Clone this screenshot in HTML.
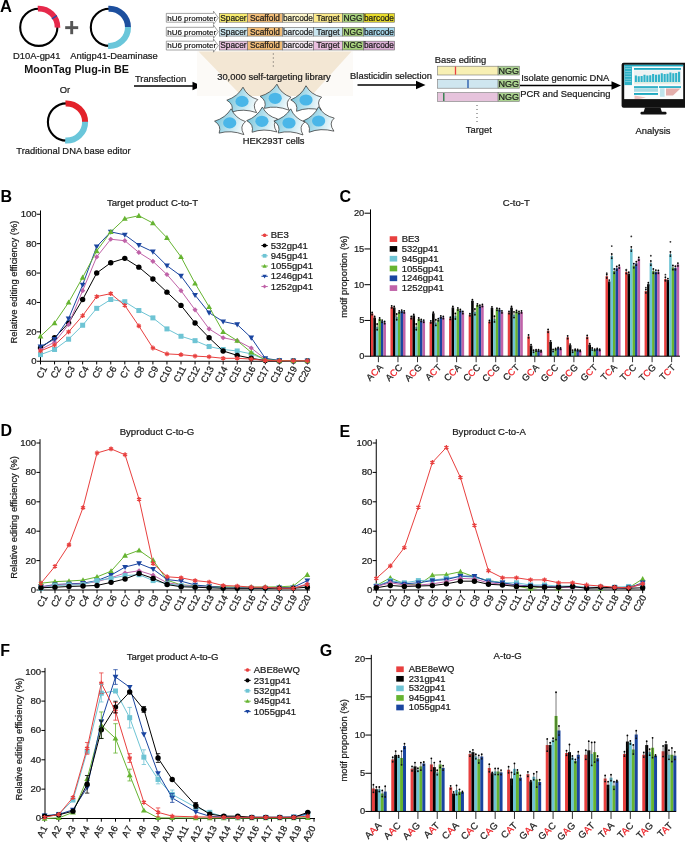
<!DOCTYPE html>
<html><head><meta charset="utf-8"><style>
html,body{margin:0;padding:0;background:#fff;}
svg{display:block;will-change:transform;}
text{font-family:"Liberation Sans",sans-serif;}
</style></head><body>
<svg width="685" height="842" viewBox="0 0 685 842">
<rect width="685" height="842" fill="#fff"/>
<defs><linearGradient id="cellg" x1="0" y1="0.2" x2="1" y2="0.5"><stop offset="0" stop-color="#72c0d6"/><stop offset="0.45" stop-color="#a9dbea"/><stop offset="1" stop-color="#f3fafc"/></linearGradient></defs>
<text x="0" y="12.2" font-size="16.5" text-anchor="start" font-weight="bold" fill="#000">A</text>
<circle cx="38.8" cy="27.3" r="18.6" fill="none" stroke="#000" stroke-width="2.1"/>
<path d="M37.82 8.63A18.7 18.7 0 0 1 57.5 27.63" fill="none" stroke="#e6294b" stroke-width="5.6"/>
<line x1="51.88" y1="18.8" x2="56.92" y2="15.54" stroke="#2c4aa0" stroke-width="1.4"/>
<rect x="65.2" y="26.2" width="13" height="2.9" fill="#555" stroke="none" stroke-width="0.6"/>
<rect x="70.25" y="21" width="2.9" height="13.2" fill="#555" stroke="none" stroke-width="0.6"/>
<circle cx="109.4" cy="27.3" r="18.6" fill="none" stroke="#000" stroke-width="2.1"/>
<path d="M108.43 8.73A18.6 18.6 0 0 1 128 27.62" fill="none" stroke="#1d4f9e" stroke-width="6"/>
<path d="M128 26.98A18.6 18.6 0 0 1 108.1 45.85" fill="none" stroke="#6ac6da" stroke-width="6"/>
<text x="36.8" y="58.9" font-size="9.4" text-anchor="middle" font-weight="normal" fill="#1a1a1a" stroke="#1a1a1a" stroke-width="0.22">D10A-gp41</text>
<text x="114" y="58.9" font-size="9.4" text-anchor="middle" font-weight="normal" fill="#1a1a1a" stroke="#1a1a1a" stroke-width="0.22">Antigp41-Deaminase</text>
<text x="76.6" y="73.4" font-size="10.8" text-anchor="middle" font-weight="bold" fill="#111">MoonTag Plug-in BE</text>
<text x="65" y="93.4" font-size="9.4" text-anchor="middle" font-weight="normal" fill="#1a1a1a" stroke="#1a1a1a" stroke-width="0.22">Or</text>
<circle cx="66.5" cy="122" r="18.6" fill="none" stroke="#000" stroke-width="2.1"/>
<path d="M65.53 103.43A18.6 18.6 0 0 1 85.1 122.32" fill="none" stroke="#e3222a" stroke-width="6"/>
<path d="M85.1 121.68A18.6 18.6 0 0 1 65.2 140.55" fill="none" stroke="#6ac6da" stroke-width="6"/>
<text x="73.5" y="154.2" font-size="9.4" text-anchor="middle" font-weight="normal" fill="#1a1a1a" stroke="#1a1a1a" stroke-width="0.22">Traditional DNA base editor</text>
<text x="160.5" y="81.8" font-size="9.4" text-anchor="middle" font-weight="normal" fill="#1a1a1a" stroke="#1a1a1a" stroke-width="0.22">Transfection</text>
<line x1="134" y1="86" x2="193.5" y2="86" stroke="#000000" stroke-width="1.3"/>
<path d="M202 86L192.5 81.7L192.5 90.3Z" fill="#000"/>
<rect x="197" y="51" width="156" height="45" fill="#fcfaf7"/>
<path d="M198.5 51.5L351.5 51.5L311.2 96L241.7 96Z" fill="#f3e7d4"/>
<path d="M166.3 13.4L213.5 13.4L213.5 11.2L218.3 17.8L213.5 24.4L213.5 22.2L166.3 22.2Z" fill="#fff" stroke="#666" stroke-width="0.6"/>
<text x="167.2" y="20.6" font-size="8" text-anchor="start" font-weight="normal" fill="#1a1a1a" stroke="#1a1a1a" stroke-width="0.22">hU6 promoter</text>
<rect x="219.3" y="13.4" width="28.2" height="8.8" fill="#f7eb6e" stroke="#666" stroke-width="0.6"/>
<text x="233.4" y="20.6" font-size="8.3" text-anchor="middle" font-weight="normal" fill="#1a1a1a" stroke="#1a1a1a" stroke-width="0.22">Spacer</text>
<rect x="247.5" y="13.4" width="34.9" height="8.8" fill="#f2bd78" stroke="#666" stroke-width="0.6"/>
<text x="264.95" y="20.6" font-size="8.3" text-anchor="middle" font-weight="normal" fill="#1a1a1a" stroke="#1a1a1a" stroke-width="0.22">Scaffold</text>
<rect x="282.4" y="13.4" width="31.2" height="8.8" fill="#fdf6cc" stroke="#666" stroke-width="0.6"/>
<text x="298" y="20.6" font-size="8.3" text-anchor="middle" font-weight="normal" fill="#1a1a1a" stroke="#1a1a1a" stroke-width="0.22">barcode</text>
<rect x="313.6" y="13.4" width="28.9" height="8.8" fill="#fbe98a" stroke="#666" stroke-width="0.6"/>
<text x="328.05" y="20.6" font-size="8.3" text-anchor="middle" font-weight="normal" fill="#1a1a1a" stroke="#1a1a1a" stroke-width="0.22">Target</text>
<rect x="342.5" y="13.4" width="20.9" height="8.8" fill="#a6d07c" stroke="#666" stroke-width="0.6"/>
<text x="352.95" y="20.6" font-size="8.3" text-anchor="middle" font-weight="normal" fill="#1a1a1a" stroke="#1a1a1a" stroke-width="0.22">NGG</text>
<rect x="363.4" y="13.4" width="31.2" height="8.8" fill="#e8dc2a" stroke="#666" stroke-width="0.6"/>
<text x="379" y="20.6" font-size="8.3" text-anchor="middle" font-weight="normal" fill="#1a1a1a" stroke="#1a1a1a" stroke-width="0.22">barcode</text>
<path d="M166.3 27.3L213.5 27.3L213.5 25.1L218.3 31.7L213.5 38.3L213.5 36.1L166.3 36.1Z" fill="#fff" stroke="#666" stroke-width="0.6"/>
<text x="167.2" y="34.5" font-size="8" text-anchor="start" font-weight="normal" fill="#1a1a1a" stroke="#1a1a1a" stroke-width="0.22">hU6 promoter</text>
<rect x="219.3" y="27.3" width="28.2" height="8.8" fill="#cce7f0" stroke="#666" stroke-width="0.6"/>
<text x="233.4" y="34.5" font-size="8.3" text-anchor="middle" font-weight="normal" fill="#1a1a1a" stroke="#1a1a1a" stroke-width="0.22">Spacer</text>
<rect x="247.5" y="27.3" width="34.9" height="8.8" fill="#f2bd78" stroke="#666" stroke-width="0.6"/>
<text x="264.95" y="34.5" font-size="8.3" text-anchor="middle" font-weight="normal" fill="#1a1a1a" stroke="#1a1a1a" stroke-width="0.22">Scaffold</text>
<rect x="282.4" y="27.3" width="31.2" height="8.8" fill="#e9f5f9" stroke="#666" stroke-width="0.6"/>
<text x="298" y="34.5" font-size="8.3" text-anchor="middle" font-weight="normal" fill="#1a1a1a" stroke="#1a1a1a" stroke-width="0.22">barcode</text>
<rect x="313.6" y="27.3" width="28.9" height="8.8" fill="#c9e6f0" stroke="#666" stroke-width="0.6"/>
<text x="328.05" y="34.5" font-size="8.3" text-anchor="middle" font-weight="normal" fill="#1a1a1a" stroke="#1a1a1a" stroke-width="0.22">Target</text>
<rect x="342.5" y="27.3" width="20.9" height="8.8" fill="#a6d07c" stroke="#666" stroke-width="0.6"/>
<text x="352.95" y="34.5" font-size="8.3" text-anchor="middle" font-weight="normal" fill="#1a1a1a" stroke="#1a1a1a" stroke-width="0.22">NGG</text>
<rect x="363.4" y="27.3" width="31.2" height="8.8" fill="#a6d8ec" stroke="#666" stroke-width="0.6"/>
<text x="379" y="34.5" font-size="8.3" text-anchor="middle" font-weight="normal" fill="#1a1a1a" stroke="#1a1a1a" stroke-width="0.22">barcode</text>
<path d="M166.3 41.2L213.5 41.2L213.5 39L218.3 45.6L213.5 52.2L213.5 50L166.3 50Z" fill="#fff" stroke="#666" stroke-width="0.6"/>
<text x="167.2" y="48.4" font-size="8" text-anchor="start" font-weight="normal" fill="#1a1a1a" stroke="#1a1a1a" stroke-width="0.22">hU6 promoter</text>
<rect x="219.3" y="41.2" width="28.2" height="8.8" fill="#e9c3e0" stroke="#666" stroke-width="0.6"/>
<text x="233.4" y="48.4" font-size="8.3" text-anchor="middle" font-weight="normal" fill="#1a1a1a" stroke="#1a1a1a" stroke-width="0.22">Spacer</text>
<rect x="247.5" y="41.2" width="34.9" height="8.8" fill="#f2bd78" stroke="#666" stroke-width="0.6"/>
<text x="264.95" y="48.4" font-size="8.3" text-anchor="middle" font-weight="normal" fill="#1a1a1a" stroke="#1a1a1a" stroke-width="0.22">Scaffold</text>
<rect x="282.4" y="41.2" width="31.2" height="8.8" fill="#f6e9f3" stroke="#666" stroke-width="0.6"/>
<text x="298" y="48.4" font-size="8.3" text-anchor="middle" font-weight="normal" fill="#1a1a1a" stroke="#1a1a1a" stroke-width="0.22">barcode</text>
<rect x="313.6" y="41.2" width="28.9" height="8.8" fill="#ebc0e0" stroke="#666" stroke-width="0.6"/>
<text x="328.05" y="48.4" font-size="8.3" text-anchor="middle" font-weight="normal" fill="#1a1a1a" stroke="#1a1a1a" stroke-width="0.22">Target</text>
<rect x="342.5" y="41.2" width="20.9" height="8.8" fill="#a6d07c" stroke="#666" stroke-width="0.6"/>
<text x="352.95" y="48.4" font-size="8.3" text-anchor="middle" font-weight="normal" fill="#1a1a1a" stroke="#1a1a1a" stroke-width="0.22">NGG</text>
<rect x="363.4" y="41.2" width="31.2" height="8.8" fill="#dcb0d6" stroke="#666" stroke-width="0.6"/>
<text x="379" y="48.4" font-size="8.3" text-anchor="middle" font-weight="normal" fill="#1a1a1a" stroke="#1a1a1a" stroke-width="0.22">barcode</text>
<line x1="273.3" y1="53.5" x2="273.3" y2="67.5" stroke="#444" stroke-width="0.9" stroke-dasharray="1 3"/>
<text x="274" y="80.2" font-size="9.4" text-anchor="middle" font-weight="normal" fill="#1a1a1a" stroke="#1a1a1a" stroke-width="0.22">30,000 self-targeting library</text>
<path d="M243 87.2Q247.21 96.44 257.8 99.6Q251.42 104.31 256.6 112.6Q243.36 108.16 231.8 112Q234.13 104.31 226.8 100.2Q237.6 96.63 243 87.2Z" fill="url(#cellg)" stroke="#2b2b2b" stroke-width="0.7" stroke-linejoin="miter" transform="rotate(0 242 101.4)"/>
<ellipse cx="242" cy="101.4" rx="6.6" ry="5.6" fill="#4ab6e8"/>
<path d="M276.2 84.1Q280.41 93.34 291 96.5Q284.62 101.21 289.8 109.5Q276.56 105.06 265 108.9Q267.33 101.21 260 97.1Q270.8 93.53 276.2 84.1Z" fill="url(#cellg)" stroke="#2b2b2b" stroke-width="0.7" stroke-linejoin="miter" transform="rotate(3 275.2 98.3)"/>
<ellipse cx="275.2" cy="98.3" rx="6.6" ry="5.6" fill="#4ab6e8"/>
<path d="M307 85.8Q311.21 95.04 321.8 98.2Q315.42 102.91 320.6 111.2Q307.36 106.76 295.8 110.6Q298.13 102.91 290.8 98.8Q301.6 95.23 307 85.8Z" fill="url(#cellg)" stroke="#2b2b2b" stroke-width="0.7" stroke-linejoin="miter" transform="rotate(-4 306 100)"/>
<ellipse cx="306" cy="100" rx="6.6" ry="5.6" fill="#4ab6e8"/>
<path d="M230.7 108.7Q234.91 117.94 245.5 121.1Q239.12 125.81 244.3 134.1Q231.06 129.66 219.5 133.5Q221.83 125.81 214.5 121.7Q225.3 118.13 230.7 108.7Z" fill="url(#cellg)" stroke="#2b2b2b" stroke-width="0.7" stroke-linejoin="miter" transform="rotate(2 229.7 122.9)"/>
<ellipse cx="229.7" cy="122.9" rx="6.6" ry="5.6" fill="#4ab6e8"/>
<path d="M262.9 107.1Q267.11 116.34 277.7 119.5Q271.32 124.21 276.5 132.5Q263.26 128.06 251.7 131.9Q254.03 124.21 246.7 120.1Q257.5 116.53 262.9 107.1Z" fill="url(#cellg)" stroke="#2b2b2b" stroke-width="0.7" stroke-linejoin="miter" transform="rotate(-2 261.9 121.3)"/>
<ellipse cx="261.9" cy="121.3" rx="6.6" ry="5.6" fill="#4ab6e8"/>
<path d="M290 108.8Q294.21 118.04 304.8 121.2Q298.42 125.91 303.6 134.2Q290.36 129.76 278.8 133.6Q281.13 125.91 273.8 121.8Q284.6 118.23 290 108.8Z" fill="url(#cellg)" stroke="#2b2b2b" stroke-width="0.7" stroke-linejoin="miter" transform="rotate(3 289 123)"/>
<ellipse cx="289" cy="123" rx="6.6" ry="5.6" fill="#4ab6e8"/>
<path d="M319.6 106.8Q323.81 116.04 334.4 119.2Q328.02 123.91 333.2 132.2Q319.96 127.76 308.4 131.6Q310.73 123.91 303.4 119.8Q314.2 116.23 319.6 106.8Z" fill="url(#cellg)" stroke="#2b2b2b" stroke-width="0.7" stroke-linejoin="miter" transform="rotate(-4 318.6 121)"/>
<ellipse cx="318.6" cy="121" rx="6.6" ry="5.6" fill="#4ab6e8"/>
<text x="273.6" y="144.4" font-size="9.4" text-anchor="middle" font-weight="normal" fill="#1a1a1a" stroke="#1a1a1a" stroke-width="0.22">HEK293T cells</text>
<text x="391" y="79.4" font-size="9.4" text-anchor="middle" font-weight="normal" fill="#1a1a1a" stroke="#1a1a1a" stroke-width="0.22">Blasticidin selection</text>
<line x1="357.5" y1="85" x2="417" y2="85" stroke="#000000" stroke-width="1.3"/>
<path d="M425.5 85L416 80.7L416 89.3Z" fill="#000"/>
<text x="460.5" y="62.5" font-size="9.4" text-anchor="middle" font-weight="normal" fill="#1a1a1a" stroke="#1a1a1a" stroke-width="0.22">Base editing</text>
<rect x="437.6" y="66.2" width="60.5" height="8.8" fill="#f8f0b4" stroke="#777" stroke-width="0.6"/>
<rect x="498.1" y="66.2" width="21.2" height="8.8" fill="#a9d18e" stroke="#777" stroke-width="0.6"/>
<text x="508.7" y="73.8" font-size="9" text-anchor="middle" font-weight="normal" fill="#1a1a1a" stroke="#1a1a1a" stroke-width="0.22">NGG</text>
<line x1="455.5" y1="66.5" x2="455.5" y2="74.7" stroke="#e8403f" stroke-width="1.3"/>
<rect x="437.6" y="79.4" width="60.5" height="8.8" fill="#cfe6ef" stroke="#777" stroke-width="0.6"/>
<rect x="498.1" y="79.4" width="21.2" height="8.8" fill="#a9d18e" stroke="#777" stroke-width="0.6"/>
<text x="508.7" y="87" font-size="9" text-anchor="middle" font-weight="normal" fill="#1a1a1a" stroke="#1a1a1a" stroke-width="0.22">NGG</text>
<line x1="468" y1="79.7" x2="468" y2="87.9" stroke="#1f54a8" stroke-width="1.3"/>
<rect x="437.6" y="92.6" width="60.5" height="8.8" fill="#e6c3dc" stroke="#777" stroke-width="0.6"/>
<rect x="498.1" y="92.6" width="21.2" height="8.8" fill="#a9d18e" stroke="#777" stroke-width="0.6"/>
<text x="508.7" y="100.2" font-size="9" text-anchor="middle" font-weight="normal" fill="#1a1a1a" stroke="#1a1a1a" stroke-width="0.22">NGG</text>
<line x1="443.8" y1="92.9" x2="443.8" y2="101.1" stroke="#1f7a3e" stroke-width="1.3"/>
<line x1="477" y1="105" x2="477" y2="123" stroke="#444" stroke-width="0.9" stroke-dasharray="1 3"/>
<text x="478.8" y="133.4" font-size="9.4" text-anchor="middle" font-weight="normal" fill="#1a1a1a" stroke="#1a1a1a" stroke-width="0.22">Target</text>
<text x="565.3" y="81" font-size="9.4" text-anchor="middle" font-weight="normal" fill="#1a1a1a" stroke="#1a1a1a" stroke-width="0.22">Isolate genomic DNA</text>
<text x="565.3" y="96.8" font-size="9.4" text-anchor="middle" font-weight="normal" fill="#1a1a1a" stroke="#1a1a1a" stroke-width="0.22">PCR and Sequencing</text>
<line x1="520" y1="85.5" x2="612.5" y2="85.5" stroke="#000000" stroke-width="1.3"/>
<path d="M621 85.5L611.5 81.2L611.5 89.8Z" fill="#000"/>
<rect x="621.6" y="62.7" width="66" height="45" rx="2" fill="#111"/>
<rect x="624.2" y="64.8" width="59" height="34.3" fill="#fbfcfc" stroke="none" stroke-width="0.6"/>
<rect x="624.2" y="64.8" width="59" height="1.6" fill="#1fa9c0" stroke="none" stroke-width="0.6"/>
<rect x="624.4" y="66.4" width="7.6" height="18.7" fill="#2fb2c7" stroke="none" stroke-width="0.6"/>
<rect x="625.2" y="68.5" width="6" height="0.5" fill="#bfe6ee" stroke="none" stroke-width="0.6"/>
<rect x="625.2" y="71.1" width="6" height="0.5" fill="#bfe6ee" stroke="none" stroke-width="0.6"/>
<rect x="625.2" y="73.7" width="6" height="0.5" fill="#bfe6ee" stroke="none" stroke-width="0.6"/>
<rect x="625.2" y="76.3" width="6" height="0.5" fill="#bfe6ee" stroke="none" stroke-width="0.6"/>
<rect x="625.2" y="78.9" width="6" height="0.5" fill="#bfe6ee" stroke="none" stroke-width="0.6"/>
<rect x="625.2" y="81.5" width="6" height="0.5" fill="#bfe6ee" stroke="none" stroke-width="0.6"/>
<rect x="634" y="68" width="47" height="1.8" fill="#1fa9c0" stroke="none" stroke-width="0.6"/>
<rect x="634" y="70.3" width="47" height="14.3" fill="#eef2f3" stroke="none" stroke-width="0.6"/>
<rect x="634.8" y="75.5" width="2.1" height="6.5" fill="#2fb3c9" stroke="none" stroke-width="0.6"/>
<rect x="637.68" y="76.25" width="2.1" height="5.75" fill="#2fb3c9" stroke="none" stroke-width="0.6"/>
<rect x="640.56" y="76" width="2.1" height="6" fill="#2fb3c9" stroke="none" stroke-width="0.6"/>
<rect x="643.44" y="74.75" width="2.1" height="7.25" fill="#2fb3c9" stroke="none" stroke-width="0.6"/>
<rect x="646.32" y="75.5" width="2.1" height="6.5" fill="#2fb3c9" stroke="none" stroke-width="0.6"/>
<rect x="649.2" y="75.25" width="2.1" height="6.75" fill="#2fb3c9" stroke="none" stroke-width="0.6"/>
<rect x="652.08" y="74" width="2.1" height="8" fill="#2fb3c9" stroke="none" stroke-width="0.6"/>
<rect x="654.96" y="74.75" width="2.1" height="7.25" fill="#2fb3c9" stroke="none" stroke-width="0.6"/>
<rect x="657.84" y="74.5" width="2.1" height="7.5" fill="#2fb3c9" stroke="none" stroke-width="0.6"/>
<rect x="660.72" y="73.25" width="2.1" height="8.75" fill="#2fb3c9" stroke="none" stroke-width="0.6"/>
<rect x="663.6" y="74" width="2.1" height="8" fill="#2fb3c9" stroke="none" stroke-width="0.6"/>
<rect x="666.48" y="73.75" width="2.1" height="8.25" fill="#2fb3c9" stroke="none" stroke-width="0.6"/>
<rect x="669.36" y="72.5" width="2.1" height="9.5" fill="#2fb3c9" stroke="none" stroke-width="0.6"/>
<rect x="672.24" y="73.25" width="2.1" height="8.75" fill="#2fb3c9" stroke="none" stroke-width="0.6"/>
<rect x="675.12" y="73" width="2.1" height="9" fill="#2fb3c9" stroke="none" stroke-width="0.6"/>
<rect x="678" y="71.75" width="2.1" height="10.25" fill="#2fb3c9" stroke="none" stroke-width="0.6"/>
<rect x="634" y="82.6" width="47" height="0.6" fill="#c9e6c0" stroke="none" stroke-width="0.6"/>
<rect x="634" y="86.2" width="24" height="1.7" fill="#1fa9c0" stroke="none" stroke-width="0.6"/>
<rect x="634" y="88.2" width="24" height="3.6" fill="#a9dbe4" stroke="none" stroke-width="0.6"/>
<rect x="634" y="93" width="24" height="1.9" fill="#1fa9c0" stroke="none" stroke-width="0.6"/>
<rect x="659" y="86.2" width="22" height="1.7" fill="#1fa9c0" stroke="none" stroke-width="0.6"/>
<rect x="660" y="88.3" width="4.6" height="8.5" fill="#bfe4ec" stroke="none" stroke-width="0.6"/>
<path d="M666 88.5L680.5 88.5L673 95.5L666 95.5Z" fill="#e3aeab"/>
<path d="M634.5 95.4L646 97.5L639 99L634.5 99Z" fill="#ecc1be"/>
<path d="M645 107.5L660.5 107.5L662 112.5L643.5 112.5Z" fill="#111"/>
<rect x="640.5" y="111.8" width="26" height="2.6" rx="1.2" fill="#111"/>
<text x="653" y="133.9" font-size="9.4" text-anchor="middle" font-weight="normal" fill="#1a1a1a" stroke="#1a1a1a" stroke-width="0.22">Analysis</text>
<text x="0.6" y="202" font-size="16" text-anchor="start" font-weight="bold" fill="#000">B</text>
<text x="152.5" y="205.7" font-size="9.6" text-anchor="middle" font-weight="normal" fill="#1a1a1a" stroke="#1a1a1a" stroke-width="0.22">Target product C-to-T</text>
<text x="0" y="0" font-size="9.4" text-anchor="middle" font-weight="normal" fill="#1a1a1a" transform="translate(17.1,282) rotate(-90)" stroke="#1a1a1a" stroke-width="0.22">Relative editing efficiency (%)</text>
<line x1="40.5" y1="361.75" x2="40.5" y2="210.45" stroke="#000000" stroke-width="1"/>
<line x1="36.9" y1="361.25" x2="40.5" y2="361.25" stroke="#000000" stroke-width="1"/>
<text x="36.7" y="364.15" font-size="9.6" text-anchor="end" font-weight="normal" fill="#1a1a1a" stroke="#1a1a1a" stroke-width="0.22">0</text>
<line x1="36.9" y1="331.85" x2="40.5" y2="331.85" stroke="#000000" stroke-width="1"/>
<text x="36.7" y="334.75" font-size="9.6" text-anchor="end" font-weight="normal" fill="#1a1a1a" stroke="#1a1a1a" stroke-width="0.22">20</text>
<line x1="36.9" y1="302.45" x2="40.5" y2="302.45" stroke="#000000" stroke-width="1"/>
<text x="36.7" y="305.35" font-size="9.6" text-anchor="end" font-weight="normal" fill="#1a1a1a" stroke="#1a1a1a" stroke-width="0.22">40</text>
<line x1="36.9" y1="273.05" x2="40.5" y2="273.05" stroke="#000000" stroke-width="1"/>
<text x="36.7" y="275.95" font-size="9.6" text-anchor="end" font-weight="normal" fill="#1a1a1a" stroke="#1a1a1a" stroke-width="0.22">60</text>
<line x1="36.9" y1="243.65" x2="40.5" y2="243.65" stroke="#000000" stroke-width="1"/>
<text x="36.7" y="246.55" font-size="9.6" text-anchor="end" font-weight="normal" fill="#1a1a1a" stroke="#1a1a1a" stroke-width="0.22">80</text>
<line x1="36.9" y1="214.25" x2="40.5" y2="214.25" stroke="#000000" stroke-width="1"/>
<text x="36.7" y="217.15" font-size="9.6" text-anchor="end" font-weight="normal" fill="#1a1a1a" stroke="#1a1a1a" stroke-width="0.22">100</text>
<line x1="40" y1="361.25" x2="310" y2="361.25" stroke="#000000" stroke-width="1"/>
<line x1="40.5" y1="361.25" x2="40.5" y2="364.45" stroke="#000000" stroke-width="1"/>
<text font-size="9.4" text-anchor="end" fill="#1a1a1a" stroke="#1a1a1a" stroke-width="0.22" transform="translate(47.5,368.35) rotate(-62)">C1</text>
<line x1="54.55" y1="361.25" x2="54.55" y2="364.45" stroke="#000000" stroke-width="1"/>
<text font-size="9.4" text-anchor="end" fill="#1a1a1a" stroke="#1a1a1a" stroke-width="0.22" transform="translate(61.39,368.35) rotate(-62)">C2</text>
<line x1="68.6" y1="361.25" x2="68.6" y2="364.45" stroke="#000000" stroke-width="1"/>
<text font-size="9.4" text-anchor="end" fill="#1a1a1a" stroke="#1a1a1a" stroke-width="0.22" transform="translate(75.28,368.35) rotate(-62)">C3</text>
<line x1="82.65" y1="361.25" x2="82.65" y2="364.45" stroke="#000000" stroke-width="1"/>
<text font-size="9.4" text-anchor="end" fill="#1a1a1a" stroke="#1a1a1a" stroke-width="0.22" transform="translate(89.17,368.35) rotate(-62)">C4</text>
<line x1="96.7" y1="361.25" x2="96.7" y2="364.45" stroke="#000000" stroke-width="1"/>
<text font-size="9.4" text-anchor="end" fill="#1a1a1a" stroke="#1a1a1a" stroke-width="0.22" transform="translate(103.06,368.35) rotate(-62)">C5</text>
<line x1="110.75" y1="361.25" x2="110.75" y2="364.45" stroke="#000000" stroke-width="1"/>
<text font-size="9.4" text-anchor="end" fill="#1a1a1a" stroke="#1a1a1a" stroke-width="0.22" transform="translate(116.95,368.35) rotate(-62)">C6</text>
<line x1="124.8" y1="361.25" x2="124.8" y2="364.45" stroke="#000000" stroke-width="1"/>
<text font-size="9.4" text-anchor="end" fill="#1a1a1a" stroke="#1a1a1a" stroke-width="0.22" transform="translate(130.84,368.35) rotate(-62)">C7</text>
<line x1="138.85" y1="361.25" x2="138.85" y2="364.45" stroke="#000000" stroke-width="1"/>
<text font-size="9.4" text-anchor="end" fill="#1a1a1a" stroke="#1a1a1a" stroke-width="0.22" transform="translate(144.73,368.35) rotate(-62)">C8</text>
<line x1="152.9" y1="361.25" x2="152.9" y2="364.45" stroke="#000000" stroke-width="1"/>
<text font-size="9.4" text-anchor="end" fill="#1a1a1a" stroke="#1a1a1a" stroke-width="0.22" transform="translate(158.62,368.35) rotate(-62)">C9</text>
<line x1="166.95" y1="361.25" x2="166.95" y2="364.45" stroke="#000000" stroke-width="1"/>
<text font-size="9.4" text-anchor="end" fill="#1a1a1a" stroke="#1a1a1a" stroke-width="0.22" transform="translate(172.51,368.35) rotate(-62)">C10</text>
<line x1="181" y1="361.25" x2="181" y2="364.45" stroke="#000000" stroke-width="1"/>
<text font-size="9.4" text-anchor="end" fill="#1a1a1a" stroke="#1a1a1a" stroke-width="0.22" transform="translate(186.4,368.35) rotate(-62)">C11</text>
<line x1="195.05" y1="361.25" x2="195.05" y2="364.45" stroke="#000000" stroke-width="1"/>
<text font-size="9.4" text-anchor="end" fill="#1a1a1a" stroke="#1a1a1a" stroke-width="0.22" transform="translate(200.29,368.35) rotate(-62)">C12</text>
<line x1="209.1" y1="361.25" x2="209.1" y2="364.45" stroke="#000000" stroke-width="1"/>
<text font-size="9.4" text-anchor="end" fill="#1a1a1a" stroke="#1a1a1a" stroke-width="0.22" transform="translate(214.18,368.35) rotate(-62)">C13</text>
<line x1="223.15" y1="361.25" x2="223.15" y2="364.45" stroke="#000000" stroke-width="1"/>
<text font-size="9.4" text-anchor="end" fill="#1a1a1a" stroke="#1a1a1a" stroke-width="0.22" transform="translate(228.07,368.35) rotate(-62)">C14</text>
<line x1="237.2" y1="361.25" x2="237.2" y2="364.45" stroke="#000000" stroke-width="1"/>
<text font-size="9.4" text-anchor="end" fill="#1a1a1a" stroke="#1a1a1a" stroke-width="0.22" transform="translate(241.96,368.35) rotate(-62)">C15</text>
<line x1="251.25" y1="361.25" x2="251.25" y2="364.45" stroke="#000000" stroke-width="1"/>
<text font-size="9.4" text-anchor="end" fill="#1a1a1a" stroke="#1a1a1a" stroke-width="0.22" transform="translate(255.85,368.35) rotate(-62)">C16</text>
<line x1="265.3" y1="361.25" x2="265.3" y2="364.45" stroke="#000000" stroke-width="1"/>
<text font-size="9.4" text-anchor="end" fill="#1a1a1a" stroke="#1a1a1a" stroke-width="0.22" transform="translate(269.74,368.35) rotate(-62)">C17</text>
<line x1="279.35" y1="361.25" x2="279.35" y2="364.45" stroke="#000000" stroke-width="1"/>
<text font-size="9.4" text-anchor="end" fill="#1a1a1a" stroke="#1a1a1a" stroke-width="0.22" transform="translate(283.63,368.35) rotate(-62)">C18</text>
<line x1="293.4" y1="361.25" x2="293.4" y2="364.45" stroke="#000000" stroke-width="1"/>
<text font-size="9.4" text-anchor="end" fill="#1a1a1a" stroke="#1a1a1a" stroke-width="0.22" transform="translate(297.52,368.35) rotate(-62)">C19</text>
<line x1="307.45" y1="361.25" x2="307.45" y2="364.45" stroke="#000000" stroke-width="1"/>
<text font-size="9.4" text-anchor="end" fill="#1a1a1a" stroke="#1a1a1a" stroke-width="0.22" transform="translate(311.41,368.35) rotate(-62)">C20</text>
<polyline points="40.5,354.63 54.55,349.49 68.6,339.2 82.65,325.24 96.7,308.33 110.75,299.51 124.8,301.72 138.85,310.54 152.9,317.88 166.95,328.91 181,336.26 195.05,340.67 209.1,346.55 223.15,349.49 237.2,350.96 251.25,353.9 265.3,359.78 279.35,360.81 293.4,360.81 307.45,360.81" fill="none" stroke="#6ec4d4" stroke-width="1" stroke-linejoin="round"/>
<rect x="38" y="352.13" width="5" height="5" fill="#6ec4d4" stroke="none" stroke-width="0.6"/>
<rect x="52.05" y="346.99" width="5" height="5" fill="#6ec4d4" stroke="none" stroke-width="0.6"/>
<rect x="66.1" y="336.7" width="5" height="5" fill="#6ec4d4" stroke="none" stroke-width="0.6"/>
<rect x="80.15" y="322.74" width="5" height="5" fill="#6ec4d4" stroke="none" stroke-width="0.6"/>
<rect x="94.2" y="305.83" width="5" height="5" fill="#6ec4d4" stroke="none" stroke-width="0.6"/>
<rect x="108.25" y="297.01" width="5" height="5" fill="#6ec4d4" stroke="none" stroke-width="0.6"/>
<rect x="122.3" y="299.22" width="5" height="5" fill="#6ec4d4" stroke="none" stroke-width="0.6"/>
<rect x="136.35" y="308.04" width="5" height="5" fill="#6ec4d4" stroke="none" stroke-width="0.6"/>
<rect x="150.4" y="315.38" width="5" height="5" fill="#6ec4d4" stroke="none" stroke-width="0.6"/>
<rect x="164.45" y="326.41" width="5" height="5" fill="#6ec4d4" stroke="none" stroke-width="0.6"/>
<rect x="178.5" y="333.76" width="5" height="5" fill="#6ec4d4" stroke="none" stroke-width="0.6"/>
<rect x="192.55" y="338.17" width="5" height="5" fill="#6ec4d4" stroke="none" stroke-width="0.6"/>
<rect x="206.6" y="344.05" width="5" height="5" fill="#6ec4d4" stroke="none" stroke-width="0.6"/>
<rect x="220.65" y="346.99" width="5" height="5" fill="#6ec4d4" stroke="none" stroke-width="0.6"/>
<rect x="234.7" y="348.46" width="5" height="5" fill="#6ec4d4" stroke="none" stroke-width="0.6"/>
<rect x="248.75" y="351.4" width="5" height="5" fill="#6ec4d4" stroke="none" stroke-width="0.6"/>
<rect x="262.8" y="357.28" width="5" height="5" fill="#6ec4d4" stroke="none" stroke-width="0.6"/>
<rect x="276.85" y="358.31" width="5" height="5" fill="#6ec4d4" stroke="none" stroke-width="0.6"/>
<rect x="290.9" y="358.31" width="5" height="5" fill="#6ec4d4" stroke="none" stroke-width="0.6"/>
<rect x="304.95" y="358.31" width="5" height="5" fill="#6ec4d4" stroke="none" stroke-width="0.6"/>
<polyline points="40.5,348.02 54.55,337.73 68.6,323.03 82.65,299.51 96.7,273.05 110.75,262.76 124.8,258.35 138.85,267.17 152.9,278.93 166.95,292.16 181,305.39 195.05,323.03 209.1,337.73 223.15,350.96 237.2,355.37 251.25,358.31 265.3,360.51 279.35,360.96 293.4,360.96 307.45,360.96" fill="none" stroke="#000000" stroke-width="1" stroke-linejoin="round"/>
<circle cx="40.5" cy="348.02" r="2.7" fill="#000000"/>
<circle cx="54.55" cy="337.73" r="2.7" fill="#000000"/>
<circle cx="68.6" cy="323.03" r="2.7" fill="#000000"/>
<circle cx="82.65" cy="299.51" r="2.7" fill="#000000"/>
<circle cx="96.7" cy="273.05" r="2.7" fill="#000000"/>
<circle cx="110.75" cy="262.76" r="2.7" fill="#000000"/>
<circle cx="124.8" cy="258.35" r="2.7" fill="#000000"/>
<circle cx="138.85" cy="267.17" r="2.7" fill="#000000"/>
<circle cx="152.9" cy="278.93" r="2.7" fill="#000000"/>
<circle cx="166.95" cy="292.16" r="2.7" fill="#000000"/>
<circle cx="181" cy="305.39" r="2.7" fill="#000000"/>
<circle cx="195.05" cy="323.03" r="2.7" fill="#000000"/>
<circle cx="209.1" cy="337.73" r="2.7" fill="#000000"/>
<circle cx="223.15" cy="350.96" r="2.7" fill="#000000"/>
<circle cx="237.2" cy="355.37" r="2.7" fill="#000000"/>
<circle cx="251.25" cy="358.31" r="2.7" fill="#000000"/>
<circle cx="265.3" cy="360.51" r="2.7" fill="#000000"/>
<circle cx="279.35" cy="360.96" r="2.7" fill="#000000"/>
<circle cx="293.4" cy="360.96" r="2.7" fill="#000000"/>
<circle cx="307.45" cy="360.96" r="2.7" fill="#000000"/>
<polyline points="40.5,349.49 54.55,342.14 68.6,324.5 82.65,290.69 96.7,256.88 110.75,239.24 124.8,240.71 138.85,252.47 152.9,261.29 166.95,274.52 181,290.69 195.05,309.8 209.1,328.91 223.15,337.73 237.2,340.67 251.25,348.02 265.3,359.05 279.35,360.51 293.4,360.81 307.45,360.81" fill="none" stroke="#c063a8" stroke-width="1" stroke-linejoin="round"/>
<path d="M40.5 346.89L43.1 349.49L40.5 352.09L37.9 349.49Z" fill="#c063a8"/>
<path d="M54.55 339.54L57.15 342.14L54.55 344.74L51.95 342.14Z" fill="#c063a8"/>
<path d="M68.6 321.9L71.2 324.5L68.6 327.1L66 324.5Z" fill="#c063a8"/>
<path d="M82.65 288.09L85.25 290.69L82.65 293.29L80.05 290.69Z" fill="#c063a8"/>
<path d="M96.7 254.28L99.3 256.88L96.7 259.48L94.1 256.88Z" fill="#c063a8"/>
<path d="M110.75 236.64L113.35 239.24L110.75 241.84L108.15 239.24Z" fill="#c063a8"/>
<path d="M124.8 238.11L127.4 240.71L124.8 243.31L122.2 240.71Z" fill="#c063a8"/>
<path d="M138.85 249.87L141.45 252.47L138.85 255.07L136.25 252.47Z" fill="#c063a8"/>
<path d="M152.9 258.69L155.5 261.29L152.9 263.89L150.3 261.29Z" fill="#c063a8"/>
<path d="M166.95 271.92L169.55 274.52L166.95 277.12L164.35 274.52Z" fill="#c063a8"/>
<path d="M181 288.09L183.6 290.69L181 293.29L178.4 290.69Z" fill="#c063a8"/>
<path d="M195.05 307.2L197.65 309.8L195.05 312.4L192.45 309.8Z" fill="#c063a8"/>
<path d="M209.1 326.31L211.7 328.91L209.1 331.51L206.5 328.91Z" fill="#c063a8"/>
<path d="M223.15 335.13L225.75 337.73L223.15 340.33L220.55 337.73Z" fill="#c063a8"/>
<path d="M237.2 338.07L239.8 340.67L237.2 343.27L234.6 340.67Z" fill="#c063a8"/>
<path d="M251.25 345.42L253.85 348.02L251.25 350.62L248.65 348.02Z" fill="#c063a8"/>
<path d="M265.3 356.44L267.9 359.05L265.3 361.65L262.7 359.05Z" fill="#c063a8"/>
<path d="M279.35 357.91L281.95 360.51L279.35 363.12L276.75 360.51Z" fill="#c063a8"/>
<path d="M293.4 358.21L296 360.81L293.4 363.41L290.8 360.81Z" fill="#c063a8"/>
<path d="M307.45 358.21L310.05 360.81L307.45 363.41L304.85 360.81Z" fill="#c063a8"/>
<polyline points="40.5,346.55 54.55,339.2 68.6,318.62 82.65,284.81 96.7,246.59 110.75,231.89 124.8,234.83 138.85,245.12 152.9,251.74 166.95,265.7 181,275.99 195.05,295.1 209.1,312.74 223.15,321.56 237.2,324.5 251.25,337.73 265.3,358.31 279.35,360.51 293.4,360.81 307.45,360.81" fill="none" stroke="#1a45a0" stroke-width="1" stroke-linejoin="round"/>
<path d="M40.5 349.45L43.4 344.38L37.6 344.38Z" fill="#1a45a0"/>
<path d="M54.55 342.1L57.45 337.02L51.65 337.02Z" fill="#1a45a0"/>
<path d="M68.6 321.52L71.5 316.44L65.7 316.44Z" fill="#1a45a0"/>
<path d="M82.65 287.71L85.55 282.63L79.75 282.63Z" fill="#1a45a0"/>
<path d="M96.7 249.49L99.6 244.41L93.8 244.41Z" fill="#1a45a0"/>
<path d="M110.75 234.79L113.65 229.72L107.85 229.72Z" fill="#1a45a0"/>
<path d="M124.8 237.73L127.7 232.65L121.9 232.65Z" fill="#1a45a0"/>
<path d="M138.85 248.02L141.75 242.94L135.95 242.94Z" fill="#1a45a0"/>
<path d="M152.9 254.64L155.8 249.56L150 249.56Z" fill="#1a45a0"/>
<path d="M166.95 268.6L169.85 263.52L164.05 263.52Z" fill="#1a45a0"/>
<path d="M181 278.89L183.9 273.81L178.1 273.81Z" fill="#1a45a0"/>
<path d="M195.05 298L197.95 292.93L192.15 292.93Z" fill="#1a45a0"/>
<path d="M209.1 315.64L212 310.56L206.2 310.56Z" fill="#1a45a0"/>
<path d="M223.15 324.46L226.05 319.38L220.25 319.38Z" fill="#1a45a0"/>
<path d="M237.2 327.4L240.1 322.32L234.3 322.32Z" fill="#1a45a0"/>
<path d="M251.25 340.63L254.15 335.56L248.35 335.56Z" fill="#1a45a0"/>
<path d="M265.3 361.21L268.2 356.13L262.4 356.13Z" fill="#1a45a0"/>
<path d="M279.35 363.41L282.25 358.34L276.45 358.34Z" fill="#1a45a0"/>
<path d="M293.4 363.71L296.3 358.63L290.5 358.63Z" fill="#1a45a0"/>
<path d="M307.45 363.71L310.35 358.63L304.55 358.63Z" fill="#1a45a0"/>
<polyline points="40.5,336.26 54.55,323.03 68.6,302.45 82.65,277.46 96.7,251 110.75,231.89 124.8,218.66 138.85,215.72 152.9,223.07 166.95,237.77 181,256.88 195.05,283.34 209.1,306.86 223.15,331.85 237.2,340.67 251.25,352.43 265.3,359.78 279.35,360.51 293.4,360.81 307.45,360.81" fill="none" stroke="#66b431" stroke-width="1" stroke-linejoin="round"/>
<path d="M40.5 333.36L43.4 338.44L37.6 338.44Z" fill="#66b431"/>
<path d="M54.55 320.13L57.45 325.2L51.65 325.2Z" fill="#66b431"/>
<path d="M68.6 299.55L71.5 304.62L65.7 304.62Z" fill="#66b431"/>
<path d="M82.65 274.56L85.55 279.64L79.75 279.64Z" fill="#66b431"/>
<path d="M96.7 248.1L99.6 253.18L93.8 253.18Z" fill="#66b431"/>
<path d="M110.75 228.99L113.65 234.07L107.85 234.07Z" fill="#66b431"/>
<path d="M124.8 215.76L127.7 220.84L121.9 220.84Z" fill="#66b431"/>
<path d="M138.85 212.82L141.75 217.9L135.95 217.9Z" fill="#66b431"/>
<path d="M152.9 220.17L155.8 225.25L150 225.25Z" fill="#66b431"/>
<path d="M166.95 234.87L169.85 239.94L164.05 239.94Z" fill="#66b431"/>
<path d="M181 253.98L183.9 259.06L178.1 259.06Z" fill="#66b431"/>
<path d="M195.05 280.44L197.95 285.52L192.15 285.52Z" fill="#66b431"/>
<path d="M209.1 303.96L212 309.04L206.2 309.04Z" fill="#66b431"/>
<path d="M223.15 328.95L226.05 334.03L220.25 334.03Z" fill="#66b431"/>
<path d="M237.2 337.77L240.1 342.85L234.3 342.85Z" fill="#66b431"/>
<path d="M251.25 349.53L254.15 354.61L248.35 354.61Z" fill="#66b431"/>
<path d="M265.3 356.88L268.2 361.95L262.4 361.95Z" fill="#66b431"/>
<path d="M279.35 357.62L282.25 362.69L276.45 362.69Z" fill="#66b431"/>
<path d="M293.4 357.91L296.3 362.98L290.5 362.98Z" fill="#66b431"/>
<path d="M307.45 357.91L310.35 362.98L304.55 362.98Z" fill="#66b431"/>
<polyline points="40.5,350.96 54.55,345.08 68.6,331.85 82.65,315.68 96.7,296.57 110.75,293.63 124.8,305.39 138.85,325.97 152.9,348.02 166.95,353.9 181,354.63 195.05,356.11 209.1,356.84 223.15,358.31 237.2,358.31 251.25,359.05 265.3,360.51 279.35,360.81 293.4,360.81 307.45,360.81" fill="none" stroke="#e8403f" stroke-width="1" stroke-linejoin="round"/>
<path d="M40.5 348.56L40.5 353.36M38.42 349.76L42.58 352.16M38.42 352.16L42.58 349.76" stroke="#e8403f" stroke-width="1.3" fill="none"/>
<path d="M54.55 342.68L54.55 347.48M52.47 343.88L56.63 346.28M52.47 346.28L56.63 343.88" stroke="#e8403f" stroke-width="1.3" fill="none"/>
<path d="M68.6 329.45L68.6 334.25M66.52 330.65L70.68 333.05M66.52 333.05L70.68 330.65" stroke="#e8403f" stroke-width="1.3" fill="none"/>
<path d="M82.65 313.28L82.65 318.08M80.57 314.48L84.73 316.88M80.57 316.88L84.73 314.48" stroke="#e8403f" stroke-width="1.3" fill="none"/>
<path d="M96.7 294.17L96.7 298.97M94.62 295.37L98.78 297.77M94.62 297.77L98.78 295.37" stroke="#e8403f" stroke-width="1.3" fill="none"/>
<path d="M110.75 291.23L110.75 296.03M108.67 292.43L112.83 294.83M108.67 294.83L112.83 292.43" stroke="#e8403f" stroke-width="1.3" fill="none"/>
<path d="M124.8 302.99L124.8 307.79M122.72 304.19L126.88 306.59M122.72 306.59L126.88 304.19" stroke="#e8403f" stroke-width="1.3" fill="none"/>
<path d="M138.85 323.57L138.85 328.37M136.77 324.77L140.93 327.17M136.77 327.17L140.93 324.77" stroke="#e8403f" stroke-width="1.3" fill="none"/>
<path d="M152.9 345.62L152.9 350.42M150.82 346.82L154.98 349.22M150.82 349.22L154.98 346.82" stroke="#e8403f" stroke-width="1.3" fill="none"/>
<path d="M166.95 351.5L166.95 356.3M164.87 352.7L169.03 355.1M164.87 355.1L169.03 352.7" stroke="#e8403f" stroke-width="1.3" fill="none"/>
<path d="M181 352.24L181 357.03M178.92 353.44L183.08 355.83M178.92 355.83L183.08 353.44" stroke="#e8403f" stroke-width="1.3" fill="none"/>
<path d="M195.05 353.71L195.05 358.5M192.97 354.91L197.13 357.31M192.97 357.31L197.13 354.91" stroke="#e8403f" stroke-width="1.3" fill="none"/>
<path d="M209.1 354.44L209.1 359.24M207.02 355.64L211.18 358.04M207.02 358.04L211.18 355.64" stroke="#e8403f" stroke-width="1.3" fill="none"/>
<path d="M223.15 355.91L223.15 360.71M221.07 357.11L225.23 359.51M221.07 359.51L225.23 357.11" stroke="#e8403f" stroke-width="1.3" fill="none"/>
<path d="M237.2 355.91L237.2 360.71M235.12 357.11L239.28 359.51M235.12 359.51L239.28 357.11" stroke="#e8403f" stroke-width="1.3" fill="none"/>
<path d="M251.25 356.65L251.25 361.44M249.17 357.85L253.33 360.25M249.17 360.25L253.33 357.85" stroke="#e8403f" stroke-width="1.3" fill="none"/>
<path d="M265.3 358.12L265.3 362.91M263.22 359.31L267.38 361.71M263.22 361.71L267.38 359.31" stroke="#e8403f" stroke-width="1.3" fill="none"/>
<path d="M279.35 358.41L279.35 363.21M277.27 359.61L281.43 362.01M277.27 362.01L281.43 359.61" stroke="#e8403f" stroke-width="1.3" fill="none"/>
<path d="M293.4 358.41L293.4 363.21M291.32 359.61L295.48 362.01M291.32 362.01L295.48 359.61" stroke="#e8403f" stroke-width="1.3" fill="none"/>
<path d="M307.45 358.41L307.45 363.21M305.37 359.61L309.53 362.01M305.37 362.01L309.53 359.61" stroke="#e8403f" stroke-width="1.3" fill="none"/>
<line x1="261.4" y1="235.3" x2="267.8" y2="235.3" stroke="#e8403f" stroke-width="1"/>
<path d="M264.6 233.5L264.6 237.1M263.04 234.4L266.16 236.2M263.04 236.2L266.16 234.4" stroke="#e8403f" stroke-width="1.3" fill="none"/>
<text x="0" y="0" font-size="9" text-anchor="start" font-weight="normal" fill="#1a1a1a" transform="translate(270.75,238.4) scale(1.06,1)" stroke="#1a1a1a" stroke-width="0.22">BE3</text>
<line x1="261.4" y1="245.55" x2="267.8" y2="245.55" stroke="#000000" stroke-width="1"/>
<circle cx="264.6" cy="245.55" r="2.03" fill="#000000"/>
<text x="0" y="0" font-size="9" text-anchor="start" font-weight="normal" fill="#1a1a1a" transform="translate(270.75,248.65) scale(1.06,1)" stroke="#1a1a1a" stroke-width="0.22">532gp41</text>
<line x1="261.4" y1="255.8" x2="267.8" y2="255.8" stroke="#6ec4d4" stroke-width="1"/>
<rect x="262.73" y="253.93" width="3.75" height="3.75" fill="#6ec4d4" stroke="none" stroke-width="0.6"/>
<text x="0" y="0" font-size="9" text-anchor="start" font-weight="normal" fill="#1a1a1a" transform="translate(270.75,258.9) scale(1.06,1)" stroke="#1a1a1a" stroke-width="0.22">945gp41</text>
<line x1="261.4" y1="266.05" x2="267.8" y2="266.05" stroke="#66b431" stroke-width="1"/>
<path d="M264.6 263.88L266.78 267.68L262.43 267.68Z" fill="#66b431"/>
<text x="0" y="0" font-size="9" text-anchor="start" font-weight="normal" fill="#1a1a1a" transform="translate(270.75,269.15) scale(1.06,1)" stroke="#1a1a1a" stroke-width="0.22">1055gp41</text>
<line x1="261.4" y1="276.3" x2="267.8" y2="276.3" stroke="#1a45a0" stroke-width="1"/>
<path d="M264.6 278.48L266.78 274.67L262.43 274.67Z" fill="#1a45a0"/>
<text x="0" y="0" font-size="9" text-anchor="start" font-weight="normal" fill="#1a1a1a" transform="translate(270.75,279.4) scale(1.06,1)" stroke="#1a1a1a" stroke-width="0.22">1246gp41</text>
<line x1="261.4" y1="286.55" x2="267.8" y2="286.55" stroke="#c063a8" stroke-width="1"/>
<path d="M264.6 284.6L266.55 286.55L264.6 288.5L262.65 286.55Z" fill="#c063a8"/>
<text x="0" y="0" font-size="9" text-anchor="start" font-weight="normal" fill="#1a1a1a" transform="translate(270.75,289.65) scale(1.06,1)" stroke="#1a1a1a" stroke-width="0.22">1252gp41</text>
<text x="339.5" y="201.5" font-size="16" text-anchor="start" font-weight="bold" fill="#000">C</text>
<text x="516.3" y="205.7" font-size="9.6" text-anchor="middle" font-weight="normal" fill="#1a1a1a" stroke="#1a1a1a" stroke-width="0.22">C-to-T</text>
<text x="0" y="0" font-size="9.4" text-anchor="middle" font-weight="normal" fill="#1a1a1a" transform="translate(347.2,276.7) rotate(-90)" stroke="#1a1a1a" stroke-width="0.22">motif proportion (%)</text>
<line x1="370.5" y1="356.7" x2="370.5" y2="209.4" stroke="#000000" stroke-width="1"/>
<line x1="364.5" y1="356.2" x2="370.5" y2="356.2" stroke="#000000" stroke-width="1"/>
<text x="364.3" y="359.1" font-size="9.3" text-anchor="end" font-weight="normal" fill="#1a1a1a" stroke="#1a1a1a" stroke-width="0.22">0</text>
<line x1="364.5" y1="320.45" x2="370.5" y2="320.45" stroke="#000000" stroke-width="1"/>
<text x="364.3" y="323.35" font-size="9.3" text-anchor="end" font-weight="normal" fill="#1a1a1a" stroke="#1a1a1a" stroke-width="0.22">5</text>
<line x1="364.5" y1="284.7" x2="370.5" y2="284.7" stroke="#000000" stroke-width="1"/>
<text x="364.3" y="287.6" font-size="9.3" text-anchor="end" font-weight="normal" fill="#1a1a1a" stroke="#1a1a1a" stroke-width="0.22">10</text>
<line x1="364.5" y1="248.95" x2="370.5" y2="248.95" stroke="#000000" stroke-width="1"/>
<text x="364.3" y="251.85" font-size="9.3" text-anchor="end" font-weight="normal" fill="#1a1a1a" stroke="#1a1a1a" stroke-width="0.22">15</text>
<line x1="364.5" y1="213.2" x2="370.5" y2="213.2" stroke="#000000" stroke-width="1"/>
<text x="364.3" y="216.1" font-size="9.3" text-anchor="end" font-weight="normal" fill="#1a1a1a" stroke="#1a1a1a" stroke-width="0.22">20</text>
<rect x="370.9" y="313.59" width="2.55" height="42.61" fill="#e8403f" stroke="none" stroke-width="0.6"/>
<rect x="373.4" y="317.59" width="2.55" height="38.61" fill="#000000" stroke="none" stroke-width="0.6"/>
<rect x="375.9" y="326.88" width="2.55" height="29.31" fill="#6ec4d4" stroke="none" stroke-width="0.6"/>
<rect x="378.4" y="319.02" width="2.55" height="37.18" fill="#66b431" stroke="none" stroke-width="0.6"/>
<rect x="380.9" y="321.16" width="2.55" height="35.04" fill="#1a45a0" stroke="none" stroke-width="0.6"/>
<rect x="383.4" y="322.59" width="2.55" height="33.61" fill="#c063a8" stroke="none" stroke-width="0.6"/>
<rect x="390.45" y="306.87" width="2.55" height="49.34" fill="#e8403f" stroke="none" stroke-width="0.6"/>
<rect x="392.95" y="307.58" width="2.55" height="48.62" fill="#000000" stroke="none" stroke-width="0.6"/>
<rect x="395.45" y="316.88" width="2.55" height="39.33" fill="#6ec4d4" stroke="none" stroke-width="0.6"/>
<rect x="397.95" y="311.87" width="2.55" height="44.33" fill="#66b431" stroke="none" stroke-width="0.6"/>
<rect x="400.45" y="311.15" width="2.55" height="45.05" fill="#1a45a0" stroke="none" stroke-width="0.6"/>
<rect x="402.95" y="311.87" width="2.55" height="44.33" fill="#c063a8" stroke="none" stroke-width="0.6"/>
<rect x="410" y="317.59" width="2.55" height="38.61" fill="#e8403f" stroke="none" stroke-width="0.6"/>
<rect x="412.5" y="315.44" width="2.55" height="40.76" fill="#000000" stroke="none" stroke-width="0.6"/>
<rect x="415" y="326.88" width="2.55" height="29.31" fill="#6ec4d4" stroke="none" stroke-width="0.6"/>
<rect x="417.5" y="319.02" width="2.55" height="37.18" fill="#66b431" stroke="none" stroke-width="0.6"/>
<rect x="420" y="320.45" width="2.55" height="35.75" fill="#1a45a0" stroke="none" stroke-width="0.6"/>
<rect x="422.5" y="321.16" width="2.55" height="35.04" fill="#c063a8" stroke="none" stroke-width="0.6"/>
<rect x="429.55" y="321.88" width="2.55" height="34.32" fill="#e8403f" stroke="none" stroke-width="0.6"/>
<rect x="432.05" y="313.3" width="2.55" height="42.9" fill="#000000" stroke="none" stroke-width="0.6"/>
<rect x="434.55" y="322.59" width="2.55" height="33.61" fill="#6ec4d4" stroke="none" stroke-width="0.6"/>
<rect x="437.05" y="319.74" width="2.55" height="36.46" fill="#66b431" stroke="none" stroke-width="0.6"/>
<rect x="439.55" y="316.88" width="2.55" height="39.33" fill="#1a45a0" stroke="none" stroke-width="0.6"/>
<rect x="442.05" y="317.59" width="2.55" height="38.61" fill="#c063a8" stroke="none" stroke-width="0.6"/>
<rect x="449.1" y="318.31" width="2.55" height="37.9" fill="#e8403f" stroke="none" stroke-width="0.6"/>
<rect x="451.6" y="307.58" width="2.55" height="48.62" fill="#000000" stroke="none" stroke-width="0.6"/>
<rect x="454.1" y="316.16" width="2.55" height="40.04" fill="#6ec4d4" stroke="none" stroke-width="0.6"/>
<rect x="456.6" y="309.01" width="2.55" height="47.19" fill="#66b431" stroke="none" stroke-width="0.6"/>
<rect x="459.1" y="310.44" width="2.55" height="45.76" fill="#1a45a0" stroke="none" stroke-width="0.6"/>
<rect x="461.6" y="312.58" width="2.55" height="43.62" fill="#c063a8" stroke="none" stroke-width="0.6"/>
<rect x="468.65" y="314.73" width="2.55" height="41.47" fill="#e8403f" stroke="none" stroke-width="0.6"/>
<rect x="471.15" y="300.79" width="2.55" height="55.41" fill="#000000" stroke="none" stroke-width="0.6"/>
<rect x="473.65" y="311.87" width="2.55" height="44.33" fill="#6ec4d4" stroke="none" stroke-width="0.6"/>
<rect x="476.15" y="304.86" width="2.55" height="51.34" fill="#66b431" stroke="none" stroke-width="0.6"/>
<rect x="478.65" y="306.29" width="2.55" height="49.91" fill="#1a45a0" stroke="none" stroke-width="0.6"/>
<rect x="481.15" y="305.44" width="2.55" height="50.77" fill="#c063a8" stroke="none" stroke-width="0.6"/>
<rect x="488.2" y="321.52" width="2.55" height="34.68" fill="#e8403f" stroke="none" stroke-width="0.6"/>
<rect x="490.7" y="307.87" width="2.55" height="48.33" fill="#000000" stroke="none" stroke-width="0.6"/>
<rect x="493.2" y="319.02" width="2.55" height="37.18" fill="#6ec4d4" stroke="none" stroke-width="0.6"/>
<rect x="495.7" y="309.22" width="2.55" height="46.98" fill="#66b431" stroke="none" stroke-width="0.6"/>
<rect x="498.2" y="309.72" width="2.55" height="46.48" fill="#1a45a0" stroke="none" stroke-width="0.6"/>
<rect x="500.7" y="311.87" width="2.55" height="44.33" fill="#c063a8" stroke="none" stroke-width="0.6"/>
<rect x="507.75" y="312.58" width="2.55" height="43.62" fill="#e8403f" stroke="none" stroke-width="0.6"/>
<rect x="510.25" y="307.58" width="2.55" height="48.62" fill="#000000" stroke="none" stroke-width="0.6"/>
<rect x="512.75" y="314.73" width="2.55" height="41.47" fill="#6ec4d4" stroke="none" stroke-width="0.6"/>
<rect x="515.25" y="311.37" width="2.55" height="44.83" fill="#66b431" stroke="none" stroke-width="0.6"/>
<rect x="517.75" y="312.58" width="2.55" height="43.62" fill="#1a45a0" stroke="none" stroke-width="0.6"/>
<rect x="520.25" y="311.87" width="2.55" height="44.33" fill="#c063a8" stroke="none" stroke-width="0.6"/>
<rect x="527.3" y="336.39" width="2.55" height="19.81" fill="#e8403f" stroke="none" stroke-width="0.6"/>
<rect x="529.8" y="345.69" width="2.55" height="10.51" fill="#000000" stroke="none" stroke-width="0.6"/>
<rect x="532.3" y="351.27" width="2.55" height="4.93" fill="#6ec4d4" stroke="none" stroke-width="0.6"/>
<rect x="534.8" y="350.48" width="2.55" height="5.72" fill="#66b431" stroke="none" stroke-width="0.6"/>
<rect x="537.3" y="350.48" width="2.55" height="5.72" fill="#1a45a0" stroke="none" stroke-width="0.6"/>
<rect x="539.8" y="351.19" width="2.55" height="5" fill="#c063a8" stroke="none" stroke-width="0.6"/>
<rect x="546.85" y="330.82" width="2.55" height="25.38" fill="#e8403f" stroke="none" stroke-width="0.6"/>
<rect x="549.35" y="341.9" width="2.55" height="14.3" fill="#000000" stroke="none" stroke-width="0.6"/>
<rect x="551.85" y="350.48" width="2.55" height="5.72" fill="#6ec4d4" stroke="none" stroke-width="0.6"/>
<rect x="554.35" y="349.05" width="2.55" height="7.15" fill="#66b431" stroke="none" stroke-width="0.6"/>
<rect x="556.85" y="348.12" width="2.55" height="8.08" fill="#1a45a0" stroke="none" stroke-width="0.6"/>
<rect x="559.35" y="348.69" width="2.55" height="7.51" fill="#c063a8" stroke="none" stroke-width="0.6"/>
<rect x="566.4" y="337.25" width="2.55" height="18.95" fill="#e8403f" stroke="none" stroke-width="0.6"/>
<rect x="568.9" y="345.19" width="2.55" height="11.01" fill="#000000" stroke="none" stroke-width="0.6"/>
<rect x="571.4" y="351.19" width="2.55" height="5" fill="#6ec4d4" stroke="none" stroke-width="0.6"/>
<rect x="573.9" y="349.91" width="2.55" height="6.29" fill="#66b431" stroke="none" stroke-width="0.6"/>
<rect x="576.4" y="350.05" width="2.55" height="6.15" fill="#1a45a0" stroke="none" stroke-width="0.6"/>
<rect x="578.9" y="350.91" width="2.55" height="5.29" fill="#c063a8" stroke="none" stroke-width="0.6"/>
<rect x="585.95" y="336.89" width="2.55" height="19.31" fill="#e8403f" stroke="none" stroke-width="0.6"/>
<rect x="588.45" y="344.76" width="2.55" height="11.44" fill="#000000" stroke="none" stroke-width="0.6"/>
<rect x="590.95" y="349.05" width="2.55" height="7.15" fill="#6ec4d4" stroke="none" stroke-width="0.6"/>
<rect x="593.45" y="349.76" width="2.55" height="6.44" fill="#66b431" stroke="none" stroke-width="0.6"/>
<rect x="595.95" y="349.05" width="2.55" height="7.15" fill="#1a45a0" stroke="none" stroke-width="0.6"/>
<rect x="598.45" y="349.76" width="2.55" height="6.44" fill="#c063a8" stroke="none" stroke-width="0.6"/>
<rect x="605.5" y="276.19" width="2.55" height="80.01" fill="#e8403f" stroke="none" stroke-width="0.6"/>
<rect x="608" y="281.48" width="2.55" height="74.72" fill="#000000" stroke="none" stroke-width="0.6"/>
<rect x="610.5" y="256.1" width="2.55" height="100.1" fill="#6ec4d4" stroke="none" stroke-width="0.6"/>
<rect x="613" y="271.12" width="2.55" height="85.09" fill="#66b431" stroke="none" stroke-width="0.6"/>
<rect x="615.5" y="268.25" width="2.55" height="87.95" fill="#1a45a0" stroke="none" stroke-width="0.6"/>
<rect x="618" y="266.61" width="2.55" height="89.59" fill="#c063a8" stroke="none" stroke-width="0.6"/>
<rect x="625.05" y="271.83" width="2.55" height="84.37" fill="#e8403f" stroke="none" stroke-width="0.6"/>
<rect x="627.55" y="273.62" width="2.55" height="82.58" fill="#000000" stroke="none" stroke-width="0.6"/>
<rect x="630.05" y="248.95" width="2.55" height="107.25" fill="#6ec4d4" stroke="none" stroke-width="0.6"/>
<rect x="632.55" y="265.68" width="2.55" height="90.52" fill="#66b431" stroke="none" stroke-width="0.6"/>
<rect x="635.05" y="263.39" width="2.55" height="92.81" fill="#1a45a0" stroke="none" stroke-width="0.6"/>
<rect x="637.55" y="258.75" width="2.55" height="97.45" fill="#c063a8" stroke="none" stroke-width="0.6"/>
<rect x="644.6" y="291.13" width="2.55" height="65.06" fill="#e8403f" stroke="none" stroke-width="0.6"/>
<rect x="647.1" y="284.13" width="2.55" height="72.07" fill="#000000" stroke="none" stroke-width="0.6"/>
<rect x="649.6" y="263.11" width="2.55" height="93.09" fill="#6ec4d4" stroke="none" stroke-width="0.6"/>
<rect x="652.1" y="271.12" width="2.55" height="85.09" fill="#66b431" stroke="none" stroke-width="0.6"/>
<rect x="654.6" y="271.83" width="2.55" height="84.37" fill="#1a45a0" stroke="none" stroke-width="0.6"/>
<rect x="657.1" y="271.83" width="2.55" height="84.37" fill="#c063a8" stroke="none" stroke-width="0.6"/>
<rect x="664.15" y="278.98" width="2.55" height="77.22" fill="#e8403f" stroke="none" stroke-width="0.6"/>
<rect x="666.65" y="280.05" width="2.55" height="76.15" fill="#000000" stroke="none" stroke-width="0.6"/>
<rect x="669.15" y="253.95" width="2.55" height="102.25" fill="#6ec4d4" stroke="none" stroke-width="0.6"/>
<rect x="671.65" y="267.54" width="2.55" height="88.66" fill="#66b431" stroke="none" stroke-width="0.6"/>
<rect x="674.15" y="267.97" width="2.55" height="88.23" fill="#1a45a0" stroke="none" stroke-width="0.6"/>
<rect x="676.65" y="264.47" width="2.55" height="91.73" fill="#c063a8" stroke="none" stroke-width="0.6"/>
<line x1="372.15" y1="312.51" x2="372.15" y2="314.66" stroke="#222" stroke-width="0.6"/>
<circle cx="372.15" cy="312.51" r="0.9" fill="#000"/>
<circle cx="372.15" cy="314.66" r="0.9" fill="#111"/>
<line x1="374.65" y1="316.52" x2="374.65" y2="318.66" stroke="#222" stroke-width="0.6"/>
<circle cx="374.65" cy="316.52" r="0.9" fill="#000"/>
<circle cx="374.65" cy="318.66" r="0.9" fill="#111"/>
<line x1="377.15" y1="324.02" x2="377.15" y2="329.75" stroke="#222" stroke-width="0.6"/>
<circle cx="377.15" cy="324.02" r="0.9" fill="#000"/>
<circle cx="377.15" cy="329.75" r="0.9" fill="#111"/>
<line x1="379.65" y1="317.95" x2="379.65" y2="320.09" stroke="#222" stroke-width="0.6"/>
<circle cx="379.65" cy="317.95" r="0.9" fill="#000"/>
<circle cx="379.65" cy="320.09" r="0.9" fill="#111"/>
<line x1="382.15" y1="320.09" x2="382.15" y2="322.24" stroke="#222" stroke-width="0.6"/>
<circle cx="382.15" cy="320.09" r="0.9" fill="#000"/>
<circle cx="382.15" cy="322.24" r="0.9" fill="#111"/>
<line x1="384.65" y1="321.52" x2="384.65" y2="323.67" stroke="#222" stroke-width="0.6"/>
<circle cx="384.65" cy="321.52" r="0.9" fill="#000"/>
<circle cx="384.65" cy="323.67" r="0.9" fill="#111"/>
<line x1="391.7" y1="305.79" x2="391.7" y2="307.94" stroke="#222" stroke-width="0.6"/>
<circle cx="391.7" cy="305.79" r="0.9" fill="#000"/>
<circle cx="391.7" cy="307.94" r="0.9" fill="#111"/>
<line x1="394.2" y1="306.51" x2="394.2" y2="308.65" stroke="#222" stroke-width="0.6"/>
<circle cx="394.2" cy="306.51" r="0.9" fill="#000"/>
<circle cx="394.2" cy="308.65" r="0.9" fill="#111"/>
<line x1="396.7" y1="314.01" x2="396.7" y2="319.74" stroke="#222" stroke-width="0.6"/>
<circle cx="396.7" cy="314.01" r="0.9" fill="#000"/>
<circle cx="396.7" cy="319.74" r="0.9" fill="#111"/>
<line x1="399.2" y1="310.8" x2="399.2" y2="312.94" stroke="#222" stroke-width="0.6"/>
<circle cx="399.2" cy="310.8" r="0.9" fill="#000"/>
<circle cx="399.2" cy="312.94" r="0.9" fill="#111"/>
<line x1="401.7" y1="310.08" x2="401.7" y2="312.23" stroke="#222" stroke-width="0.6"/>
<circle cx="401.7" cy="310.08" r="0.9" fill="#000"/>
<circle cx="401.7" cy="312.23" r="0.9" fill="#111"/>
<line x1="404.2" y1="310.8" x2="404.2" y2="312.94" stroke="#222" stroke-width="0.6"/>
<circle cx="404.2" cy="310.8" r="0.9" fill="#000"/>
<circle cx="404.2" cy="312.94" r="0.9" fill="#111"/>
<line x1="411.25" y1="316.52" x2="411.25" y2="318.66" stroke="#222" stroke-width="0.6"/>
<circle cx="411.25" cy="316.52" r="0.9" fill="#000"/>
<circle cx="411.25" cy="318.66" r="0.9" fill="#111"/>
<line x1="413.75" y1="314.37" x2="413.75" y2="316.52" stroke="#222" stroke-width="0.6"/>
<circle cx="413.75" cy="314.37" r="0.9" fill="#000"/>
<circle cx="413.75" cy="316.52" r="0.9" fill="#111"/>
<line x1="416.25" y1="324.02" x2="416.25" y2="329.75" stroke="#222" stroke-width="0.6"/>
<circle cx="416.25" cy="324.02" r="0.9" fill="#000"/>
<circle cx="416.25" cy="329.75" r="0.9" fill="#111"/>
<line x1="418.75" y1="317.95" x2="418.75" y2="320.09" stroke="#222" stroke-width="0.6"/>
<circle cx="418.75" cy="317.95" r="0.9" fill="#000"/>
<circle cx="418.75" cy="320.09" r="0.9" fill="#111"/>
<line x1="421.25" y1="319.38" x2="421.25" y2="321.52" stroke="#222" stroke-width="0.6"/>
<circle cx="421.25" cy="319.38" r="0.9" fill="#000"/>
<circle cx="421.25" cy="321.52" r="0.9" fill="#111"/>
<line x1="423.75" y1="320.09" x2="423.75" y2="322.24" stroke="#222" stroke-width="0.6"/>
<circle cx="423.75" cy="320.09" r="0.9" fill="#000"/>
<circle cx="423.75" cy="322.24" r="0.9" fill="#111"/>
<line x1="430.8" y1="320.81" x2="430.8" y2="322.95" stroke="#222" stroke-width="0.6"/>
<circle cx="430.8" cy="320.81" r="0.9" fill="#000"/>
<circle cx="430.8" cy="322.95" r="0.9" fill="#111"/>
<line x1="433.3" y1="312.23" x2="433.3" y2="314.37" stroke="#222" stroke-width="0.6"/>
<circle cx="433.3" cy="312.23" r="0.9" fill="#000"/>
<circle cx="433.3" cy="314.37" r="0.9" fill="#111"/>
<line x1="435.8" y1="319.74" x2="435.8" y2="325.45" stroke="#222" stroke-width="0.6"/>
<circle cx="435.8" cy="319.74" r="0.9" fill="#000"/>
<circle cx="435.8" cy="325.45" r="0.9" fill="#111"/>
<line x1="438.3" y1="318.66" x2="438.3" y2="320.81" stroke="#222" stroke-width="0.6"/>
<circle cx="438.3" cy="318.66" r="0.9" fill="#000"/>
<circle cx="438.3" cy="320.81" r="0.9" fill="#111"/>
<line x1="440.8" y1="315.8" x2="440.8" y2="317.95" stroke="#222" stroke-width="0.6"/>
<circle cx="440.8" cy="315.8" r="0.9" fill="#000"/>
<circle cx="440.8" cy="317.95" r="0.9" fill="#111"/>
<line x1="443.3" y1="316.52" x2="443.3" y2="318.66" stroke="#222" stroke-width="0.6"/>
<circle cx="443.3" cy="316.52" r="0.9" fill="#000"/>
<circle cx="443.3" cy="318.66" r="0.9" fill="#111"/>
<line x1="450.35" y1="317.23" x2="450.35" y2="319.38" stroke="#222" stroke-width="0.6"/>
<circle cx="450.35" cy="317.23" r="0.9" fill="#000"/>
<circle cx="450.35" cy="319.38" r="0.9" fill="#111"/>
<line x1="452.85" y1="306.51" x2="452.85" y2="308.65" stroke="#222" stroke-width="0.6"/>
<circle cx="452.85" cy="306.51" r="0.9" fill="#000"/>
<circle cx="452.85" cy="308.65" r="0.9" fill="#111"/>
<line x1="455.35" y1="313.3" x2="455.35" y2="319.02" stroke="#222" stroke-width="0.6"/>
<circle cx="455.35" cy="313.3" r="0.9" fill="#000"/>
<circle cx="455.35" cy="319.02" r="0.9" fill="#111"/>
<line x1="457.85" y1="307.94" x2="457.85" y2="310.08" stroke="#222" stroke-width="0.6"/>
<circle cx="457.85" cy="307.94" r="0.9" fill="#000"/>
<circle cx="457.85" cy="310.08" r="0.9" fill="#111"/>
<line x1="460.35" y1="309.37" x2="460.35" y2="311.51" stroke="#222" stroke-width="0.6"/>
<circle cx="460.35" cy="309.37" r="0.9" fill="#000"/>
<circle cx="460.35" cy="311.51" r="0.9" fill="#111"/>
<line x1="462.85" y1="311.51" x2="462.85" y2="313.66" stroke="#222" stroke-width="0.6"/>
<circle cx="462.85" cy="311.51" r="0.9" fill="#000"/>
<circle cx="462.85" cy="313.66" r="0.9" fill="#111"/>
<line x1="469.9" y1="313.66" x2="469.9" y2="315.8" stroke="#222" stroke-width="0.6"/>
<circle cx="469.9" cy="313.66" r="0.9" fill="#000"/>
<circle cx="469.9" cy="315.8" r="0.9" fill="#111"/>
<line x1="472.4" y1="299.71" x2="472.4" y2="301.86" stroke="#222" stroke-width="0.6"/>
<circle cx="472.4" cy="299.71" r="0.9" fill="#000"/>
<circle cx="472.4" cy="301.86" r="0.9" fill="#111"/>
<line x1="474.9" y1="309.01" x2="474.9" y2="314.73" stroke="#222" stroke-width="0.6"/>
<circle cx="474.9" cy="309.01" r="0.9" fill="#000"/>
<circle cx="474.9" cy="314.73" r="0.9" fill="#111"/>
<line x1="477.4" y1="303.79" x2="477.4" y2="305.94" stroke="#222" stroke-width="0.6"/>
<circle cx="477.4" cy="303.79" r="0.9" fill="#000"/>
<circle cx="477.4" cy="305.94" r="0.9" fill="#111"/>
<line x1="479.9" y1="305.22" x2="479.9" y2="307.37" stroke="#222" stroke-width="0.6"/>
<circle cx="479.9" cy="305.22" r="0.9" fill="#000"/>
<circle cx="479.9" cy="307.37" r="0.9" fill="#111"/>
<line x1="482.4" y1="304.36" x2="482.4" y2="306.51" stroke="#222" stroke-width="0.6"/>
<circle cx="482.4" cy="304.36" r="0.9" fill="#000"/>
<circle cx="482.4" cy="306.51" r="0.9" fill="#111"/>
<line x1="489.45" y1="320.45" x2="489.45" y2="322.59" stroke="#222" stroke-width="0.6"/>
<circle cx="489.45" cy="320.45" r="0.9" fill="#000"/>
<circle cx="489.45" cy="322.59" r="0.9" fill="#111"/>
<line x1="491.95" y1="306.79" x2="491.95" y2="308.94" stroke="#222" stroke-width="0.6"/>
<circle cx="491.95" cy="306.79" r="0.9" fill="#000"/>
<circle cx="491.95" cy="308.94" r="0.9" fill="#111"/>
<line x1="494.45" y1="316.16" x2="494.45" y2="321.88" stroke="#222" stroke-width="0.6"/>
<circle cx="494.45" cy="316.16" r="0.9" fill="#000"/>
<circle cx="494.45" cy="321.88" r="0.9" fill="#111"/>
<line x1="496.95" y1="308.15" x2="496.95" y2="310.3" stroke="#222" stroke-width="0.6"/>
<circle cx="496.95" cy="308.15" r="0.9" fill="#000"/>
<circle cx="496.95" cy="310.3" r="0.9" fill="#111"/>
<line x1="499.45" y1="308.65" x2="499.45" y2="310.8" stroke="#222" stroke-width="0.6"/>
<circle cx="499.45" cy="308.65" r="0.9" fill="#000"/>
<circle cx="499.45" cy="310.8" r="0.9" fill="#111"/>
<line x1="501.95" y1="310.8" x2="501.95" y2="312.94" stroke="#222" stroke-width="0.6"/>
<circle cx="501.95" cy="310.8" r="0.9" fill="#000"/>
<circle cx="501.95" cy="312.94" r="0.9" fill="#111"/>
<line x1="509" y1="311.51" x2="509" y2="313.66" stroke="#222" stroke-width="0.6"/>
<circle cx="509" cy="311.51" r="0.9" fill="#000"/>
<circle cx="509" cy="313.66" r="0.9" fill="#111"/>
<line x1="511.5" y1="306.51" x2="511.5" y2="308.65" stroke="#222" stroke-width="0.6"/>
<circle cx="511.5" cy="306.51" r="0.9" fill="#000"/>
<circle cx="511.5" cy="308.65" r="0.9" fill="#111"/>
<line x1="514" y1="311.87" x2="514" y2="317.59" stroke="#222" stroke-width="0.6"/>
<circle cx="514" cy="311.87" r="0.9" fill="#000"/>
<circle cx="514" cy="317.59" r="0.9" fill="#111"/>
<line x1="516.5" y1="310.3" x2="516.5" y2="312.44" stroke="#222" stroke-width="0.6"/>
<circle cx="516.5" cy="310.3" r="0.9" fill="#000"/>
<circle cx="516.5" cy="312.44" r="0.9" fill="#111"/>
<line x1="519" y1="311.51" x2="519" y2="313.66" stroke="#222" stroke-width="0.6"/>
<circle cx="519" cy="311.51" r="0.9" fill="#000"/>
<circle cx="519" cy="313.66" r="0.9" fill="#111"/>
<line x1="521.5" y1="310.8" x2="521.5" y2="312.94" stroke="#222" stroke-width="0.6"/>
<circle cx="521.5" cy="310.8" r="0.9" fill="#000"/>
<circle cx="521.5" cy="312.94" r="0.9" fill="#111"/>
<line x1="528.55" y1="334.96" x2="528.55" y2="337.82" stroke="#222" stroke-width="0.6"/>
<circle cx="528.55" cy="334.96" r="0.9" fill="#000"/>
<circle cx="528.55" cy="337.82" r="0.9" fill="#111"/>
<line x1="531.05" y1="344.62" x2="531.05" y2="346.76" stroke="#222" stroke-width="0.6"/>
<circle cx="531.05" cy="344.62" r="0.9" fill="#000"/>
<circle cx="531.05" cy="346.76" r="0.9" fill="#111"/>
<line x1="533.55" y1="350.19" x2="533.55" y2="352.34" stroke="#222" stroke-width="0.6"/>
<circle cx="533.55" cy="350.19" r="0.9" fill="#000"/>
<circle cx="533.55" cy="352.34" r="0.9" fill="#111"/>
<line x1="536.05" y1="349.76" x2="536.05" y2="351.19" stroke="#222" stroke-width="0.6"/>
<circle cx="536.05" cy="349.76" r="0.9" fill="#000"/>
<circle cx="536.05" cy="351.19" r="0.9" fill="#111"/>
<line x1="538.55" y1="349.76" x2="538.55" y2="351.19" stroke="#222" stroke-width="0.6"/>
<circle cx="538.55" cy="349.76" r="0.9" fill="#000"/>
<circle cx="538.55" cy="351.19" r="0.9" fill="#111"/>
<line x1="541.05" y1="350.48" x2="541.05" y2="351.91" stroke="#222" stroke-width="0.6"/>
<circle cx="541.05" cy="350.48" r="0.9" fill="#000"/>
<circle cx="541.05" cy="351.91" r="0.9" fill="#111"/>
<line x1="548.1" y1="329.39" x2="548.1" y2="332.25" stroke="#222" stroke-width="0.6"/>
<circle cx="548.1" cy="329.39" r="0.9" fill="#000"/>
<circle cx="548.1" cy="332.25" r="0.9" fill="#111"/>
<line x1="550.6" y1="340.83" x2="550.6" y2="342.97" stroke="#222" stroke-width="0.6"/>
<circle cx="550.6" cy="340.83" r="0.9" fill="#000"/>
<circle cx="550.6" cy="342.97" r="0.9" fill="#111"/>
<line x1="553.1" y1="349.41" x2="553.1" y2="351.55" stroke="#222" stroke-width="0.6"/>
<circle cx="553.1" cy="349.41" r="0.9" fill="#000"/>
<circle cx="553.1" cy="351.55" r="0.9" fill="#111"/>
<line x1="555.6" y1="348.33" x2="555.6" y2="349.76" stroke="#222" stroke-width="0.6"/>
<circle cx="555.6" cy="348.33" r="0.9" fill="#000"/>
<circle cx="555.6" cy="349.76" r="0.9" fill="#111"/>
<line x1="558.1" y1="347.41" x2="558.1" y2="348.84" stroke="#222" stroke-width="0.6"/>
<circle cx="558.1" cy="347.41" r="0.9" fill="#000"/>
<circle cx="558.1" cy="348.84" r="0.9" fill="#111"/>
<line x1="560.6" y1="347.98" x2="560.6" y2="349.41" stroke="#222" stroke-width="0.6"/>
<circle cx="560.6" cy="347.98" r="0.9" fill="#000"/>
<circle cx="560.6" cy="349.41" r="0.9" fill="#111"/>
<line x1="567.65" y1="335.82" x2="567.65" y2="338.68" stroke="#222" stroke-width="0.6"/>
<circle cx="567.65" cy="335.82" r="0.9" fill="#000"/>
<circle cx="567.65" cy="338.68" r="0.9" fill="#111"/>
<line x1="570.15" y1="344.12" x2="570.15" y2="346.26" stroke="#222" stroke-width="0.6"/>
<circle cx="570.15" cy="344.12" r="0.9" fill="#000"/>
<circle cx="570.15" cy="346.26" r="0.9" fill="#111"/>
<line x1="572.65" y1="350.12" x2="572.65" y2="352.27" stroke="#222" stroke-width="0.6"/>
<circle cx="572.65" cy="350.12" r="0.9" fill="#000"/>
<circle cx="572.65" cy="352.27" r="0.9" fill="#111"/>
<line x1="575.15" y1="349.19" x2="575.15" y2="350.62" stroke="#222" stroke-width="0.6"/>
<circle cx="575.15" cy="349.19" r="0.9" fill="#000"/>
<circle cx="575.15" cy="350.62" r="0.9" fill="#111"/>
<line x1="577.65" y1="349.34" x2="577.65" y2="350.77" stroke="#222" stroke-width="0.6"/>
<circle cx="577.65" cy="349.34" r="0.9" fill="#000"/>
<circle cx="577.65" cy="350.77" r="0.9" fill="#111"/>
<line x1="580.15" y1="350.19" x2="580.15" y2="351.62" stroke="#222" stroke-width="0.6"/>
<circle cx="580.15" cy="350.19" r="0.9" fill="#000"/>
<circle cx="580.15" cy="351.62" r="0.9" fill="#111"/>
<line x1="587.2" y1="335.46" x2="587.2" y2="338.32" stroke="#222" stroke-width="0.6"/>
<circle cx="587.2" cy="335.46" r="0.9" fill="#000"/>
<circle cx="587.2" cy="338.32" r="0.9" fill="#111"/>
<line x1="589.7" y1="343.69" x2="589.7" y2="345.83" stroke="#222" stroke-width="0.6"/>
<circle cx="589.7" cy="343.69" r="0.9" fill="#000"/>
<circle cx="589.7" cy="345.83" r="0.9" fill="#111"/>
<line x1="592.2" y1="347.98" x2="592.2" y2="350.12" stroke="#222" stroke-width="0.6"/>
<circle cx="592.2" cy="347.98" r="0.9" fill="#000"/>
<circle cx="592.2" cy="350.12" r="0.9" fill="#111"/>
<line x1="594.7" y1="349.05" x2="594.7" y2="350.48" stroke="#222" stroke-width="0.6"/>
<circle cx="594.7" cy="349.05" r="0.9" fill="#000"/>
<circle cx="594.7" cy="350.48" r="0.9" fill="#111"/>
<line x1="597.2" y1="348.33" x2="597.2" y2="349.76" stroke="#222" stroke-width="0.6"/>
<circle cx="597.2" cy="348.33" r="0.9" fill="#000"/>
<circle cx="597.2" cy="349.76" r="0.9" fill="#111"/>
<line x1="599.7" y1="349.05" x2="599.7" y2="350.48" stroke="#222" stroke-width="0.6"/>
<circle cx="599.7" cy="349.05" r="0.9" fill="#000"/>
<circle cx="599.7" cy="350.48" r="0.9" fill="#111"/>
<line x1="606.75" y1="274.4" x2="606.75" y2="277.98" stroke="#222" stroke-width="0.6"/>
<circle cx="606.75" cy="274.4" r="0.9" fill="#000"/>
<circle cx="606.75" cy="277.98" r="0.9" fill="#111"/>
<line x1="609.25" y1="280.05" x2="609.25" y2="282.91" stroke="#222" stroke-width="0.6"/>
<circle cx="609.25" cy="280.05" r="0.9" fill="#000"/>
<circle cx="609.25" cy="282.91" r="0.9" fill="#111"/>
<line x1="611.75" y1="253.95" x2="611.75" y2="258.25" stroke="#222" stroke-width="0.6"/>
<circle cx="611.75" cy="253.95" r="0.9" fill="#000"/>
<circle cx="611.75" cy="258.25" r="0.9" fill="#111"/>
<line x1="614.25" y1="268.97" x2="614.25" y2="273.26" stroke="#222" stroke-width="0.6"/>
<circle cx="614.25" cy="268.97" r="0.9" fill="#000"/>
<circle cx="614.25" cy="273.26" r="0.9" fill="#111"/>
<line x1="616.75" y1="266.47" x2="616.75" y2="270.04" stroke="#222" stroke-width="0.6"/>
<circle cx="616.75" cy="266.47" r="0.9" fill="#000"/>
<circle cx="616.75" cy="270.04" r="0.9" fill="#111"/>
<line x1="619.25" y1="265.18" x2="619.25" y2="268.04" stroke="#222" stroke-width="0.6"/>
<circle cx="619.25" cy="265.18" r="0.9" fill="#000"/>
<circle cx="619.25" cy="268.04" r="0.9" fill="#111"/>
<line x1="626.3" y1="270.04" x2="626.3" y2="273.62" stroke="#222" stroke-width="0.6"/>
<circle cx="626.3" cy="270.04" r="0.9" fill="#000"/>
<circle cx="626.3" cy="273.62" r="0.9" fill="#111"/>
<line x1="628.8" y1="272.19" x2="628.8" y2="275.05" stroke="#222" stroke-width="0.6"/>
<circle cx="628.8" cy="272.19" r="0.9" fill="#000"/>
<circle cx="628.8" cy="275.05" r="0.9" fill="#111"/>
<line x1="631.3" y1="246.8" x2="631.3" y2="251.09" stroke="#222" stroke-width="0.6"/>
<circle cx="631.3" cy="246.8" r="0.9" fill="#000"/>
<circle cx="631.3" cy="251.09" r="0.9" fill="#111"/>
<line x1="633.8" y1="263.54" x2="633.8" y2="267.83" stroke="#222" stroke-width="0.6"/>
<circle cx="633.8" cy="263.54" r="0.9" fill="#000"/>
<circle cx="633.8" cy="267.83" r="0.9" fill="#111"/>
<line x1="636.3" y1="261.61" x2="636.3" y2="265.18" stroke="#222" stroke-width="0.6"/>
<circle cx="636.3" cy="261.61" r="0.9" fill="#000"/>
<circle cx="636.3" cy="265.18" r="0.9" fill="#111"/>
<line x1="638.8" y1="257.32" x2="638.8" y2="260.18" stroke="#222" stroke-width="0.6"/>
<circle cx="638.8" cy="257.32" r="0.9" fill="#000"/>
<circle cx="638.8" cy="260.18" r="0.9" fill="#111"/>
<line x1="645.85" y1="289.35" x2="645.85" y2="292.92" stroke="#222" stroke-width="0.6"/>
<circle cx="645.85" cy="289.35" r="0.9" fill="#000"/>
<circle cx="645.85" cy="292.92" r="0.9" fill="#111"/>
<line x1="648.35" y1="282.7" x2="648.35" y2="285.56" stroke="#222" stroke-width="0.6"/>
<circle cx="648.35" cy="282.7" r="0.9" fill="#000"/>
<circle cx="648.35" cy="285.56" r="0.9" fill="#111"/>
<line x1="650.85" y1="260.96" x2="650.85" y2="265.25" stroke="#222" stroke-width="0.6"/>
<circle cx="650.85" cy="260.96" r="0.9" fill="#000"/>
<circle cx="650.85" cy="265.25" r="0.9" fill="#111"/>
<line x1="653.35" y1="268.97" x2="653.35" y2="273.26" stroke="#222" stroke-width="0.6"/>
<circle cx="653.35" cy="268.97" r="0.9" fill="#000"/>
<circle cx="653.35" cy="273.26" r="0.9" fill="#111"/>
<line x1="655.85" y1="270.04" x2="655.85" y2="273.62" stroke="#222" stroke-width="0.6"/>
<circle cx="655.85" cy="270.04" r="0.9" fill="#000"/>
<circle cx="655.85" cy="273.62" r="0.9" fill="#111"/>
<line x1="658.35" y1="270.4" x2="658.35" y2="273.26" stroke="#222" stroke-width="0.6"/>
<circle cx="658.35" cy="270.4" r="0.9" fill="#000"/>
<circle cx="658.35" cy="273.26" r="0.9" fill="#111"/>
<line x1="665.4" y1="277.19" x2="665.4" y2="280.77" stroke="#222" stroke-width="0.6"/>
<circle cx="665.4" cy="277.19" r="0.9" fill="#000"/>
<circle cx="665.4" cy="280.77" r="0.9" fill="#111"/>
<line x1="667.9" y1="278.62" x2="667.9" y2="281.48" stroke="#222" stroke-width="0.6"/>
<circle cx="667.9" cy="278.62" r="0.9" fill="#000"/>
<circle cx="667.9" cy="281.48" r="0.9" fill="#111"/>
<line x1="670.4" y1="251.81" x2="670.4" y2="256.1" stroke="#222" stroke-width="0.6"/>
<circle cx="670.4" cy="251.81" r="0.9" fill="#000"/>
<circle cx="670.4" cy="256.1" r="0.9" fill="#111"/>
<line x1="672.9" y1="265.39" x2="672.9" y2="269.69" stroke="#222" stroke-width="0.6"/>
<circle cx="672.9" cy="265.39" r="0.9" fill="#000"/>
<circle cx="672.9" cy="269.69" r="0.9" fill="#111"/>
<line x1="675.4" y1="266.18" x2="675.4" y2="269.76" stroke="#222" stroke-width="0.6"/>
<circle cx="675.4" cy="266.18" r="0.9" fill="#000"/>
<circle cx="675.4" cy="269.76" r="0.9" fill="#111"/>
<line x1="677.9" y1="263.04" x2="677.9" y2="265.9" stroke="#222" stroke-width="0.6"/>
<circle cx="677.9" cy="263.04" r="0.9" fill="#000"/>
<circle cx="677.9" cy="265.9" r="0.9" fill="#111"/>
<circle cx="611.75" cy="246.09" r="0.9" fill="#333"/>
<circle cx="631.3" cy="236.44" r="0.9" fill="#333"/>
<circle cx="650.85" cy="255.74" r="0.9" fill="#333"/>
<circle cx="670.4" cy="241.8" r="0.9" fill="#333"/>
<circle cx="606.75" cy="273.26" r="0.9" fill="#333"/>
<circle cx="626.3" cy="269.69" r="0.9" fill="#333"/>
<circle cx="645.85" cy="287.56" r="0.9" fill="#333"/>
<circle cx="665.4" cy="274.69" r="0.9" fill="#333"/>
<line x1="370" y1="356.2" x2="680" y2="356.2" stroke="#000000" stroke-width="1"/>
<line x1="378.4" y1="356.2" x2="378.4" y2="362.2" stroke="#333" stroke-width="1"/>
<text font-size="9.2" text-anchor="end" fill="#1a1a1a" stroke-width="0.22" transform="translate(383.5,368) rotate(-45)"><tspan fill="#1a1a1a" stroke="#1a1a1a">A</tspan><tspan fill="#ee1d23" stroke="#ee1d23">C</tspan><tspan fill="#1a1a1a" stroke="#1a1a1a">A</tspan></text>
<line x1="397.95" y1="356.2" x2="397.95" y2="362.2" stroke="#333" stroke-width="1"/>
<text font-size="9.2" text-anchor="end" fill="#1a1a1a" stroke-width="0.22" transform="translate(403,368) rotate(-45)"><tspan fill="#1a1a1a" stroke="#1a1a1a">A</tspan><tspan fill="#ee1d23" stroke="#ee1d23">C</tspan><tspan fill="#1a1a1a" stroke="#1a1a1a">C</tspan></text>
<line x1="417.5" y1="356.2" x2="417.5" y2="362.2" stroke="#333" stroke-width="1"/>
<text font-size="9.2" text-anchor="end" fill="#1a1a1a" stroke-width="0.22" transform="translate(422.5,368) rotate(-45)"><tspan fill="#1a1a1a" stroke="#1a1a1a">A</tspan><tspan fill="#ee1d23" stroke="#ee1d23">C</tspan><tspan fill="#1a1a1a" stroke="#1a1a1a">G</tspan></text>
<line x1="437.05" y1="356.2" x2="437.05" y2="362.2" stroke="#333" stroke-width="1"/>
<text font-size="9.2" text-anchor="end" fill="#1a1a1a" stroke-width="0.22" transform="translate(442,368) rotate(-45)"><tspan fill="#1a1a1a" stroke="#1a1a1a">A</tspan><tspan fill="#ee1d23" stroke="#ee1d23">C</tspan><tspan fill="#1a1a1a" stroke="#1a1a1a">T</tspan></text>
<line x1="456.6" y1="356.2" x2="456.6" y2="362.2" stroke="#333" stroke-width="1"/>
<text font-size="9.2" text-anchor="end" fill="#1a1a1a" stroke-width="0.22" transform="translate(461.5,368) rotate(-45)"><tspan fill="#1a1a1a" stroke="#1a1a1a">C</tspan><tspan fill="#ee1d23" stroke="#ee1d23">C</tspan><tspan fill="#1a1a1a" stroke="#1a1a1a">A</tspan></text>
<line x1="476.15" y1="356.2" x2="476.15" y2="362.2" stroke="#333" stroke-width="1"/>
<text font-size="9.2" text-anchor="end" fill="#1a1a1a" stroke-width="0.22" transform="translate(481,368) rotate(-45)"><tspan fill="#1a1a1a" stroke="#1a1a1a">C</tspan><tspan fill="#ee1d23" stroke="#ee1d23">C</tspan><tspan fill="#1a1a1a" stroke="#1a1a1a">C</tspan></text>
<line x1="495.7" y1="356.2" x2="495.7" y2="362.2" stroke="#333" stroke-width="1"/>
<text font-size="9.2" text-anchor="end" fill="#1a1a1a" stroke-width="0.22" transform="translate(500.5,368) rotate(-45)"><tspan fill="#1a1a1a" stroke="#1a1a1a">C</tspan><tspan fill="#ee1d23" stroke="#ee1d23">C</tspan><tspan fill="#1a1a1a" stroke="#1a1a1a">G</tspan></text>
<line x1="515.25" y1="356.2" x2="515.25" y2="362.2" stroke="#333" stroke-width="1"/>
<text font-size="9.2" text-anchor="end" fill="#1a1a1a" stroke-width="0.22" transform="translate(520,368) rotate(-45)"><tspan fill="#1a1a1a" stroke="#1a1a1a">C</tspan><tspan fill="#ee1d23" stroke="#ee1d23">C</tspan><tspan fill="#1a1a1a" stroke="#1a1a1a">T</tspan></text>
<line x1="534.8" y1="356.2" x2="534.8" y2="362.2" stroke="#333" stroke-width="1"/>
<text font-size="9.2" text-anchor="end" fill="#1a1a1a" stroke-width="0.22" transform="translate(539.5,368) rotate(-45)"><tspan fill="#1a1a1a" stroke="#1a1a1a">G</tspan><tspan fill="#ee1d23" stroke="#ee1d23">C</tspan><tspan fill="#1a1a1a" stroke="#1a1a1a">A</tspan></text>
<line x1="554.35" y1="356.2" x2="554.35" y2="362.2" stroke="#333" stroke-width="1"/>
<text font-size="9.2" text-anchor="end" fill="#1a1a1a" stroke-width="0.22" transform="translate(559,368) rotate(-45)"><tspan fill="#1a1a1a" stroke="#1a1a1a">G</tspan><tspan fill="#ee1d23" stroke="#ee1d23">C</tspan><tspan fill="#1a1a1a" stroke="#1a1a1a">C</tspan></text>
<line x1="573.9" y1="356.2" x2="573.9" y2="362.2" stroke="#333" stroke-width="1"/>
<text font-size="9.2" text-anchor="end" fill="#1a1a1a" stroke-width="0.22" transform="translate(578.5,368) rotate(-45)"><tspan fill="#1a1a1a" stroke="#1a1a1a">G</tspan><tspan fill="#ee1d23" stroke="#ee1d23">C</tspan><tspan fill="#1a1a1a" stroke="#1a1a1a">G</tspan></text>
<line x1="593.45" y1="356.2" x2="593.45" y2="362.2" stroke="#333" stroke-width="1"/>
<text font-size="9.2" text-anchor="end" fill="#1a1a1a" stroke-width="0.22" transform="translate(598,368) rotate(-45)"><tspan fill="#1a1a1a" stroke="#1a1a1a">G</tspan><tspan fill="#ee1d23" stroke="#ee1d23">C</tspan><tspan fill="#1a1a1a" stroke="#1a1a1a">T</tspan></text>
<line x1="613" y1="356.2" x2="613" y2="362.2" stroke="#333" stroke-width="1"/>
<text font-size="9.2" text-anchor="end" fill="#1a1a1a" stroke-width="0.22" transform="translate(617.5,368) rotate(-45)"><tspan fill="#1a1a1a" stroke="#1a1a1a">T</tspan><tspan fill="#ee1d23" stroke="#ee1d23">C</tspan><tspan fill="#1a1a1a" stroke="#1a1a1a">A</tspan></text>
<line x1="632.55" y1="356.2" x2="632.55" y2="362.2" stroke="#333" stroke-width="1"/>
<text font-size="9.2" text-anchor="end" fill="#1a1a1a" stroke-width="0.22" transform="translate(637,368) rotate(-45)"><tspan fill="#1a1a1a" stroke="#1a1a1a">T</tspan><tspan fill="#ee1d23" stroke="#ee1d23">C</tspan><tspan fill="#1a1a1a" stroke="#1a1a1a">C</tspan></text>
<line x1="652.1" y1="356.2" x2="652.1" y2="362.2" stroke="#333" stroke-width="1"/>
<text font-size="9.2" text-anchor="end" fill="#1a1a1a" stroke-width="0.22" transform="translate(656.5,368) rotate(-45)"><tspan fill="#1a1a1a" stroke="#1a1a1a">T</tspan><tspan fill="#ee1d23" stroke="#ee1d23">C</tspan><tspan fill="#1a1a1a" stroke="#1a1a1a">G</tspan></text>
<line x1="671.65" y1="356.2" x2="671.65" y2="362.2" stroke="#333" stroke-width="1"/>
<text font-size="9.2" text-anchor="end" fill="#1a1a1a" stroke-width="0.22" transform="translate(676,368) rotate(-45)"><tspan fill="#1a1a1a" stroke="#1a1a1a">T</tspan><tspan fill="#ee1d23" stroke="#ee1d23">C</tspan><tspan fill="#1a1a1a" stroke="#1a1a1a">T</tspan></text>
<rect x="389.7" y="236.25" width="7.5" height="5.7" fill="#e8403f" stroke="none" stroke-width="0.6"/>
<text x="0" y="0" font-size="8.6" text-anchor="start" font-weight="normal" fill="#1a1a1a" transform="translate(401.75,242.1) scale(1.1,1)" stroke="#1a1a1a" stroke-width="0.22">BE3</text>
<rect x="389.7" y="246.05" width="7.5" height="5.7" fill="#000000" stroke="none" stroke-width="0.6"/>
<text x="0" y="0" font-size="8.6" text-anchor="start" font-weight="normal" fill="#1a1a1a" transform="translate(401.75,251.9) scale(1.1,1)" stroke="#1a1a1a" stroke-width="0.22">532gp41</text>
<rect x="389.7" y="255.85" width="7.5" height="5.7" fill="#6ec4d4" stroke="none" stroke-width="0.6"/>
<text x="0" y="0" font-size="8.6" text-anchor="start" font-weight="normal" fill="#1a1a1a" transform="translate(401.75,261.7) scale(1.1,1)" stroke="#1a1a1a" stroke-width="0.22">945gp41</text>
<rect x="389.7" y="265.65" width="7.5" height="5.7" fill="#66b431" stroke="none" stroke-width="0.6"/>
<text x="0" y="0" font-size="8.6" text-anchor="start" font-weight="normal" fill="#1a1a1a" transform="translate(401.75,271.5) scale(1.1,1)" stroke="#1a1a1a" stroke-width="0.22">1055gp41</text>
<rect x="389.7" y="275.45" width="7.5" height="5.7" fill="#1a45a0" stroke="none" stroke-width="0.6"/>
<text x="0" y="0" font-size="8.6" text-anchor="start" font-weight="normal" fill="#1a1a1a" transform="translate(401.75,281.3) scale(1.1,1)" stroke="#1a1a1a" stroke-width="0.22">1246gp41</text>
<rect x="389.7" y="285.25" width="7.5" height="5.7" fill="#c063a8" stroke="none" stroke-width="0.6"/>
<text x="0" y="0" font-size="8.6" text-anchor="start" font-weight="normal" fill="#1a1a1a" transform="translate(401.75,291.1) scale(1.1,1)" stroke="#1a1a1a" stroke-width="0.22">1252gp41</text>
<text x="0.4" y="435.5" font-size="16" text-anchor="start" font-weight="bold" fill="#000">D</text>
<text x="157" y="435" font-size="9.6" text-anchor="middle" font-weight="normal" fill="#1a1a1a" stroke="#1a1a1a" stroke-width="0.22">Byproduct C-to-G</text>
<text x="0" y="0" font-size="9.4" text-anchor="middle" font-weight="normal" fill="#1a1a1a" transform="translate(17.3,517.4) rotate(-90)" stroke="#1a1a1a" stroke-width="0.22">Relative editing efficiency (%)</text>
<line x1="40" y1="590.5" x2="40" y2="439.2" stroke="#000000" stroke-width="1"/>
<line x1="36.4" y1="590" x2="40" y2="590" stroke="#000000" stroke-width="1"/>
<text x="36.2" y="592.9" font-size="9.6" text-anchor="end" font-weight="normal" fill="#1a1a1a" stroke="#1a1a1a" stroke-width="0.22">0</text>
<line x1="36.4" y1="560.6" x2="40" y2="560.6" stroke="#000000" stroke-width="1"/>
<text x="36.2" y="563.5" font-size="9.6" text-anchor="end" font-weight="normal" fill="#1a1a1a" stroke="#1a1a1a" stroke-width="0.22">20</text>
<line x1="36.4" y1="531.2" x2="40" y2="531.2" stroke="#000000" stroke-width="1"/>
<text x="36.2" y="534.1" font-size="9.6" text-anchor="end" font-weight="normal" fill="#1a1a1a" stroke="#1a1a1a" stroke-width="0.22">40</text>
<line x1="36.4" y1="501.8" x2="40" y2="501.8" stroke="#000000" stroke-width="1"/>
<text x="36.2" y="504.7" font-size="9.6" text-anchor="end" font-weight="normal" fill="#1a1a1a" stroke="#1a1a1a" stroke-width="0.22">60</text>
<line x1="36.4" y1="472.4" x2="40" y2="472.4" stroke="#000000" stroke-width="1"/>
<text x="36.2" y="475.3" font-size="9.6" text-anchor="end" font-weight="normal" fill="#1a1a1a" stroke="#1a1a1a" stroke-width="0.22">80</text>
<line x1="36.4" y1="443" x2="40" y2="443" stroke="#000000" stroke-width="1"/>
<text x="36.2" y="445.9" font-size="9.6" text-anchor="end" font-weight="normal" fill="#1a1a1a" stroke="#1a1a1a" stroke-width="0.22">100</text>
<line x1="39.5" y1="590" x2="310" y2="590" stroke="#000000" stroke-width="1"/>
<line x1="40.95" y1="590" x2="40.95" y2="593.2" stroke="#000000" stroke-width="1"/>
<text font-size="9.4" text-anchor="end" fill="#1a1a1a" stroke="#1a1a1a" stroke-width="0.22" transform="translate(47.95,597.1) rotate(-62)">C1</text>
<line x1="54.97" y1="590" x2="54.97" y2="593.2" stroke="#000000" stroke-width="1"/>
<text font-size="9.4" text-anchor="end" fill="#1a1a1a" stroke="#1a1a1a" stroke-width="0.22" transform="translate(61.81,597.1) rotate(-62)">C2</text>
<line x1="68.99" y1="590" x2="68.99" y2="593.2" stroke="#000000" stroke-width="1"/>
<text font-size="9.4" text-anchor="end" fill="#1a1a1a" stroke="#1a1a1a" stroke-width="0.22" transform="translate(75.67,597.1) rotate(-62)">C3</text>
<line x1="83.01" y1="590" x2="83.01" y2="593.2" stroke="#000000" stroke-width="1"/>
<text font-size="9.4" text-anchor="end" fill="#1a1a1a" stroke="#1a1a1a" stroke-width="0.22" transform="translate(89.53,597.1) rotate(-62)">C4</text>
<line x1="97.03" y1="590" x2="97.03" y2="593.2" stroke="#000000" stroke-width="1"/>
<text font-size="9.4" text-anchor="end" fill="#1a1a1a" stroke="#1a1a1a" stroke-width="0.22" transform="translate(103.39,597.1) rotate(-62)">C5</text>
<line x1="111.05" y1="590" x2="111.05" y2="593.2" stroke="#000000" stroke-width="1"/>
<text font-size="9.4" text-anchor="end" fill="#1a1a1a" stroke="#1a1a1a" stroke-width="0.22" transform="translate(117.25,597.1) rotate(-62)">C6</text>
<line x1="125.07" y1="590" x2="125.07" y2="593.2" stroke="#000000" stroke-width="1"/>
<text font-size="9.4" text-anchor="end" fill="#1a1a1a" stroke="#1a1a1a" stroke-width="0.22" transform="translate(131.11,597.1) rotate(-62)">C7</text>
<line x1="139.09" y1="590" x2="139.09" y2="593.2" stroke="#000000" stroke-width="1"/>
<text font-size="9.4" text-anchor="end" fill="#1a1a1a" stroke="#1a1a1a" stroke-width="0.22" transform="translate(144.97,597.1) rotate(-62)">C8</text>
<line x1="153.11" y1="590" x2="153.11" y2="593.2" stroke="#000000" stroke-width="1"/>
<text font-size="9.4" text-anchor="end" fill="#1a1a1a" stroke="#1a1a1a" stroke-width="0.22" transform="translate(158.83,597.1) rotate(-62)">C9</text>
<line x1="167.13" y1="590" x2="167.13" y2="593.2" stroke="#000000" stroke-width="1"/>
<text font-size="9.4" text-anchor="end" fill="#1a1a1a" stroke="#1a1a1a" stroke-width="0.22" transform="translate(172.69,597.1) rotate(-62)">C10</text>
<line x1="181.15" y1="590" x2="181.15" y2="593.2" stroke="#000000" stroke-width="1"/>
<text font-size="9.4" text-anchor="end" fill="#1a1a1a" stroke="#1a1a1a" stroke-width="0.22" transform="translate(186.55,597.1) rotate(-62)">C11</text>
<line x1="195.17" y1="590" x2="195.17" y2="593.2" stroke="#000000" stroke-width="1"/>
<text font-size="9.4" text-anchor="end" fill="#1a1a1a" stroke="#1a1a1a" stroke-width="0.22" transform="translate(200.41,597.1) rotate(-62)">C12</text>
<line x1="209.19" y1="590" x2="209.19" y2="593.2" stroke="#000000" stroke-width="1"/>
<text font-size="9.4" text-anchor="end" fill="#1a1a1a" stroke="#1a1a1a" stroke-width="0.22" transform="translate(214.27,597.1) rotate(-62)">C13</text>
<line x1="223.21" y1="590" x2="223.21" y2="593.2" stroke="#000000" stroke-width="1"/>
<text font-size="9.4" text-anchor="end" fill="#1a1a1a" stroke="#1a1a1a" stroke-width="0.22" transform="translate(228.13,597.1) rotate(-62)">C14</text>
<line x1="237.23" y1="590" x2="237.23" y2="593.2" stroke="#000000" stroke-width="1"/>
<text font-size="9.4" text-anchor="end" fill="#1a1a1a" stroke="#1a1a1a" stroke-width="0.22" transform="translate(241.99,597.1) rotate(-62)">C15</text>
<line x1="251.25" y1="590" x2="251.25" y2="593.2" stroke="#000000" stroke-width="1"/>
<text font-size="9.4" text-anchor="end" fill="#1a1a1a" stroke="#1a1a1a" stroke-width="0.22" transform="translate(255.85,597.1) rotate(-62)">C16</text>
<line x1="265.27" y1="590" x2="265.27" y2="593.2" stroke="#000000" stroke-width="1"/>
<text font-size="9.4" text-anchor="end" fill="#1a1a1a" stroke="#1a1a1a" stroke-width="0.22" transform="translate(269.71,597.1) rotate(-62)">C17</text>
<line x1="279.29" y1="590" x2="279.29" y2="593.2" stroke="#000000" stroke-width="1"/>
<text font-size="9.4" text-anchor="end" fill="#1a1a1a" stroke="#1a1a1a" stroke-width="0.22" transform="translate(283.57,597.1) rotate(-62)">C18</text>
<line x1="293.31" y1="590" x2="293.31" y2="593.2" stroke="#000000" stroke-width="1"/>
<text font-size="9.4" text-anchor="end" fill="#1a1a1a" stroke="#1a1a1a" stroke-width="0.22" transform="translate(297.43,597.1) rotate(-62)">C19</text>
<line x1="307.33" y1="590" x2="307.33" y2="593.2" stroke="#000000" stroke-width="1"/>
<text font-size="9.4" text-anchor="end" fill="#1a1a1a" stroke="#1a1a1a" stroke-width="0.22" transform="translate(311.29,597.1) rotate(-62)">C20</text>
<polyline points="40.95,583.24 54.97,581.62 68.99,581.03 83.01,580.15 97.03,576.92 111.05,571.18 125.07,555.46 139.09,550.31 153.11,560.16 167.13,580.15 181.15,585 195.17,585.59 209.19,586.33 223.21,586.77 237.23,587.06 251.25,587.06 265.27,587.06 279.29,586.77 293.31,586.03 307.33,574.71" fill="none" stroke="#66b431" stroke-width="1" stroke-linejoin="round"/>
<path d="M40.95 580.34L43.85 585.41L38.05 585.41Z" fill="#66b431"/>
<path d="M54.97 578.72L57.87 583.8L52.07 583.8Z" fill="#66b431"/>
<path d="M68.99 578.13L71.89 583.21L66.09 583.21Z" fill="#66b431"/>
<path d="M83.01 577.25L85.91 582.33L80.11 582.33Z" fill="#66b431"/>
<path d="M97.03 574.02L99.93 579.09L94.13 579.09Z" fill="#66b431"/>
<path d="M111.05 568.28L113.95 573.36L108.15 573.36Z" fill="#66b431"/>
<path d="M125.07 552.56L127.97 557.63L122.17 557.63Z" fill="#66b431"/>
<path d="M139.09 547.41L141.99 552.48L136.19 552.48Z" fill="#66b431"/>
<path d="M153.11 557.26L156.01 562.33L150.21 562.33Z" fill="#66b431"/>
<path d="M167.13 577.25L170.03 582.33L164.23 582.33Z" fill="#66b431"/>
<path d="M181.15 582.1L184.05 587.18L178.25 587.18Z" fill="#66b431"/>
<path d="M195.17 582.69L198.07 587.76L192.27 587.76Z" fill="#66b431"/>
<path d="M209.19 583.43L212.09 588.5L206.29 588.5Z" fill="#66b431"/>
<path d="M223.21 583.87L226.11 588.94L220.31 588.94Z" fill="#66b431"/>
<path d="M237.23 584.16L240.13 589.23L234.33 589.23Z" fill="#66b431"/>
<path d="M251.25 584.16L254.15 589.23L248.35 589.23Z" fill="#66b431"/>
<path d="M265.27 584.16L268.17 589.23L262.37 589.23Z" fill="#66b431"/>
<path d="M279.29 583.87L282.19 588.94L276.39 588.94Z" fill="#66b431"/>
<path d="M293.31 583.13L296.21 588.21L290.41 588.21Z" fill="#66b431"/>
<path d="M307.33 571.81L310.23 576.89L304.43 576.89Z" fill="#66b431"/>
<polyline points="40.95,586.77 54.97,584.56 68.99,583.83 83.01,583.24 97.03,580.59 111.05,575.15 125.07,567.07 139.09,563.54 153.11,569.13 167.13,579.56 181.15,581.18 195.17,585 209.19,586.33 223.21,587.35 237.23,587.79 251.25,588.24 265.27,588.24 279.29,587.79 293.31,587.35 307.33,580.59" fill="none" stroke="#1a45a0" stroke-width="1" stroke-linejoin="round"/>
<path d="M40.95 589.67L43.85 584.59L38.05 584.59Z" fill="#1a45a0"/>
<path d="M54.97 587.46L57.87 582.39L52.07 582.39Z" fill="#1a45a0"/>
<path d="M68.99 586.73L71.89 581.65L66.09 581.65Z" fill="#1a45a0"/>
<path d="M83.01 586.14L85.91 581.06L80.11 581.06Z" fill="#1a45a0"/>
<path d="M97.03 583.49L99.93 578.42L94.13 578.42Z" fill="#1a45a0"/>
<path d="M111.05 578.05L113.95 572.98L108.15 572.98Z" fill="#1a45a0"/>
<path d="M125.07 569.97L127.97 564.89L122.17 564.89Z" fill="#1a45a0"/>
<path d="M139.09 566.44L141.99 561.37L136.19 561.37Z" fill="#1a45a0"/>
<path d="M153.11 572.03L156.01 566.95L150.21 566.95Z" fill="#1a45a0"/>
<path d="M167.13 582.46L170.03 577.39L164.23 577.39Z" fill="#1a45a0"/>
<path d="M181.15 584.08L184.05 579L178.25 579Z" fill="#1a45a0"/>
<path d="M195.17 587.9L198.07 582.83L192.27 582.83Z" fill="#1a45a0"/>
<path d="M209.19 589.23L212.09 584.15L206.29 584.15Z" fill="#1a45a0"/>
<path d="M223.21 590.25L226.11 585.18L220.31 585.18Z" fill="#1a45a0"/>
<path d="M237.23 590.69L240.13 585.62L234.33 585.62Z" fill="#1a45a0"/>
<path d="M251.25 591.14L254.15 586.06L248.35 586.06Z" fill="#1a45a0"/>
<path d="M265.27 591.14L268.17 586.06L262.37 586.06Z" fill="#1a45a0"/>
<path d="M279.29 590.69L282.19 585.62L276.39 585.62Z" fill="#1a45a0"/>
<path d="M293.31 590.25L296.21 585.18L290.41 585.18Z" fill="#1a45a0"/>
<path d="M307.33 583.49L310.23 578.42L304.43 578.42Z" fill="#1a45a0"/>
<polyline points="40.95,587.21 54.97,585 68.99,584.56 83.01,583.83 97.03,581.62 111.05,577.8 125.07,572.95 139.09,570.74 153.11,575.15 167.13,582.8 181.15,584.86 195.17,586.33 209.19,587.06 223.21,587.79 237.23,588.24 251.25,588.53 265.27,588.53 279.29,588.53 293.31,588.24 307.33,583.83" fill="none" stroke="#c063a8" stroke-width="1" stroke-linejoin="round"/>
<path d="M40.95 584.61L43.55 587.21L40.95 589.81L38.35 587.21Z" fill="#c063a8"/>
<path d="M54.97 582.4L57.57 585L54.97 587.6L52.37 585Z" fill="#c063a8"/>
<path d="M68.99 581.96L71.59 584.56L68.99 587.16L66.39 584.56Z" fill="#c063a8"/>
<path d="M83.01 581.23L85.61 583.83L83.01 586.43L80.41 583.83Z" fill="#c063a8"/>
<path d="M97.03 579.02L99.63 581.62L97.03 584.22L94.43 581.62Z" fill="#c063a8"/>
<path d="M111.05 575.2L113.65 577.8L111.05 580.4L108.45 577.8Z" fill="#c063a8"/>
<path d="M125.07 570.35L127.67 572.95L125.07 575.55L122.47 572.95Z" fill="#c063a8"/>
<path d="M139.09 568.14L141.69 570.74L139.09 573.34L136.49 570.74Z" fill="#c063a8"/>
<path d="M153.11 572.55L155.71 575.15L153.11 577.75L150.51 575.15Z" fill="#c063a8"/>
<path d="M167.13 580.2L169.73 582.8L167.13 585.4L164.53 582.8Z" fill="#c063a8"/>
<path d="M181.15 582.25L183.75 584.86L181.15 587.46L178.55 584.86Z" fill="#c063a8"/>
<path d="M195.17 583.73L197.77 586.33L195.17 588.93L192.57 586.33Z" fill="#c063a8"/>
<path d="M209.19 584.46L211.79 587.06L209.19 589.66L206.59 587.06Z" fill="#c063a8"/>
<path d="M223.21 585.19L225.81 587.79L223.21 590.39L220.61 587.79Z" fill="#c063a8"/>
<path d="M237.23 585.64L239.83 588.24L237.23 590.84L234.63 588.24Z" fill="#c063a8"/>
<path d="M251.25 585.93L253.85 588.53L251.25 591.13L248.65 588.53Z" fill="#c063a8"/>
<path d="M265.27 585.93L267.87 588.53L265.27 591.13L262.67 588.53Z" fill="#c063a8"/>
<path d="M279.29 585.93L281.89 588.53L279.29 591.13L276.69 588.53Z" fill="#c063a8"/>
<path d="M293.31 585.64L295.91 588.24L293.31 590.84L290.71 588.24Z" fill="#c063a8"/>
<path d="M307.33 581.23L309.93 583.83L307.33 586.43L304.73 583.83Z" fill="#c063a8"/>
<polyline points="40.95,588.24 54.97,585.59 68.99,585 83.01,584.56 97.03,580.59 111.05,578.39 125.07,575.59 139.09,574.71 153.11,580.59 167.13,583.83 181.15,585.59 195.17,586.77 209.19,587.35 223.21,587.79 237.23,587.79 251.25,588.24 265.27,588.24 279.29,588.24 293.31,587.79 307.33,585.59" fill="none" stroke="#6ec4d4" stroke-width="1" stroke-linejoin="round"/>
<rect x="38.45" y="585.74" width="5" height="5" fill="#6ec4d4" stroke="none" stroke-width="0.6"/>
<rect x="52.47" y="583.09" width="5" height="5" fill="#6ec4d4" stroke="none" stroke-width="0.6"/>
<rect x="66.49" y="582.5" width="5" height="5" fill="#6ec4d4" stroke="none" stroke-width="0.6"/>
<rect x="80.51" y="582.06" width="5" height="5" fill="#6ec4d4" stroke="none" stroke-width="0.6"/>
<rect x="94.53" y="578.09" width="5" height="5" fill="#6ec4d4" stroke="none" stroke-width="0.6"/>
<rect x="108.55" y="575.89" width="5" height="5" fill="#6ec4d4" stroke="none" stroke-width="0.6"/>
<rect x="122.57" y="573.09" width="5" height="5" fill="#6ec4d4" stroke="none" stroke-width="0.6"/>
<rect x="136.59" y="572.21" width="5" height="5" fill="#6ec4d4" stroke="none" stroke-width="0.6"/>
<rect x="150.61" y="578.09" width="5" height="5" fill="#6ec4d4" stroke="none" stroke-width="0.6"/>
<rect x="164.63" y="581.33" width="5" height="5" fill="#6ec4d4" stroke="none" stroke-width="0.6"/>
<rect x="178.65" y="583.09" width="5" height="5" fill="#6ec4d4" stroke="none" stroke-width="0.6"/>
<rect x="192.67" y="584.27" width="5" height="5" fill="#6ec4d4" stroke="none" stroke-width="0.6"/>
<rect x="206.69" y="584.85" width="5" height="5" fill="#6ec4d4" stroke="none" stroke-width="0.6"/>
<rect x="220.71" y="585.29" width="5" height="5" fill="#6ec4d4" stroke="none" stroke-width="0.6"/>
<rect x="234.73" y="585.29" width="5" height="5" fill="#6ec4d4" stroke="none" stroke-width="0.6"/>
<rect x="248.75" y="585.74" width="5" height="5" fill="#6ec4d4" stroke="none" stroke-width="0.6"/>
<rect x="262.77" y="585.74" width="5" height="5" fill="#6ec4d4" stroke="none" stroke-width="0.6"/>
<rect x="276.79" y="585.74" width="5" height="5" fill="#6ec4d4" stroke="none" stroke-width="0.6"/>
<rect x="290.81" y="585.29" width="5" height="5" fill="#6ec4d4" stroke="none" stroke-width="0.6"/>
<rect x="304.83" y="583.09" width="5" height="5" fill="#6ec4d4" stroke="none" stroke-width="0.6"/>
<polyline points="40.95,587.79 54.97,587.21 68.99,586.47 83.01,586.03 97.03,585.44 111.05,582.36 125.07,578.98 139.09,573.54 153.11,578.39 167.13,584.56 181.15,586.77 195.17,587.21 209.19,587.79 223.21,588.24 237.23,588.24 251.25,588.24 265.27,588.24 279.29,588.24 293.31,588.24 307.33,587.21" fill="none" stroke="#000000" stroke-width="1" stroke-linejoin="round"/>
<circle cx="40.95" cy="587.79" r="2.7" fill="#000000"/>
<circle cx="54.97" cy="587.21" r="2.7" fill="#000000"/>
<circle cx="68.99" cy="586.47" r="2.7" fill="#000000"/>
<circle cx="83.01" cy="586.03" r="2.7" fill="#000000"/>
<circle cx="97.03" cy="585.44" r="2.7" fill="#000000"/>
<circle cx="111.05" cy="582.36" r="2.7" fill="#000000"/>
<circle cx="125.07" cy="578.98" r="2.7" fill="#000000"/>
<circle cx="139.09" cy="573.54" r="2.7" fill="#000000"/>
<circle cx="153.11" cy="578.39" r="2.7" fill="#000000"/>
<circle cx="167.13" cy="584.56" r="2.7" fill="#000000"/>
<circle cx="181.15" cy="586.77" r="2.7" fill="#000000"/>
<circle cx="195.17" cy="587.21" r="2.7" fill="#000000"/>
<circle cx="209.19" cy="587.79" r="2.7" fill="#000000"/>
<circle cx="223.21" cy="588.24" r="2.7" fill="#000000"/>
<circle cx="237.23" cy="588.24" r="2.7" fill="#000000"/>
<circle cx="251.25" cy="588.24" r="2.7" fill="#000000"/>
<circle cx="265.27" cy="588.24" r="2.7" fill="#000000"/>
<circle cx="279.29" cy="588.24" r="2.7" fill="#000000"/>
<circle cx="293.31" cy="588.24" r="2.7" fill="#000000"/>
<circle cx="307.33" cy="587.21" r="2.7" fill="#000000"/>
<polyline points="40.95,583.24 54.97,566.33 68.99,544.87 83.01,507.68 97.03,453 111.05,448.88 125.07,454.76 139.09,499.3 153.11,563.54 167.13,576.77 181.15,577.8 195.17,580.59 209.19,582.06 223.21,585.59 237.23,586.03 251.25,587.21 265.27,587.21 279.29,588.24 293.31,588.24 307.33,584.56" fill="none" stroke="#e8403f" stroke-width="1" stroke-linejoin="round"/>
<path d="M40.95 580.84L40.95 585.64M38.87 582.04L43.03 584.44M38.87 584.44L43.03 582.04" stroke="#e8403f" stroke-width="1.3" fill="none"/>
<path d="M54.97 563.93L54.97 568.73M52.89 565.13L57.05 567.53M52.89 567.53L57.05 565.13" stroke="#e8403f" stroke-width="1.3" fill="none"/>
<path d="M68.99 542.47L68.99 547.27M66.91 543.67L71.07 546.07M66.91 546.07L71.07 543.67" stroke="#e8403f" stroke-width="1.3" fill="none"/>
<path d="M83.01 505.28L83.01 510.08M80.93 506.48L85.09 508.88M80.93 508.88L85.09 506.48" stroke="#e8403f" stroke-width="1.3" fill="none"/>
<path d="M97.03 450.6L97.03 455.4M94.95 451.8L99.11 454.2M94.95 454.2L99.11 451.8" stroke="#e8403f" stroke-width="1.3" fill="none"/>
<path d="M111.05 446.48L111.05 451.28M108.97 447.68L113.13 450.08M108.97 450.08L113.13 447.68" stroke="#e8403f" stroke-width="1.3" fill="none"/>
<path d="M125.07 452.36L125.07 457.16M122.99 453.56L127.15 455.96M122.99 455.96L127.15 453.56" stroke="#e8403f" stroke-width="1.3" fill="none"/>
<path d="M139.09 496.9L139.09 501.7M137.01 498.1L141.17 500.5M137.01 500.5L141.17 498.1" stroke="#e8403f" stroke-width="1.3" fill="none"/>
<path d="M153.11 561.14L153.11 565.94M151.03 562.34L155.19 564.74M151.03 564.74L155.19 562.34" stroke="#e8403f" stroke-width="1.3" fill="none"/>
<path d="M167.13 574.37L167.13 579.17M165.05 575.57L169.21 577.97M165.05 577.97L169.21 575.57" stroke="#e8403f" stroke-width="1.3" fill="none"/>
<path d="M181.15 575.4L181.15 580.2M179.07 576.6L183.23 579M179.07 579L183.23 576.6" stroke="#e8403f" stroke-width="1.3" fill="none"/>
<path d="M195.17 578.19L195.17 582.99M193.09 579.39L197.25 581.79M193.09 581.79L197.25 579.39" stroke="#e8403f" stroke-width="1.3" fill="none"/>
<path d="M209.19 579.66L209.19 584.46M207.11 580.86L211.27 583.26M207.11 583.26L211.27 580.86" stroke="#e8403f" stroke-width="1.3" fill="none"/>
<path d="M223.21 583.19L223.21 587.99M221.13 584.39L225.29 586.79M221.13 586.79L225.29 584.39" stroke="#e8403f" stroke-width="1.3" fill="none"/>
<path d="M237.23 583.63L237.23 588.43M235.15 584.83L239.31 587.23M235.15 587.23L239.31 584.83" stroke="#e8403f" stroke-width="1.3" fill="none"/>
<path d="M251.25 584.81L251.25 589.61M249.17 586.01L253.33 588.41M249.17 588.41L253.33 586.01" stroke="#e8403f" stroke-width="1.3" fill="none"/>
<path d="M265.27 584.81L265.27 589.61M263.19 586.01L267.35 588.41M263.19 588.41L267.35 586.01" stroke="#e8403f" stroke-width="1.3" fill="none"/>
<path d="M279.29 585.84L279.29 590.64M277.21 587.04L281.37 589.44M277.21 589.44L281.37 587.04" stroke="#e8403f" stroke-width="1.3" fill="none"/>
<path d="M293.31 585.84L293.31 590.64M291.23 587.04L295.39 589.44M291.23 589.44L295.39 587.04" stroke="#e8403f" stroke-width="1.3" fill="none"/>
<path d="M307.33 582.16L307.33 586.96M305.25 583.36L309.41 585.76M305.25 585.76L309.41 583.36" stroke="#e8403f" stroke-width="1.3" fill="none"/>
<text x="339.5" y="436.5" font-size="16" text-anchor="start" font-weight="bold" fill="#000">E</text>
<text x="489" y="435.2" font-size="9.6" text-anchor="middle" font-weight="normal" fill="#1a1a1a" stroke="#1a1a1a" stroke-width="0.22">Byproduct C-to-A</text>
<line x1="376.25" y1="590.5" x2="376.25" y2="439.2" stroke="#000000" stroke-width="1"/>
<line x1="372.65" y1="590" x2="376.25" y2="590" stroke="#000000" stroke-width="1"/>
<text x="372.45" y="592.9" font-size="9.6" text-anchor="end" font-weight="normal" fill="#1a1a1a" stroke="#1a1a1a" stroke-width="0.22">0</text>
<line x1="372.65" y1="560.6" x2="376.25" y2="560.6" stroke="#000000" stroke-width="1"/>
<text x="372.45" y="563.5" font-size="9.6" text-anchor="end" font-weight="normal" fill="#1a1a1a" stroke="#1a1a1a" stroke-width="0.22">20</text>
<line x1="372.65" y1="531.2" x2="376.25" y2="531.2" stroke="#000000" stroke-width="1"/>
<text x="372.45" y="534.1" font-size="9.6" text-anchor="end" font-weight="normal" fill="#1a1a1a" stroke="#1a1a1a" stroke-width="0.22">40</text>
<line x1="372.65" y1="501.8" x2="376.25" y2="501.8" stroke="#000000" stroke-width="1"/>
<text x="372.45" y="504.7" font-size="9.6" text-anchor="end" font-weight="normal" fill="#1a1a1a" stroke="#1a1a1a" stroke-width="0.22">60</text>
<line x1="372.65" y1="472.4" x2="376.25" y2="472.4" stroke="#000000" stroke-width="1"/>
<text x="372.45" y="475.3" font-size="9.6" text-anchor="end" font-weight="normal" fill="#1a1a1a" stroke="#1a1a1a" stroke-width="0.22">80</text>
<line x1="372.65" y1="443" x2="376.25" y2="443" stroke="#000000" stroke-width="1"/>
<text x="372.45" y="445.9" font-size="9.6" text-anchor="end" font-weight="normal" fill="#1a1a1a" stroke="#1a1a1a" stroke-width="0.22">100</text>
<line x1="375.75" y1="590" x2="645" y2="590" stroke="#000000" stroke-width="1"/>
<line x1="376.3" y1="590" x2="376.3" y2="593.2" stroke="#000000" stroke-width="1"/>
<text font-size="9.4" text-anchor="end" fill="#1a1a1a" stroke="#1a1a1a" stroke-width="0.22" transform="translate(383.3,597.1) rotate(-62)">C1</text>
<line x1="390.32" y1="590" x2="390.32" y2="593.2" stroke="#000000" stroke-width="1"/>
<text font-size="9.4" text-anchor="end" fill="#1a1a1a" stroke="#1a1a1a" stroke-width="0.22" transform="translate(397.16,597.1) rotate(-62)">C2</text>
<line x1="404.34" y1="590" x2="404.34" y2="593.2" stroke="#000000" stroke-width="1"/>
<text font-size="9.4" text-anchor="end" fill="#1a1a1a" stroke="#1a1a1a" stroke-width="0.22" transform="translate(411.02,597.1) rotate(-62)">C3</text>
<line x1="418.36" y1="590" x2="418.36" y2="593.2" stroke="#000000" stroke-width="1"/>
<text font-size="9.4" text-anchor="end" fill="#1a1a1a" stroke="#1a1a1a" stroke-width="0.22" transform="translate(424.88,597.1) rotate(-62)">C4</text>
<line x1="432.38" y1="590" x2="432.38" y2="593.2" stroke="#000000" stroke-width="1"/>
<text font-size="9.4" text-anchor="end" fill="#1a1a1a" stroke="#1a1a1a" stroke-width="0.22" transform="translate(438.74,597.1) rotate(-62)">C5</text>
<line x1="446.4" y1="590" x2="446.4" y2="593.2" stroke="#000000" stroke-width="1"/>
<text font-size="9.4" text-anchor="end" fill="#1a1a1a" stroke="#1a1a1a" stroke-width="0.22" transform="translate(452.6,597.1) rotate(-62)">C6</text>
<line x1="460.42" y1="590" x2="460.42" y2="593.2" stroke="#000000" stroke-width="1"/>
<text font-size="9.4" text-anchor="end" fill="#1a1a1a" stroke="#1a1a1a" stroke-width="0.22" transform="translate(466.46,597.1) rotate(-62)">C7</text>
<line x1="474.44" y1="590" x2="474.44" y2="593.2" stroke="#000000" stroke-width="1"/>
<text font-size="9.4" text-anchor="end" fill="#1a1a1a" stroke="#1a1a1a" stroke-width="0.22" transform="translate(480.32,597.1) rotate(-62)">C8</text>
<line x1="488.46" y1="590" x2="488.46" y2="593.2" stroke="#000000" stroke-width="1"/>
<text font-size="9.4" text-anchor="end" fill="#1a1a1a" stroke="#1a1a1a" stroke-width="0.22" transform="translate(494.18,597.1) rotate(-62)">C9</text>
<line x1="502.48" y1="590" x2="502.48" y2="593.2" stroke="#000000" stroke-width="1"/>
<text font-size="9.4" text-anchor="end" fill="#1a1a1a" stroke="#1a1a1a" stroke-width="0.22" transform="translate(508.04,597.1) rotate(-62)">C10</text>
<line x1="516.5" y1="590" x2="516.5" y2="593.2" stroke="#000000" stroke-width="1"/>
<text font-size="9.4" text-anchor="end" fill="#1a1a1a" stroke="#1a1a1a" stroke-width="0.22" transform="translate(521.9,597.1) rotate(-62)">C11</text>
<line x1="530.52" y1="590" x2="530.52" y2="593.2" stroke="#000000" stroke-width="1"/>
<text font-size="9.4" text-anchor="end" fill="#1a1a1a" stroke="#1a1a1a" stroke-width="0.22" transform="translate(535.76,597.1) rotate(-62)">C12</text>
<line x1="544.54" y1="590" x2="544.54" y2="593.2" stroke="#000000" stroke-width="1"/>
<text font-size="9.4" text-anchor="end" fill="#1a1a1a" stroke="#1a1a1a" stroke-width="0.22" transform="translate(549.62,597.1) rotate(-62)">C13</text>
<line x1="558.56" y1="590" x2="558.56" y2="593.2" stroke="#000000" stroke-width="1"/>
<text font-size="9.4" text-anchor="end" fill="#1a1a1a" stroke="#1a1a1a" stroke-width="0.22" transform="translate(563.48,597.1) rotate(-62)">C14</text>
<line x1="572.58" y1="590" x2="572.58" y2="593.2" stroke="#000000" stroke-width="1"/>
<text font-size="9.4" text-anchor="end" fill="#1a1a1a" stroke="#1a1a1a" stroke-width="0.22" transform="translate(577.34,597.1) rotate(-62)">C15</text>
<line x1="586.6" y1="590" x2="586.6" y2="593.2" stroke="#000000" stroke-width="1"/>
<text font-size="9.4" text-anchor="end" fill="#1a1a1a" stroke="#1a1a1a" stroke-width="0.22" transform="translate(591.2,597.1) rotate(-62)">C16</text>
<line x1="600.62" y1="590" x2="600.62" y2="593.2" stroke="#000000" stroke-width="1"/>
<text font-size="9.4" text-anchor="end" fill="#1a1a1a" stroke="#1a1a1a" stroke-width="0.22" transform="translate(605.06,597.1) rotate(-62)">C17</text>
<line x1="614.64" y1="590" x2="614.64" y2="593.2" stroke="#000000" stroke-width="1"/>
<text font-size="9.4" text-anchor="end" fill="#1a1a1a" stroke="#1a1a1a" stroke-width="0.22" transform="translate(618.92,597.1) rotate(-62)">C18</text>
<line x1="628.66" y1="590" x2="628.66" y2="593.2" stroke="#000000" stroke-width="1"/>
<text font-size="9.4" text-anchor="end" fill="#1a1a1a" stroke="#1a1a1a" stroke-width="0.22" transform="translate(632.78,597.1) rotate(-62)">C19</text>
<line x1="642.68" y1="590" x2="642.68" y2="593.2" stroke="#000000" stroke-width="1"/>
<text font-size="9.4" text-anchor="end" fill="#1a1a1a" stroke="#1a1a1a" stroke-width="0.22" transform="translate(646.64,597.1) rotate(-62)">C20</text>
<polyline points="376.3,585.59 390.32,577.8 404.34,583.83 418.36,585 432.38,575.15 446.4,574.71 460.42,571.77 474.44,576.92 488.46,580.59 502.48,582.8 516.5,586.03 530.52,588.68 544.54,586.47 558.56,588.24 572.58,586.03 586.6,587.79 600.62,588.68 614.64,587.79 628.66,587.79 642.68,578.98" fill="none" stroke="#66b431" stroke-width="1" stroke-linejoin="round"/>
<path d="M376.3 582.69L379.2 587.76L373.4 587.76Z" fill="#66b431"/>
<path d="M390.32 574.9L393.22 579.97L387.42 579.97Z" fill="#66b431"/>
<path d="M404.34 580.93L407.24 586L401.44 586Z" fill="#66b431"/>
<path d="M418.36 582.1L421.26 587.18L415.46 587.18Z" fill="#66b431"/>
<path d="M432.38 572.25L435.28 577.33L429.48 577.33Z" fill="#66b431"/>
<path d="M446.4 571.81L449.3 576.89L443.5 576.89Z" fill="#66b431"/>
<path d="M460.42 568.87L463.32 573.95L457.52 573.95Z" fill="#66b431"/>
<path d="M474.44 574.02L477.34 579.09L471.54 579.09Z" fill="#66b431"/>
<path d="M488.46 577.69L491.36 582.77L485.56 582.77Z" fill="#66b431"/>
<path d="M502.48 579.9L505.38 584.97L499.58 584.97Z" fill="#66b431"/>
<path d="M516.5 583.13L519.4 588.21L513.6 588.21Z" fill="#66b431"/>
<path d="M530.52 585.78L533.42 590.85L527.62 590.85Z" fill="#66b431"/>
<path d="M544.54 583.57L547.44 588.65L541.64 588.65Z" fill="#66b431"/>
<path d="M558.56 585.34L561.46 590.41L555.66 590.41Z" fill="#66b431"/>
<path d="M572.58 583.13L575.48 588.21L569.68 588.21Z" fill="#66b431"/>
<path d="M586.6 584.89L589.5 589.97L583.7 589.97Z" fill="#66b431"/>
<path d="M600.62 585.78L603.52 590.85L597.72 590.85Z" fill="#66b431"/>
<path d="M614.64 584.89L617.54 589.97L611.74 589.97Z" fill="#66b431"/>
<path d="M628.66 584.89L631.56 589.97L625.76 589.97Z" fill="#66b431"/>
<path d="M642.68 576.08L645.58 581.15L639.78 581.15Z" fill="#66b431"/>
<polyline points="376.3,586.03 390.32,580.59 404.34,582.8 418.36,580.59 432.38,580.15 446.4,578.39 460.42,576.18 474.44,577.36 488.46,580.59 502.48,582.8 516.5,582.8 530.52,585 544.54,585 558.56,586.03 572.58,586.03 586.6,587.21 600.62,587.21 614.64,587.21 628.66,586.47 642.68,585" fill="none" stroke="#6ec4d4" stroke-width="1" stroke-linejoin="round"/>
<rect x="373.8" y="583.53" width="5" height="5" fill="#6ec4d4" stroke="none" stroke-width="0.6"/>
<rect x="387.82" y="578.09" width="5" height="5" fill="#6ec4d4" stroke="none" stroke-width="0.6"/>
<rect x="401.84" y="580.3" width="5" height="5" fill="#6ec4d4" stroke="none" stroke-width="0.6"/>
<rect x="415.86" y="578.09" width="5" height="5" fill="#6ec4d4" stroke="none" stroke-width="0.6"/>
<rect x="429.88" y="577.65" width="5" height="5" fill="#6ec4d4" stroke="none" stroke-width="0.6"/>
<rect x="443.9" y="575.89" width="5" height="5" fill="#6ec4d4" stroke="none" stroke-width="0.6"/>
<rect x="457.92" y="573.68" width="5" height="5" fill="#6ec4d4" stroke="none" stroke-width="0.6"/>
<rect x="471.94" y="574.86" width="5" height="5" fill="#6ec4d4" stroke="none" stroke-width="0.6"/>
<rect x="485.96" y="578.09" width="5" height="5" fill="#6ec4d4" stroke="none" stroke-width="0.6"/>
<rect x="499.98" y="580.3" width="5" height="5" fill="#6ec4d4" stroke="none" stroke-width="0.6"/>
<rect x="514" y="580.3" width="5" height="5" fill="#6ec4d4" stroke="none" stroke-width="0.6"/>
<rect x="528.02" y="582.5" width="5" height="5" fill="#6ec4d4" stroke="none" stroke-width="0.6"/>
<rect x="542.04" y="582.5" width="5" height="5" fill="#6ec4d4" stroke="none" stroke-width="0.6"/>
<rect x="556.06" y="583.53" width="5" height="5" fill="#6ec4d4" stroke="none" stroke-width="0.6"/>
<rect x="570.08" y="583.53" width="5" height="5" fill="#6ec4d4" stroke="none" stroke-width="0.6"/>
<rect x="584.1" y="584.71" width="5" height="5" fill="#6ec4d4" stroke="none" stroke-width="0.6"/>
<rect x="598.12" y="584.71" width="5" height="5" fill="#6ec4d4" stroke="none" stroke-width="0.6"/>
<rect x="612.14" y="584.71" width="5" height="5" fill="#6ec4d4" stroke="none" stroke-width="0.6"/>
<rect x="626.16" y="583.97" width="5" height="5" fill="#6ec4d4" stroke="none" stroke-width="0.6"/>
<rect x="640.18" y="582.5" width="5" height="5" fill="#6ec4d4" stroke="none" stroke-width="0.6"/>
<polyline points="376.3,586.47 390.32,581.62 404.34,583.83 418.36,582.8 432.38,580.59 446.4,579.56 460.42,576.18 474.44,576.18 488.46,581.62 502.48,582.8 516.5,585 530.52,586.03 544.54,586.47 558.56,587.06 572.58,587.06 586.6,587.79 600.62,587.79 614.64,587.79 628.66,587.79 642.68,582.8" fill="none" stroke="#1a45a0" stroke-width="1" stroke-linejoin="round"/>
<path d="M376.3 589.37L379.2 584.3L373.4 584.3Z" fill="#1a45a0"/>
<path d="M390.32 584.52L393.22 579.45L387.42 579.45Z" fill="#1a45a0"/>
<path d="M404.34 586.73L407.24 581.65L401.44 581.65Z" fill="#1a45a0"/>
<path d="M418.36 585.7L421.26 580.62L415.46 580.62Z" fill="#1a45a0"/>
<path d="M432.38 583.49L435.28 578.42L429.48 578.42Z" fill="#1a45a0"/>
<path d="M446.4 582.46L449.3 577.39L443.5 577.39Z" fill="#1a45a0"/>
<path d="M460.42 579.08L463.32 574.01L457.52 574.01Z" fill="#1a45a0"/>
<path d="M474.44 579.08L477.34 574.01L471.54 574.01Z" fill="#1a45a0"/>
<path d="M488.46 584.52L491.36 579.45L485.56 579.45Z" fill="#1a45a0"/>
<path d="M502.48 585.7L505.38 580.62L499.58 580.62Z" fill="#1a45a0"/>
<path d="M516.5 587.9L519.4 582.83L513.6 582.83Z" fill="#1a45a0"/>
<path d="M530.52 588.93L533.42 583.86L527.62 583.86Z" fill="#1a45a0"/>
<path d="M544.54 589.37L547.44 584.3L541.64 584.3Z" fill="#1a45a0"/>
<path d="M558.56 589.96L561.46 584.88L555.66 584.88Z" fill="#1a45a0"/>
<path d="M572.58 589.96L575.48 584.88L569.68 584.88Z" fill="#1a45a0"/>
<path d="M586.6 590.69L589.5 585.62L583.7 585.62Z" fill="#1a45a0"/>
<path d="M600.62 590.69L603.52 585.62L597.72 585.62Z" fill="#1a45a0"/>
<path d="M614.64 590.69L617.54 585.62L611.74 585.62Z" fill="#1a45a0"/>
<path d="M628.66 590.69L631.56 585.62L625.76 585.62Z" fill="#1a45a0"/>
<path d="M642.68 585.7L645.58 580.62L639.78 580.62Z" fill="#1a45a0"/>
<polyline points="376.3,586.47 390.32,582.8 404.34,585 418.36,585 432.38,583.83 446.4,581.62 460.42,578.39 474.44,578.98 488.46,582.8 502.48,584.27 516.5,585.59 530.52,586.47 544.54,587.06 558.56,587.35 572.58,587.35 586.6,587.79 600.62,587.79 614.64,588.24 628.66,588.24 642.68,583.83" fill="none" stroke="#c063a8" stroke-width="1" stroke-linejoin="round"/>
<path d="M376.3 583.87L378.9 586.47L376.3 589.07L373.7 586.47Z" fill="#c063a8"/>
<path d="M390.32 580.2L392.92 582.8L390.32 585.4L387.72 582.8Z" fill="#c063a8"/>
<path d="M404.34 582.4L406.94 585L404.34 587.6L401.74 585Z" fill="#c063a8"/>
<path d="M418.36 582.4L420.96 585L418.36 587.6L415.76 585Z" fill="#c063a8"/>
<path d="M432.38 581.23L434.98 583.83L432.38 586.43L429.78 583.83Z" fill="#c063a8"/>
<path d="M446.4 579.02L449 581.62L446.4 584.22L443.8 581.62Z" fill="#c063a8"/>
<path d="M460.42 575.79L463.02 578.39L460.42 580.99L457.82 578.39Z" fill="#c063a8"/>
<path d="M474.44 576.38L477.04 578.98L474.44 581.58L471.84 578.98Z" fill="#c063a8"/>
<path d="M488.46 580.2L491.06 582.8L488.46 585.4L485.86 582.8Z" fill="#c063a8"/>
<path d="M502.48 581.67L505.08 584.27L502.48 586.87L499.88 584.27Z" fill="#c063a8"/>
<path d="M516.5 582.99L519.1 585.59L516.5 588.19L513.9 585.59Z" fill="#c063a8"/>
<path d="M530.52 583.87L533.12 586.47L530.52 589.07L527.92 586.47Z" fill="#c063a8"/>
<path d="M544.54 584.46L547.14 587.06L544.54 589.66L541.94 587.06Z" fill="#c063a8"/>
<path d="M558.56 584.75L561.16 587.35L558.56 589.95L555.96 587.35Z" fill="#c063a8"/>
<path d="M572.58 584.75L575.18 587.35L572.58 589.95L569.98 587.35Z" fill="#c063a8"/>
<path d="M586.6 585.19L589.2 587.79L586.6 590.39L584 587.79Z" fill="#c063a8"/>
<path d="M600.62 585.19L603.22 587.79L600.62 590.39L598.02 587.79Z" fill="#c063a8"/>
<path d="M614.64 585.64L617.24 588.24L614.64 590.84L612.04 588.24Z" fill="#c063a8"/>
<path d="M628.66 585.64L631.26 588.24L628.66 590.84L626.06 588.24Z" fill="#c063a8"/>
<path d="M642.68 581.23L645.28 583.83L642.68 586.43L640.08 583.83Z" fill="#c063a8"/>
<polyline points="376.3,587.79 390.32,585.44 404.34,586.47 418.36,586.03 432.38,585.59 446.4,583.83 460.42,581.18 474.44,581.18 488.46,584.27 502.48,585 516.5,586.47 530.52,586.47 544.54,587.21 558.56,587.21 572.58,586.47 586.6,588.24 600.62,587.21 614.64,587.79 628.66,588.24 642.68,587.79" fill="none" stroke="#000000" stroke-width="1" stroke-linejoin="round"/>
<circle cx="376.3" cy="587.79" r="2.7" fill="#000000"/>
<circle cx="390.32" cy="585.44" r="2.7" fill="#000000"/>
<circle cx="404.34" cy="586.47" r="2.7" fill="#000000"/>
<circle cx="418.36" cy="586.03" r="2.7" fill="#000000"/>
<circle cx="432.38" cy="585.59" r="2.7" fill="#000000"/>
<circle cx="446.4" cy="583.83" r="2.7" fill="#000000"/>
<circle cx="460.42" cy="581.18" r="2.7" fill="#000000"/>
<circle cx="474.44" cy="581.18" r="2.7" fill="#000000"/>
<circle cx="488.46" cy="584.27" r="2.7" fill="#000000"/>
<circle cx="502.48" cy="585" r="2.7" fill="#000000"/>
<circle cx="516.5" cy="586.47" r="2.7" fill="#000000"/>
<circle cx="530.52" cy="586.47" r="2.7" fill="#000000"/>
<circle cx="544.54" cy="587.21" r="2.7" fill="#000000"/>
<circle cx="558.56" cy="587.21" r="2.7" fill="#000000"/>
<circle cx="572.58" cy="586.47" r="2.7" fill="#000000"/>
<circle cx="586.6" cy="588.24" r="2.7" fill="#000000"/>
<circle cx="600.62" cy="587.21" r="2.7" fill="#000000"/>
<circle cx="614.64" cy="587.79" r="2.7" fill="#000000"/>
<circle cx="628.66" cy="588.24" r="2.7" fill="#000000"/>
<circle cx="642.68" cy="587.79" r="2.7" fill="#000000"/>
<polyline points="376.3,578.39 390.32,565.89 404.34,547.66 418.36,507.24 432.38,462.4 446.4,447.41 460.42,477.4 474.44,525.32 488.46,570.74 502.48,577.8 516.5,577.8 530.52,579.86 544.54,579.86 558.56,582.8 572.58,582.8 586.6,585 600.62,586.03 614.64,587.21 628.66,587.79 642.68,583.83" fill="none" stroke="#e8403f" stroke-width="1" stroke-linejoin="round"/>
<path d="M376.3 575.99L376.3 580.79M374.22 577.19L378.38 579.59M374.22 579.59L378.38 577.19" stroke="#e8403f" stroke-width="1.3" fill="none"/>
<path d="M390.32 563.49L390.32 568.29M388.24 564.69L392.4 567.09M388.24 567.09L392.4 564.69" stroke="#e8403f" stroke-width="1.3" fill="none"/>
<path d="M404.34 545.26L404.34 550.06M402.26 546.46L406.42 548.86M402.26 548.86L406.42 546.46" stroke="#e8403f" stroke-width="1.3" fill="none"/>
<path d="M418.36 504.84L418.36 509.64M416.28 506.04L420.44 508.44M416.28 508.44L420.44 506.04" stroke="#e8403f" stroke-width="1.3" fill="none"/>
<path d="M432.38 460L432.38 464.8M430.3 461.2L434.46 463.6M430.3 463.6L434.46 461.2" stroke="#e8403f" stroke-width="1.3" fill="none"/>
<path d="M446.4 445.01L446.4 449.81M444.32 446.21L448.48 448.61M444.32 448.61L448.48 446.21" stroke="#e8403f" stroke-width="1.3" fill="none"/>
<path d="M460.42 475L460.42 479.8M458.34 476.2L462.5 478.6M458.34 478.6L462.5 476.2" stroke="#e8403f" stroke-width="1.3" fill="none"/>
<path d="M474.44 522.92L474.44 527.72M472.36 524.12L476.52 526.52M472.36 526.52L476.52 524.12" stroke="#e8403f" stroke-width="1.3" fill="none"/>
<path d="M488.46 568.34L488.46 573.14M486.38 569.54L490.54 571.94M486.38 571.94L490.54 569.54" stroke="#e8403f" stroke-width="1.3" fill="none"/>
<path d="M502.48 575.4L502.48 580.2M500.4 576.6L504.56 579M500.4 579L504.56 576.6" stroke="#e8403f" stroke-width="1.3" fill="none"/>
<path d="M516.5 575.4L516.5 580.2M514.42 576.6L518.58 579M514.42 579L518.58 576.6" stroke="#e8403f" stroke-width="1.3" fill="none"/>
<path d="M530.52 577.46L530.52 582.26M528.44 578.66L532.6 581.06M528.44 581.06L532.6 578.66" stroke="#e8403f" stroke-width="1.3" fill="none"/>
<path d="M544.54 577.46L544.54 582.26M542.46 578.66L546.62 581.06M542.46 581.06L546.62 578.66" stroke="#e8403f" stroke-width="1.3" fill="none"/>
<path d="M558.56 580.4L558.56 585.2M556.48 581.6L560.64 584M556.48 584L560.64 581.6" stroke="#e8403f" stroke-width="1.3" fill="none"/>
<path d="M572.58 580.4L572.58 585.2M570.5 581.6L574.66 584M570.5 584L574.66 581.6" stroke="#e8403f" stroke-width="1.3" fill="none"/>
<path d="M586.6 582.6L586.6 587.4M584.52 583.8L588.68 586.2M584.52 586.2L588.68 583.8" stroke="#e8403f" stroke-width="1.3" fill="none"/>
<path d="M600.62 583.63L600.62 588.43M598.54 584.83L602.7 587.23M598.54 587.23L602.7 584.83" stroke="#e8403f" stroke-width="1.3" fill="none"/>
<path d="M614.64 584.81L614.64 589.61M612.56 586.01L616.72 588.41M612.56 588.41L616.72 586.01" stroke="#e8403f" stroke-width="1.3" fill="none"/>
<path d="M628.66 585.39L628.66 590.19M626.58 586.59L630.74 589M626.58 589L630.74 586.59" stroke="#e8403f" stroke-width="1.3" fill="none"/>
<path d="M642.68 581.43L642.68 586.23M640.6 582.63L644.76 585.03M640.6 585.03L644.76 582.63" stroke="#e8403f" stroke-width="1.3" fill="none"/>
<text x="0.3" y="655.6" font-size="16" text-anchor="start" font-weight="bold" fill="#000">F</text>
<text x="172.5" y="659.6" font-size="9.6" text-anchor="middle" font-weight="normal" fill="#1a1a1a" stroke="#1a1a1a" stroke-width="0.22">Target product A-to-G</text>
<text x="0" y="0" font-size="9.4" text-anchor="middle" font-weight="normal" fill="#1a1a1a" transform="translate(21.8,739.2) rotate(-90)" stroke="#1a1a1a" stroke-width="0.22">Relative editing efficiency (%)</text>
<line x1="45" y1="819" x2="45" y2="667.95" stroke="#000000" stroke-width="1"/>
<line x1="41.4" y1="818.5" x2="45" y2="818.5" stroke="#000000" stroke-width="1"/>
<text x="41.2" y="821.4" font-size="9.6" text-anchor="end" font-weight="normal" fill="#1a1a1a" stroke="#1a1a1a" stroke-width="0.22">0</text>
<line x1="41.4" y1="789.15" x2="45" y2="789.15" stroke="#000000" stroke-width="1"/>
<text x="41.2" y="792.05" font-size="9.6" text-anchor="end" font-weight="normal" fill="#1a1a1a" stroke="#1a1a1a" stroke-width="0.22">20</text>
<line x1="41.4" y1="759.8" x2="45" y2="759.8" stroke="#000000" stroke-width="1"/>
<text x="41.2" y="762.7" font-size="9.6" text-anchor="end" font-weight="normal" fill="#1a1a1a" stroke="#1a1a1a" stroke-width="0.22">40</text>
<line x1="41.4" y1="730.45" x2="45" y2="730.45" stroke="#000000" stroke-width="1"/>
<text x="41.2" y="733.35" font-size="9.6" text-anchor="end" font-weight="normal" fill="#1a1a1a" stroke="#1a1a1a" stroke-width="0.22">60</text>
<line x1="41.4" y1="701.1" x2="45" y2="701.1" stroke="#000000" stroke-width="1"/>
<text x="41.2" y="704" font-size="9.6" text-anchor="end" font-weight="normal" fill="#1a1a1a" stroke="#1a1a1a" stroke-width="0.22">80</text>
<line x1="41.4" y1="671.75" x2="45" y2="671.75" stroke="#000000" stroke-width="1"/>
<text x="41.2" y="674.65" font-size="9.6" text-anchor="end" font-weight="normal" fill="#1a1a1a" stroke="#1a1a1a" stroke-width="0.22">100</text>
<line x1="44.5" y1="818.5" x2="315" y2="818.5" stroke="#000000" stroke-width="1"/>
<line x1="44.6" y1="818.5" x2="44.6" y2="821.7" stroke="#000000" stroke-width="1"/>
<text font-size="9.4" text-anchor="end" fill="#1a1a1a" stroke="#1a1a1a" stroke-width="0.22" transform="translate(47.6,828) rotate(-62)">A1</text>
<line x1="58.78" y1="818.5" x2="58.78" y2="821.7" stroke="#000000" stroke-width="1"/>
<text font-size="9.4" text-anchor="end" fill="#1a1a1a" stroke="#1a1a1a" stroke-width="0.22" transform="translate(61.73,828) rotate(-62)">A2</text>
<line x1="72.96" y1="818.5" x2="72.96" y2="821.7" stroke="#000000" stroke-width="1"/>
<text font-size="9.4" text-anchor="end" fill="#1a1a1a" stroke="#1a1a1a" stroke-width="0.22" transform="translate(75.86,828) rotate(-62)">A3</text>
<line x1="87.14" y1="818.5" x2="87.14" y2="821.7" stroke="#000000" stroke-width="1"/>
<text font-size="9.4" text-anchor="end" fill="#1a1a1a" stroke="#1a1a1a" stroke-width="0.22" transform="translate(89.99,828) rotate(-62)">A4</text>
<line x1="101.32" y1="818.5" x2="101.32" y2="821.7" stroke="#000000" stroke-width="1"/>
<text font-size="9.4" text-anchor="end" fill="#1a1a1a" stroke="#1a1a1a" stroke-width="0.22" transform="translate(104.12,828) rotate(-62)">A5</text>
<line x1="115.5" y1="818.5" x2="115.5" y2="821.7" stroke="#000000" stroke-width="1"/>
<text font-size="9.4" text-anchor="end" fill="#1a1a1a" stroke="#1a1a1a" stroke-width="0.22" transform="translate(118.25,828) rotate(-62)">A6</text>
<line x1="129.68" y1="818.5" x2="129.68" y2="821.7" stroke="#000000" stroke-width="1"/>
<text font-size="9.4" text-anchor="end" fill="#1a1a1a" stroke="#1a1a1a" stroke-width="0.22" transform="translate(132.38,828) rotate(-62)">A7</text>
<line x1="143.86" y1="818.5" x2="143.86" y2="821.7" stroke="#000000" stroke-width="1"/>
<text font-size="9.4" text-anchor="end" fill="#1a1a1a" stroke="#1a1a1a" stroke-width="0.22" transform="translate(146.51,828) rotate(-62)">A8</text>
<line x1="158.04" y1="818.5" x2="158.04" y2="821.7" stroke="#000000" stroke-width="1"/>
<text font-size="9.4" text-anchor="end" fill="#1a1a1a" stroke="#1a1a1a" stroke-width="0.22" transform="translate(160.64,828) rotate(-62)">A9</text>
<line x1="172.22" y1="818.5" x2="172.22" y2="821.7" stroke="#000000" stroke-width="1"/>
<text font-size="9.4" text-anchor="end" fill="#1a1a1a" stroke="#1a1a1a" stroke-width="0.22" transform="translate(174.77,828) rotate(-62)">A10</text>
<line x1="186.4" y1="818.5" x2="186.4" y2="821.7" stroke="#000000" stroke-width="1"/>
<text font-size="9.4" text-anchor="end" fill="#1a1a1a" stroke="#1a1a1a" stroke-width="0.22" transform="translate(188.9,828) rotate(-62)">A11</text>
<line x1="200.58" y1="818.5" x2="200.58" y2="821.7" stroke="#000000" stroke-width="1"/>
<text font-size="9.4" text-anchor="end" fill="#1a1a1a" stroke="#1a1a1a" stroke-width="0.22" transform="translate(203.03,828) rotate(-62)">A12</text>
<line x1="214.76" y1="818.5" x2="214.76" y2="821.7" stroke="#000000" stroke-width="1"/>
<text font-size="9.4" text-anchor="end" fill="#1a1a1a" stroke="#1a1a1a" stroke-width="0.22" transform="translate(217.16,828) rotate(-62)">A13</text>
<line x1="228.94" y1="818.5" x2="228.94" y2="821.7" stroke="#000000" stroke-width="1"/>
<text font-size="9.4" text-anchor="end" fill="#1a1a1a" stroke="#1a1a1a" stroke-width="0.22" transform="translate(231.29,828) rotate(-62)">A14</text>
<line x1="243.12" y1="818.5" x2="243.12" y2="821.7" stroke="#000000" stroke-width="1"/>
<text font-size="9.4" text-anchor="end" fill="#1a1a1a" stroke="#1a1a1a" stroke-width="0.22" transform="translate(245.42,828) rotate(-62)">A15</text>
<line x1="257.3" y1="818.5" x2="257.3" y2="821.7" stroke="#000000" stroke-width="1"/>
<text font-size="9.4" text-anchor="end" fill="#1a1a1a" stroke="#1a1a1a" stroke-width="0.22" transform="translate(259.55,828) rotate(-62)">A16</text>
<line x1="271.48" y1="818.5" x2="271.48" y2="821.7" stroke="#000000" stroke-width="1"/>
<text font-size="9.4" text-anchor="end" fill="#1a1a1a" stroke="#1a1a1a" stroke-width="0.22" transform="translate(273.68,828) rotate(-62)">A17</text>
<line x1="285.66" y1="818.5" x2="285.66" y2="821.7" stroke="#000000" stroke-width="1"/>
<text font-size="9.4" text-anchor="end" fill="#1a1a1a" stroke="#1a1a1a" stroke-width="0.22" transform="translate(287.81,828) rotate(-62)">A18</text>
<line x1="299.84" y1="818.5" x2="299.84" y2="821.7" stroke="#000000" stroke-width="1"/>
<text font-size="9.4" text-anchor="end" fill="#1a1a1a" stroke="#1a1a1a" stroke-width="0.22" transform="translate(301.94,828) rotate(-62)">A19</text>
<line x1="314.02" y1="818.5" x2="314.02" y2="821.7" stroke="#000000" stroke-width="1"/>
<text font-size="9.4" text-anchor="end" fill="#1a1a1a" stroke="#1a1a1a" stroke-width="0.22" transform="translate(316.07,828) rotate(-62)">A20</text>
<polyline points="44.6,818.5 58.78,817.91 72.96,812.34 87.14,778.88 101.32,725.17 115.5,738.37 129.68,775.06 143.86,810.43 158.04,817.91 172.22,817.91 195.8,818.06 209.8,818.06 223.8,818.06 237.8,818.06 251.8,818.06 265.8,818.06 279.8,818.06 293.8,818.06 307.8,817.77" fill="none" stroke="#66b431" stroke-width="1" stroke-linejoin="round"/>
<path d="M44.6 815.6L47.5 820.67L41.7 820.67Z" fill="#66b431"/>
<path d="M58.78 815.01L61.68 820.09L55.88 820.09Z" fill="#66b431"/>
<path d="M72.96 809.44L75.86 814.51L70.06 814.51Z" fill="#66b431"/>
<path d="M87.14 775.98L90.04 781.05L84.24 781.05Z" fill="#66b431"/>
<path d="M101.32 722.27L104.22 727.34L98.42 727.34Z" fill="#66b431"/>
<path d="M115.5 735.47L118.4 740.55L112.6 740.55Z" fill="#66b431"/>
<path d="M129.68 772.16L132.58 777.24L126.78 777.24Z" fill="#66b431"/>
<path d="M143.86 807.53L146.76 812.6L140.96 812.6Z" fill="#66b431"/>
<path d="M158.04 815.01L160.94 820.09L155.14 820.09Z" fill="#66b431"/>
<path d="M172.22 815.01L175.12 820.09L169.32 820.09Z" fill="#66b431"/>
<path d="M195.8 815.16L198.7 820.23L192.9 820.23Z" fill="#66b431"/>
<path d="M209.8 815.16L212.7 820.23L206.9 820.23Z" fill="#66b431"/>
<path d="M223.8 815.16L226.7 820.23L220.9 820.23Z" fill="#66b431"/>
<path d="M237.8 815.16L240.7 820.23L234.9 820.23Z" fill="#66b431"/>
<path d="M251.8 815.16L254.7 820.23L248.9 820.23Z" fill="#66b431"/>
<path d="M265.8 815.16L268.7 820.23L262.9 820.23Z" fill="#66b431"/>
<path d="M279.8 815.16L282.7 820.23L276.9 820.23Z" fill="#66b431"/>
<path d="M293.8 815.16L296.7 820.23L290.9 820.23Z" fill="#66b431"/>
<path d="M307.8 814.87L310.7 819.94L304.9 819.94Z" fill="#66b431"/>
<polyline points="44.6,816.15 58.78,814.39 72.96,800.01 87.14,751.29 101.32,693.18 115.5,690.97 129.68,717.68 143.86,757.16 158.04,779.46 172.22,794.43 195.8,807.35 209.8,812.34 223.8,816.89 237.8,817.03 251.8,817.33 265.8,817.33 279.8,817.33 293.8,817.03 307.8,814.83" fill="none" stroke="#6ec4d4" stroke-width="1" stroke-linejoin="round"/>
<rect x="42.1" y="813.65" width="5" height="5" fill="#6ec4d4" stroke="none" stroke-width="0.6"/>
<rect x="56.28" y="811.89" width="5" height="5" fill="#6ec4d4" stroke="none" stroke-width="0.6"/>
<rect x="70.46" y="797.51" width="5" height="5" fill="#6ec4d4" stroke="none" stroke-width="0.6"/>
<rect x="84.64" y="748.79" width="5" height="5" fill="#6ec4d4" stroke="none" stroke-width="0.6"/>
<rect x="98.82" y="690.68" width="5" height="5" fill="#6ec4d4" stroke="none" stroke-width="0.6"/>
<rect x="113" y="688.47" width="5" height="5" fill="#6ec4d4" stroke="none" stroke-width="0.6"/>
<rect x="127.18" y="715.18" width="5" height="5" fill="#6ec4d4" stroke="none" stroke-width="0.6"/>
<rect x="141.36" y="754.66" width="5" height="5" fill="#6ec4d4" stroke="none" stroke-width="0.6"/>
<rect x="155.54" y="776.96" width="5" height="5" fill="#6ec4d4" stroke="none" stroke-width="0.6"/>
<rect x="169.72" y="791.93" width="5" height="5" fill="#6ec4d4" stroke="none" stroke-width="0.6"/>
<rect x="193.3" y="804.85" width="5" height="5" fill="#6ec4d4" stroke="none" stroke-width="0.6"/>
<rect x="207.3" y="809.84" width="5" height="5" fill="#6ec4d4" stroke="none" stroke-width="0.6"/>
<rect x="221.3" y="814.39" width="5" height="5" fill="#6ec4d4" stroke="none" stroke-width="0.6"/>
<rect x="235.3" y="814.53" width="5" height="5" fill="#6ec4d4" stroke="none" stroke-width="0.6"/>
<rect x="249.3" y="814.83" width="5" height="5" fill="#6ec4d4" stroke="none" stroke-width="0.6"/>
<rect x="263.3" y="814.83" width="5" height="5" fill="#6ec4d4" stroke="none" stroke-width="0.6"/>
<rect x="277.3" y="814.83" width="5" height="5" fill="#6ec4d4" stroke="none" stroke-width="0.6"/>
<rect x="291.3" y="814.53" width="5" height="5" fill="#6ec4d4" stroke="none" stroke-width="0.6"/>
<rect x="305.3" y="812.33" width="5" height="5" fill="#6ec4d4" stroke="none" stroke-width="0.6"/>
<polyline points="44.6,815.71 58.78,814.39 72.96,809.84 87.14,787.54 101.32,721.35 115.5,677.03 129.68,687.16 143.86,734.41 158.04,773.3 172.22,797.96 195.8,811.9 209.8,816.3 223.8,817.03 237.8,817.33 251.8,817.33 265.8,817.33 279.8,817.33 293.8,817.03 307.8,813.66" fill="none" stroke="#1a45a0" stroke-width="1" stroke-linejoin="round"/>
<path d="M44.6 818.61L47.5 813.54L41.7 813.54Z" fill="#1a45a0"/>
<path d="M58.78 817.29L61.68 812.22L55.88 812.22Z" fill="#1a45a0"/>
<path d="M72.96 812.74L75.86 807.67L70.06 807.67Z" fill="#1a45a0"/>
<path d="M87.14 790.44L90.04 785.36L84.24 785.36Z" fill="#1a45a0"/>
<path d="M101.32 724.25L104.22 719.18L98.42 719.18Z" fill="#1a45a0"/>
<path d="M115.5 679.93L118.4 674.86L112.6 674.86Z" fill="#1a45a0"/>
<path d="M129.68 690.06L132.58 684.98L126.78 684.98Z" fill="#1a45a0"/>
<path d="M143.86 737.31L146.76 732.24L140.96 732.24Z" fill="#1a45a0"/>
<path d="M158.04 776.2L160.94 771.13L155.14 771.13Z" fill="#1a45a0"/>
<path d="M172.22 800.86L175.12 795.78L169.32 795.78Z" fill="#1a45a0"/>
<path d="M195.8 814.8L198.7 809.72L192.9 809.72Z" fill="#1a45a0"/>
<path d="M209.8 819.2L212.7 814.12L206.9 814.12Z" fill="#1a45a0"/>
<path d="M223.8 819.93L226.7 814.86L220.9 814.86Z" fill="#1a45a0"/>
<path d="M237.8 820.23L240.7 815.15L234.9 815.15Z" fill="#1a45a0"/>
<path d="M251.8 820.23L254.7 815.15L248.9 815.15Z" fill="#1a45a0"/>
<path d="M265.8 820.23L268.7 815.15L262.9 815.15Z" fill="#1a45a0"/>
<path d="M279.8 820.23L282.7 815.15L276.9 815.15Z" fill="#1a45a0"/>
<path d="M293.8 819.93L296.7 814.86L290.9 814.86Z" fill="#1a45a0"/>
<path d="M307.8 816.56L310.7 811.48L304.9 811.48Z" fill="#1a45a0"/>
<polyline points="44.6,816.15 58.78,814.83 72.96,811.16 87.14,784.31 101.32,729.72 115.5,707.12 129.68,692 143.86,709.46 158.04,758.04 172.22,779.46 195.8,805.44 209.8,814.1 223.8,816.15 237.8,816.15 251.8,817.33 265.8,817.33 279.8,817.33 293.8,817.33 307.8,812.34" fill="none" stroke="#000000" stroke-width="1" stroke-linejoin="round"/>
<circle cx="44.6" cy="816.15" r="2.7" fill="#000000"/>
<circle cx="58.78" cy="814.83" r="2.7" fill="#000000"/>
<circle cx="72.96" cy="811.16" r="2.7" fill="#000000"/>
<circle cx="87.14" cy="784.31" r="2.7" fill="#000000"/>
<circle cx="101.32" cy="729.72" r="2.7" fill="#000000"/>
<circle cx="115.5" cy="707.12" r="2.7" fill="#000000"/>
<circle cx="129.68" cy="692" r="2.7" fill="#000000"/>
<circle cx="143.86" cy="709.46" r="2.7" fill="#000000"/>
<circle cx="158.04" cy="758.04" r="2.7" fill="#000000"/>
<circle cx="172.22" cy="779.46" r="2.7" fill="#000000"/>
<circle cx="195.8" cy="805.44" r="2.7" fill="#000000"/>
<circle cx="209.8" cy="814.1" r="2.7" fill="#000000"/>
<circle cx="223.8" cy="816.15" r="2.7" fill="#000000"/>
<circle cx="237.8" cy="816.15" r="2.7" fill="#000000"/>
<circle cx="251.8" cy="817.33" r="2.7" fill="#000000"/>
<circle cx="265.8" cy="817.33" r="2.7" fill="#000000"/>
<circle cx="279.8" cy="817.33" r="2.7" fill="#000000"/>
<circle cx="293.8" cy="817.33" r="2.7" fill="#000000"/>
<circle cx="307.8" cy="812.34" r="2.7" fill="#000000"/>
<polyline points="44.6,817.33 58.78,814.39 72.96,797.51 87.14,748.35 101.32,683.2 115.5,711.37 129.68,758.04 143.86,802.36 158.04,812.34 172.22,816.15 195.8,816.89 209.8,817.03 223.8,817.33 237.8,817.33 251.8,817.33 265.8,817.33 279.8,817.33 293.8,817.33 307.8,816.15" fill="none" stroke="#e8403f" stroke-width="1" stroke-linejoin="round"/>
<path d="M44.6 814.93L44.6 819.73M42.52 816.13L46.68 818.53M42.52 818.53L46.68 816.13" stroke="#e8403f" stroke-width="1.3" fill="none"/>
<path d="M58.78 811.99L58.78 816.79M56.7 813.19L60.86 815.59M56.7 815.59L60.86 813.19" stroke="#e8403f" stroke-width="1.3" fill="none"/>
<path d="M72.96 795.11L72.96 799.91M70.88 796.31L75.04 798.71M70.88 798.71L75.04 796.31" stroke="#e8403f" stroke-width="1.3" fill="none"/>
<path d="M87.14 745.95L87.14 750.75M85.06 747.15L89.22 749.55M85.06 749.55L89.22 747.15" stroke="#e8403f" stroke-width="1.3" fill="none"/>
<path d="M101.32 680.8L101.32 685.6M99.24 682L103.4 684.4M99.24 684.4L103.4 682" stroke="#e8403f" stroke-width="1.3" fill="none"/>
<path d="M115.5 708.97L115.5 713.77M113.42 710.17L117.58 712.57M113.42 712.57L117.58 710.17" stroke="#e8403f" stroke-width="1.3" fill="none"/>
<path d="M129.68 755.64L129.68 760.44M127.6 756.84L131.76 759.24M127.6 759.24L131.76 756.84" stroke="#e8403f" stroke-width="1.3" fill="none"/>
<path d="M143.86 799.96L143.86 804.76M141.78 801.16L145.94 803.56M141.78 803.56L145.94 801.16" stroke="#e8403f" stroke-width="1.3" fill="none"/>
<path d="M158.04 809.94L158.04 814.74M155.96 811.14L160.12 813.54M155.96 813.54L160.12 811.14" stroke="#e8403f" stroke-width="1.3" fill="none"/>
<path d="M172.22 813.75L172.22 818.55M170.14 814.95L174.3 817.35M170.14 817.35L174.3 814.95" stroke="#e8403f" stroke-width="1.3" fill="none"/>
<path d="M195.8 814.49L195.8 819.29M193.72 815.69L197.88 818.09M193.72 818.09L197.88 815.69" stroke="#e8403f" stroke-width="1.3" fill="none"/>
<path d="M209.8 814.63L209.8 819.43M207.72 815.83L211.88 818.23M207.72 818.23L211.88 815.83" stroke="#e8403f" stroke-width="1.3" fill="none"/>
<path d="M223.8 814.93L223.8 819.73M221.72 816.13L225.88 818.53M221.72 818.53L225.88 816.13" stroke="#e8403f" stroke-width="1.3" fill="none"/>
<path d="M237.8 814.93L237.8 819.73M235.72 816.13L239.88 818.53M235.72 818.53L239.88 816.13" stroke="#e8403f" stroke-width="1.3" fill="none"/>
<path d="M251.8 814.93L251.8 819.73M249.72 816.13L253.88 818.53M249.72 818.53L253.88 816.13" stroke="#e8403f" stroke-width="1.3" fill="none"/>
<path d="M265.8 814.93L265.8 819.73M263.72 816.13L267.88 818.53M263.72 818.53L267.88 816.13" stroke="#e8403f" stroke-width="1.3" fill="none"/>
<path d="M279.8 814.93L279.8 819.73M277.72 816.13L281.88 818.53M277.72 818.53L281.88 816.13" stroke="#e8403f" stroke-width="1.3" fill="none"/>
<path d="M293.8 814.93L293.8 819.73M291.72 816.13L295.88 818.53M291.72 818.53L295.88 816.13" stroke="#e8403f" stroke-width="1.3" fill="none"/>
<path d="M307.8 813.75L307.8 818.55M305.72 814.95L309.88 817.35M305.72 817.35L309.88 814.95" stroke="#e8403f" stroke-width="1.3" fill="none"/>
<line x1="101.32" y1="672.92" x2="101.32" y2="693.47" stroke="#e8403f" stroke-width="0.8"/>
<line x1="99.12" y1="672.92" x2="103.52" y2="672.92" stroke="#e8403f" stroke-width="0.8"/>
<line x1="99.12" y1="693.47" x2="103.52" y2="693.47" stroke="#e8403f" stroke-width="0.8"/>
<line x1="101.32" y1="684.37" x2="101.32" y2="701.98" stroke="#6ec4d4" stroke-width="0.8"/>
<line x1="99.12" y1="684.37" x2="103.52" y2="684.37" stroke="#6ec4d4" stroke-width="0.8"/>
<line x1="99.12" y1="701.98" x2="103.52" y2="701.98" stroke="#6ec4d4" stroke-width="0.8"/>
<line x1="115.5" y1="669.7" x2="115.5" y2="684.37" stroke="#1a45a0" stroke-width="0.8"/>
<line x1="113.3" y1="669.7" x2="117.7" y2="669.7" stroke="#1a45a0" stroke-width="0.8"/>
<line x1="113.3" y1="684.37" x2="117.7" y2="684.37" stroke="#1a45a0" stroke-width="0.8"/>
<line x1="115.5" y1="702.57" x2="115.5" y2="720.18" stroke="#e8403f" stroke-width="0.8"/>
<line x1="113.3" y1="702.57" x2="117.7" y2="702.57" stroke="#e8403f" stroke-width="0.8"/>
<line x1="113.3" y1="720.18" x2="117.7" y2="720.18" stroke="#e8403f" stroke-width="0.8"/>
<line x1="101.32" y1="711.96" x2="101.32" y2="738.37" stroke="#66b431" stroke-width="0.8"/>
<line x1="99.12" y1="711.96" x2="103.52" y2="711.96" stroke="#66b431" stroke-width="0.8"/>
<line x1="99.12" y1="738.37" x2="103.52" y2="738.37" stroke="#66b431" stroke-width="0.8"/>
<line x1="115.5" y1="723.7" x2="115.5" y2="753.05" stroke="#66b431" stroke-width="0.8"/>
<line x1="113.3" y1="723.7" x2="117.7" y2="723.7" stroke="#66b431" stroke-width="0.8"/>
<line x1="113.3" y1="753.05" x2="117.7" y2="753.05" stroke="#66b431" stroke-width="0.8"/>
<line x1="129.68" y1="707.41" x2="129.68" y2="727.96" stroke="#6ec4d4" stroke-width="0.8"/>
<line x1="127.48" y1="707.41" x2="131.88" y2="707.41" stroke="#6ec4d4" stroke-width="0.8"/>
<line x1="127.48" y1="727.96" x2="131.88" y2="727.96" stroke="#6ec4d4" stroke-width="0.8"/>
<line x1="115.5" y1="701.25" x2="115.5" y2="712.99" stroke="#000000" stroke-width="0.8"/>
<line x1="113.3" y1="701.25" x2="117.7" y2="701.25" stroke="#000000" stroke-width="0.8"/>
<line x1="113.3" y1="712.99" x2="117.7" y2="712.99" stroke="#000000" stroke-width="0.8"/>
<line x1="101.32" y1="720.91" x2="101.32" y2="738.52" stroke="#000000" stroke-width="0.8"/>
<line x1="99.12" y1="720.91" x2="103.52" y2="720.91" stroke="#000000" stroke-width="0.8"/>
<line x1="99.12" y1="738.52" x2="103.52" y2="738.52" stroke="#000000" stroke-width="0.8"/>
<line x1="87.14" y1="742.48" x2="87.14" y2="754.22" stroke="#e8403f" stroke-width="0.8"/>
<line x1="84.94" y1="742.48" x2="89.34" y2="742.48" stroke="#e8403f" stroke-width="0.8"/>
<line x1="84.94" y1="754.22" x2="89.34" y2="754.22" stroke="#e8403f" stroke-width="0.8"/>
<line x1="143.86" y1="749.82" x2="143.86" y2="764.5" stroke="#6ec4d4" stroke-width="0.8"/>
<line x1="141.66" y1="749.82" x2="146.06" y2="749.82" stroke="#6ec4d4" stroke-width="0.8"/>
<line x1="141.66" y1="764.5" x2="146.06" y2="764.5" stroke="#6ec4d4" stroke-width="0.8"/>
<line x1="158.04" y1="753.64" x2="158.04" y2="762.44" stroke="#000000" stroke-width="0.8"/>
<line x1="155.84" y1="753.64" x2="160.24" y2="753.64" stroke="#000000" stroke-width="0.8"/>
<line x1="155.84" y1="762.44" x2="160.24" y2="762.44" stroke="#000000" stroke-width="0.8"/>
<line x1="158.04" y1="775.06" x2="158.04" y2="783.87" stroke="#6ec4d4" stroke-width="0.8"/>
<line x1="155.84" y1="775.06" x2="160.24" y2="775.06" stroke="#6ec4d4" stroke-width="0.8"/>
<line x1="155.84" y1="783.87" x2="160.24" y2="783.87" stroke="#6ec4d4" stroke-width="0.8"/>
<line x1="129.68" y1="769.19" x2="129.68" y2="780.93" stroke="#66b431" stroke-width="0.8"/>
<line x1="127.48" y1="769.19" x2="131.88" y2="769.19" stroke="#66b431" stroke-width="0.8"/>
<line x1="127.48" y1="780.93" x2="131.88" y2="780.93" stroke="#66b431" stroke-width="0.8"/>
<line x1="172.22" y1="790.03" x2="172.22" y2="798.84" stroke="#6ec4d4" stroke-width="0.8"/>
<line x1="170.02" y1="790.03" x2="174.42" y2="790.03" stroke="#6ec4d4" stroke-width="0.8"/>
<line x1="170.02" y1="798.84" x2="174.42" y2="798.84" stroke="#6ec4d4" stroke-width="0.8"/>
<line x1="172.22" y1="793.55" x2="172.22" y2="802.36" stroke="#1a45a0" stroke-width="0.8"/>
<line x1="170.02" y1="793.55" x2="174.42" y2="793.55" stroke="#1a45a0" stroke-width="0.8"/>
<line x1="170.02" y1="802.36" x2="174.42" y2="802.36" stroke="#1a45a0" stroke-width="0.8"/>
<line x1="87.14" y1="775.5" x2="87.14" y2="793.11" stroke="#000000" stroke-width="0.8"/>
<line x1="84.94" y1="775.5" x2="89.34" y2="775.5" stroke="#000000" stroke-width="0.8"/>
<line x1="84.94" y1="793.11" x2="89.34" y2="793.11" stroke="#000000" stroke-width="0.8"/>
<line x1="143.86" y1="706.53" x2="143.86" y2="712.4" stroke="#000000" stroke-width="0.8"/>
<line x1="141.66" y1="706.53" x2="146.06" y2="706.53" stroke="#000000" stroke-width="0.8"/>
<line x1="141.66" y1="712.4" x2="146.06" y2="712.4" stroke="#000000" stroke-width="0.8"/>
<line x1="129.68" y1="753.64" x2="129.68" y2="762.44" stroke="#e8403f" stroke-width="0.8"/>
<line x1="127.48" y1="753.64" x2="131.88" y2="753.64" stroke="#e8403f" stroke-width="0.8"/>
<line x1="127.48" y1="762.44" x2="131.88" y2="762.44" stroke="#e8403f" stroke-width="0.8"/>
<line x1="158.04" y1="807.93" x2="158.04" y2="816.74" stroke="#e8403f" stroke-width="0.8"/>
<line x1="155.84" y1="807.93" x2="160.24" y2="807.93" stroke="#e8403f" stroke-width="0.8"/>
<line x1="155.84" y1="816.74" x2="160.24" y2="816.74" stroke="#e8403f" stroke-width="0.8"/>
<line x1="195.8" y1="802.5" x2="195.8" y2="808.37" stroke="#000000" stroke-width="0.8"/>
<line x1="193.6" y1="802.5" x2="198" y2="802.5" stroke="#000000" stroke-width="0.8"/>
<line x1="193.6" y1="808.37" x2="198" y2="808.37" stroke="#000000" stroke-width="0.8"/>
<line x1="244.3" y1="670" x2="250.7" y2="670" stroke="#e8403f" stroke-width="1"/>
<path d="M247.5 668.2L247.5 671.8M245.94 669.1L249.06 670.9M245.94 670.9L249.06 669.1" stroke="#e8403f" stroke-width="1.3" fill="none"/>
<text x="0" y="0" font-size="9" text-anchor="start" font-weight="normal" fill="#1a1a1a" transform="translate(253.75,673.1) scale(1.06,1)" stroke="#1a1a1a" stroke-width="0.22">ABE8eWQ</text>
<line x1="244.3" y1="680.4" x2="250.7" y2="680.4" stroke="#000000" stroke-width="1"/>
<circle cx="247.5" cy="680.4" r="2.03" fill="#000000"/>
<text x="0" y="0" font-size="9" text-anchor="start" font-weight="normal" fill="#1a1a1a" transform="translate(253.75,683.5) scale(1.06,1)" stroke="#1a1a1a" stroke-width="0.22">231gp41</text>
<line x1="244.3" y1="690.8" x2="250.7" y2="690.8" stroke="#6ec4d4" stroke-width="1"/>
<rect x="245.62" y="688.92" width="3.75" height="3.75" fill="#6ec4d4" stroke="none" stroke-width="0.6"/>
<text x="0" y="0" font-size="9" text-anchor="start" font-weight="normal" fill="#1a1a1a" transform="translate(253.75,693.9) scale(1.06,1)" stroke="#1a1a1a" stroke-width="0.22">532gp41</text>
<line x1="244.3" y1="701.2" x2="250.7" y2="701.2" stroke="#66b431" stroke-width="1"/>
<path d="M247.5 699.03L249.68 702.83L245.32 702.83Z" fill="#66b431"/>
<text x="0" y="0" font-size="9" text-anchor="start" font-weight="normal" fill="#1a1a1a" transform="translate(253.75,704.3) scale(1.06,1)" stroke="#1a1a1a" stroke-width="0.22">945gp41</text>
<line x1="244.3" y1="711.6" x2="250.7" y2="711.6" stroke="#1a45a0" stroke-width="1"/>
<path d="M247.5 713.77L249.68 709.97L245.32 709.97Z" fill="#1a45a0"/>
<text x="0" y="0" font-size="9" text-anchor="start" font-weight="normal" fill="#1a1a1a" transform="translate(253.75,714.7) scale(1.06,1)" stroke="#1a1a1a" stroke-width="0.22">1055gp41</text>
<text x="319.8" y="655.5" font-size="16" text-anchor="start" font-weight="bold" fill="#000">G</text>
<text x="507.7" y="659.3" font-size="9.6" text-anchor="middle" font-weight="normal" fill="#1a1a1a" stroke="#1a1a1a" stroke-width="0.22">A-to-G</text>
<text x="0" y="0" font-size="9.4" text-anchor="middle" font-weight="normal" fill="#1a1a1a" transform="translate(347.2,740.3) rotate(-90)" stroke="#1a1a1a" stroke-width="0.22">motif proportion (%)</text>
<line x1="371.3" y1="811.95" x2="371.3" y2="654.85" stroke="#000000" stroke-width="1"/>
<line x1="365.3" y1="811.45" x2="371.3" y2="811.45" stroke="#000000" stroke-width="1"/>
<text x="365.1" y="814.35" font-size="9.3" text-anchor="end" font-weight="normal" fill="#1a1a1a" stroke="#1a1a1a" stroke-width="0.22">0</text>
<line x1="365.3" y1="773.25" x2="371.3" y2="773.25" stroke="#000000" stroke-width="1"/>
<text x="365.1" y="776.15" font-size="9.3" text-anchor="end" font-weight="normal" fill="#1a1a1a" stroke="#1a1a1a" stroke-width="0.22">5</text>
<line x1="365.3" y1="735.05" x2="371.3" y2="735.05" stroke="#000000" stroke-width="1"/>
<text x="365.1" y="737.95" font-size="9.3" text-anchor="end" font-weight="normal" fill="#1a1a1a" stroke="#1a1a1a" stroke-width="0.22">10</text>
<line x1="365.3" y1="696.85" x2="371.3" y2="696.85" stroke="#000000" stroke-width="1"/>
<text x="365.1" y="699.75" font-size="9.3" text-anchor="end" font-weight="normal" fill="#1a1a1a" stroke="#1a1a1a" stroke-width="0.22">15</text>
<line x1="365.3" y1="658.65" x2="371.3" y2="658.65" stroke="#000000" stroke-width="1"/>
<text x="365.1" y="661.55" font-size="9.3" text-anchor="end" font-weight="normal" fill="#1a1a1a" stroke="#1a1a1a" stroke-width="0.22">20</text>
<rect x="371.95" y="788.53" width="2.99" height="22.92" fill="#e8403f" stroke="none" stroke-width="0.6"/>
<rect x="374.89" y="789.29" width="2.99" height="22.16" fill="#000000" stroke="none" stroke-width="0.6"/>
<rect x="377.83" y="789.29" width="2.99" height="22.16" fill="#6ec4d4" stroke="none" stroke-width="0.6"/>
<rect x="380.77" y="793.5" width="2.99" height="17.95" fill="#66b431" stroke="none" stroke-width="0.6"/>
<rect x="383.71" y="791.59" width="2.99" height="19.86" fill="#1a45a0" stroke="none" stroke-width="0.6"/>
<rect x="391.26" y="759.5" width="2.99" height="51.95" fill="#e8403f" stroke="none" stroke-width="0.6"/>
<rect x="394.2" y="754.91" width="2.99" height="56.54" fill="#000000" stroke="none" stroke-width="0.6"/>
<rect x="397.14" y="756.44" width="2.99" height="55.01" fill="#6ec4d4" stroke="none" stroke-width="0.6"/>
<rect x="400.08" y="757.97" width="2.99" height="53.48" fill="#66b431" stroke="none" stroke-width="0.6"/>
<rect x="403.02" y="745.98" width="2.99" height="65.47" fill="#1a45a0" stroke="none" stroke-width="0.6"/>
<rect x="410.57" y="768.67" width="2.99" height="42.78" fill="#e8403f" stroke="none" stroke-width="0.6"/>
<rect x="413.51" y="766.37" width="2.99" height="45.08" fill="#000000" stroke="none" stroke-width="0.6"/>
<rect x="416.45" y="769.74" width="2.99" height="41.71" fill="#6ec4d4" stroke="none" stroke-width="0.6"/>
<rect x="419.39" y="766.37" width="2.99" height="45.08" fill="#66b431" stroke="none" stroke-width="0.6"/>
<rect x="422.33" y="763.55" width="2.99" height="47.9" fill="#1a45a0" stroke="none" stroke-width="0.6"/>
<rect x="429.88" y="764.46" width="2.99" height="46.99" fill="#e8403f" stroke="none" stroke-width="0.6"/>
<rect x="432.82" y="767.14" width="2.99" height="44.31" fill="#000000" stroke="none" stroke-width="0.6"/>
<rect x="435.76" y="772.49" width="2.99" height="38.96" fill="#6ec4d4" stroke="none" stroke-width="0.6"/>
<rect x="438.7" y="764.46" width="2.99" height="46.99" fill="#66b431" stroke="none" stroke-width="0.6"/>
<rect x="441.64" y="767.9" width="2.99" height="43.55" fill="#1a45a0" stroke="none" stroke-width="0.6"/>
<rect x="449.19" y="787.31" width="2.99" height="24.14" fill="#e8403f" stroke="none" stroke-width="0.6"/>
<rect x="452.13" y="793.5" width="2.99" height="17.95" fill="#000000" stroke="none" stroke-width="0.6"/>
<rect x="455.07" y="790.06" width="2.99" height="21.39" fill="#6ec4d4" stroke="none" stroke-width="0.6"/>
<rect x="458.01" y="791.74" width="2.99" height="19.71" fill="#66b431" stroke="none" stroke-width="0.6"/>
<rect x="460.95" y="792.12" width="2.99" height="19.33" fill="#1a45a0" stroke="none" stroke-width="0.6"/>
<rect x="468.5" y="753.92" width="2.99" height="57.53" fill="#e8403f" stroke="none" stroke-width="0.6"/>
<rect x="471.44" y="752.16" width="2.99" height="59.29" fill="#000000" stroke="none" stroke-width="0.6"/>
<rect x="474.38" y="756.52" width="2.99" height="54.93" fill="#6ec4d4" stroke="none" stroke-width="0.6"/>
<rect x="477.32" y="759.19" width="2.99" height="52.26" fill="#66b431" stroke="none" stroke-width="0.6"/>
<rect x="480.26" y="756.52" width="2.99" height="54.93" fill="#1a45a0" stroke="none" stroke-width="0.6"/>
<rect x="487.81" y="767.98" width="2.99" height="43.47" fill="#e8403f" stroke="none" stroke-width="0.6"/>
<rect x="490.75" y="773.25" width="2.99" height="38.2" fill="#000000" stroke="none" stroke-width="0.6"/>
<rect x="493.69" y="771.49" width="2.99" height="39.96" fill="#6ec4d4" stroke="none" stroke-width="0.6"/>
<rect x="496.63" y="771.49" width="2.99" height="39.96" fill="#66b431" stroke="none" stroke-width="0.6"/>
<rect x="499.57" y="772.41" width="2.99" height="39.04" fill="#1a45a0" stroke="none" stroke-width="0.6"/>
<rect x="507.12" y="769.74" width="2.99" height="41.71" fill="#e8403f" stroke="none" stroke-width="0.6"/>
<rect x="510.06" y="778.52" width="2.99" height="32.93" fill="#000000" stroke="none" stroke-width="0.6"/>
<rect x="513" y="768.82" width="2.99" height="42.63" fill="#6ec4d4" stroke="none" stroke-width="0.6"/>
<rect x="515.94" y="771.49" width="2.99" height="39.96" fill="#66b431" stroke="none" stroke-width="0.6"/>
<rect x="518.88" y="777.68" width="2.99" height="33.77" fill="#1a45a0" stroke="none" stroke-width="0.6"/>
<rect x="526.43" y="774.17" width="2.99" height="37.28" fill="#e8403f" stroke="none" stroke-width="0.6"/>
<rect x="529.37" y="781.5" width="2.99" height="29.95" fill="#000000" stroke="none" stroke-width="0.6"/>
<rect x="532.31" y="776.76" width="2.99" height="34.69" fill="#6ec4d4" stroke="none" stroke-width="0.6"/>
<rect x="535.25" y="779.44" width="2.99" height="32.01" fill="#66b431" stroke="none" stroke-width="0.6"/>
<rect x="538.19" y="782.04" width="2.99" height="29.41" fill="#1a45a0" stroke="none" stroke-width="0.6"/>
<rect x="545.74" y="745.06" width="2.99" height="66.39" fill="#e8403f" stroke="none" stroke-width="0.6"/>
<rect x="548.68" y="745.06" width="2.99" height="66.39" fill="#000000" stroke="none" stroke-width="0.6"/>
<rect x="551.62" y="739.79" width="2.99" height="71.66" fill="#6ec4d4" stroke="none" stroke-width="0.6"/>
<rect x="554.56" y="715.95" width="2.99" height="95.5" fill="#66b431" stroke="none" stroke-width="0.6"/>
<rect x="557.5" y="730.47" width="2.99" height="80.98" fill="#1a45a0" stroke="none" stroke-width="0.6"/>
<rect x="565.05" y="753" width="2.99" height="58.45" fill="#e8403f" stroke="none" stroke-width="0.6"/>
<rect x="567.99" y="752.16" width="2.99" height="59.29" fill="#000000" stroke="none" stroke-width="0.6"/>
<rect x="570.93" y="757.44" width="2.99" height="54.01" fill="#6ec4d4" stroke="none" stroke-width="0.6"/>
<rect x="573.87" y="760.95" width="2.99" height="50.5" fill="#66b431" stroke="none" stroke-width="0.6"/>
<rect x="576.81" y="754.76" width="2.99" height="56.69" fill="#1a45a0" stroke="none" stroke-width="0.6"/>
<rect x="584.36" y="754.76" width="2.99" height="56.69" fill="#e8403f" stroke="none" stroke-width="0.6"/>
<rect x="587.3" y="750.33" width="2.99" height="61.12" fill="#000000" stroke="none" stroke-width="0.6"/>
<rect x="590.24" y="753.92" width="2.99" height="57.53" fill="#6ec4d4" stroke="none" stroke-width="0.6"/>
<rect x="593.18" y="752.16" width="2.99" height="59.29" fill="#66b431" stroke="none" stroke-width="0.6"/>
<rect x="596.12" y="758.28" width="2.99" height="53.17" fill="#1a45a0" stroke="none" stroke-width="0.6"/>
<rect x="603.67" y="778.52" width="2.99" height="32.93" fill="#e8403f" stroke="none" stroke-width="0.6"/>
<rect x="606.61" y="784.71" width="2.99" height="26.74" fill="#000000" stroke="none" stroke-width="0.6"/>
<rect x="609.55" y="777.68" width="2.99" height="33.77" fill="#6ec4d4" stroke="none" stroke-width="0.6"/>
<rect x="612.49" y="785.55" width="2.99" height="25.9" fill="#66b431" stroke="none" stroke-width="0.6"/>
<rect x="615.43" y="781.2" width="2.99" height="30.25" fill="#1a45a0" stroke="none" stroke-width="0.6"/>
<rect x="622.98" y="753.92" width="2.99" height="57.53" fill="#e8403f" stroke="none" stroke-width="0.6"/>
<rect x="625.92" y="741.54" width="2.99" height="69.91" fill="#000000" stroke="none" stroke-width="0.6"/>
<rect x="628.86" y="742.46" width="2.99" height="68.99" fill="#6ec4d4" stroke="none" stroke-width="0.6"/>
<rect x="631.8" y="749.49" width="2.99" height="61.96" fill="#66b431" stroke="none" stroke-width="0.6"/>
<rect x="634.74" y="734.52" width="2.99" height="76.93" fill="#1a45a0" stroke="none" stroke-width="0.6"/>
<rect x="642.29" y="754.76" width="2.99" height="56.69" fill="#e8403f" stroke="none" stroke-width="0.6"/>
<rect x="645.23" y="745.06" width="2.99" height="66.39" fill="#000000" stroke="none" stroke-width="0.6"/>
<rect x="648.17" y="752.16" width="2.99" height="59.29" fill="#6ec4d4" stroke="none" stroke-width="0.6"/>
<rect x="651.11" y="747.73" width="2.99" height="63.72" fill="#66b431" stroke="none" stroke-width="0.6"/>
<rect x="654.05" y="755.68" width="2.99" height="55.77" fill="#1a45a0" stroke="none" stroke-width="0.6"/>
<rect x="661.6" y="751.25" width="2.99" height="60.2" fill="#e8403f" stroke="none" stroke-width="0.6"/>
<rect x="664.54" y="744.22" width="2.99" height="67.23" fill="#000000" stroke="none" stroke-width="0.6"/>
<rect x="667.48" y="754.76" width="2.99" height="56.69" fill="#6ec4d4" stroke="none" stroke-width="0.6"/>
<rect x="670.42" y="754.76" width="2.99" height="56.69" fill="#66b431" stroke="none" stroke-width="0.6"/>
<rect x="673.36" y="755.68" width="2.99" height="55.77" fill="#1a45a0" stroke="none" stroke-width="0.6"/>
<line x1="373.42" y1="784.71" x2="373.42" y2="792.35" stroke="#222" stroke-width="0.6"/>
<circle cx="373.42" cy="784.71" r="0.9" fill="#000"/>
<circle cx="373.42" cy="792.35" r="0.9" fill="#111"/>
<line x1="376.36" y1="787" x2="376.36" y2="791.59" stroke="#222" stroke-width="0.6"/>
<circle cx="376.36" cy="787" r="0.9" fill="#000"/>
<circle cx="376.36" cy="791.59" r="0.9" fill="#111"/>
<line x1="379.3" y1="787" x2="379.3" y2="791.59" stroke="#222" stroke-width="0.6"/>
<circle cx="379.3" cy="787" r="0.9" fill="#000"/>
<circle cx="379.3" cy="791.59" r="0.9" fill="#111"/>
<line x1="382.24" y1="790.44" x2="382.24" y2="796.55" stroke="#222" stroke-width="0.6"/>
<circle cx="382.24" cy="790.44" r="0.9" fill="#000"/>
<circle cx="382.24" cy="796.55" r="0.9" fill="#111"/>
<line x1="385.18" y1="786.24" x2="385.18" y2="796.93" stroke="#222" stroke-width="0.6"/>
<circle cx="385.18" cy="786.24" r="0.9" fill="#000"/>
<circle cx="385.18" cy="796.93" r="0.9" fill="#111"/>
<line x1="392.73" y1="757.21" x2="392.73" y2="761.79" stroke="#222" stroke-width="0.6"/>
<circle cx="392.73" cy="757.21" r="0.9" fill="#000"/>
<circle cx="392.73" cy="761.79" r="0.9" fill="#111"/>
<line x1="395.67" y1="751.09" x2="395.67" y2="758.73" stroke="#222" stroke-width="0.6"/>
<circle cx="395.67" cy="751.09" r="0.9" fill="#000"/>
<circle cx="395.67" cy="758.73" r="0.9" fill="#111"/>
<line x1="398.61" y1="755.68" x2="398.61" y2="757.21" stroke="#222" stroke-width="0.6"/>
<circle cx="398.61" cy="755.68" r="0.9" fill="#000"/>
<circle cx="398.61" cy="757.21" r="0.9" fill="#111"/>
<line x1="401.55" y1="751.09" x2="401.55" y2="764.85" stroke="#222" stroke-width="0.6"/>
<circle cx="401.55" cy="751.09" r="0.9" fill="#000"/>
<circle cx="401.55" cy="764.85" r="0.9" fill="#111"/>
<line x1="404.49" y1="743.68" x2="404.49" y2="748.27" stroke="#222" stroke-width="0.6"/>
<circle cx="404.49" cy="743.68" r="0.9" fill="#000"/>
<circle cx="404.49" cy="748.27" r="0.9" fill="#111"/>
<line x1="412.04" y1="766.37" x2="412.04" y2="770.96" stroke="#222" stroke-width="0.6"/>
<circle cx="412.04" cy="766.37" r="0.9" fill="#000"/>
<circle cx="412.04" cy="770.96" r="0.9" fill="#111"/>
<line x1="414.98" y1="762.55" x2="414.98" y2="770.19" stroke="#222" stroke-width="0.6"/>
<circle cx="414.98" cy="762.55" r="0.9" fill="#000"/>
<circle cx="414.98" cy="770.19" r="0.9" fill="#111"/>
<line x1="417.92" y1="768.21" x2="417.92" y2="771.26" stroke="#222" stroke-width="0.6"/>
<circle cx="417.92" cy="768.21" r="0.9" fill="#000"/>
<circle cx="417.92" cy="771.26" r="0.9" fill="#111"/>
<line x1="420.86" y1="762.55" x2="420.86" y2="770.19" stroke="#222" stroke-width="0.6"/>
<circle cx="420.86" cy="762.55" r="0.9" fill="#000"/>
<circle cx="420.86" cy="770.19" r="0.9" fill="#111"/>
<line x1="423.8" y1="762.02" x2="423.8" y2="765.08" stroke="#222" stroke-width="0.6"/>
<circle cx="423.8" cy="762.02" r="0.9" fill="#000"/>
<circle cx="423.8" cy="765.08" r="0.9" fill="#111"/>
<line x1="431.35" y1="758.35" x2="431.35" y2="770.58" stroke="#222" stroke-width="0.6"/>
<circle cx="431.35" cy="758.35" r="0.9" fill="#000"/>
<circle cx="431.35" cy="770.58" r="0.9" fill="#111"/>
<line x1="434.29" y1="762.55" x2="434.29" y2="771.72" stroke="#222" stroke-width="0.6"/>
<circle cx="434.29" cy="762.55" r="0.9" fill="#000"/>
<circle cx="434.29" cy="771.72" r="0.9" fill="#111"/>
<line x1="437.23" y1="770.19" x2="437.23" y2="774.78" stroke="#222" stroke-width="0.6"/>
<circle cx="437.23" cy="770.19" r="0.9" fill="#000"/>
<circle cx="437.23" cy="774.78" r="0.9" fill="#111"/>
<line x1="440.17" y1="761.41" x2="440.17" y2="767.52" stroke="#222" stroke-width="0.6"/>
<circle cx="440.17" cy="761.41" r="0.9" fill="#000"/>
<circle cx="440.17" cy="767.52" r="0.9" fill="#111"/>
<line x1="443.11" y1="765.61" x2="443.11" y2="770.19" stroke="#222" stroke-width="0.6"/>
<circle cx="443.11" cy="765.61" r="0.9" fill="#000"/>
<circle cx="443.11" cy="770.19" r="0.9" fill="#111"/>
<line x1="450.66" y1="785.78" x2="450.66" y2="788.84" stroke="#222" stroke-width="0.6"/>
<circle cx="450.66" cy="785.78" r="0.9" fill="#000"/>
<circle cx="450.66" cy="788.84" r="0.9" fill="#111"/>
<line x1="453.6" y1="791.97" x2="453.6" y2="795.02" stroke="#222" stroke-width="0.6"/>
<circle cx="453.6" cy="791.97" r="0.9" fill="#000"/>
<circle cx="453.6" cy="795.02" r="0.9" fill="#111"/>
<line x1="456.54" y1="785.47" x2="456.54" y2="794.64" stroke="#222" stroke-width="0.6"/>
<circle cx="456.54" cy="785.47" r="0.9" fill="#000"/>
<circle cx="456.54" cy="794.64" r="0.9" fill="#111"/>
<line x1="459.48" y1="789.45" x2="459.48" y2="794.03" stroke="#222" stroke-width="0.6"/>
<circle cx="459.48" cy="789.45" r="0.9" fill="#000"/>
<circle cx="459.48" cy="794.03" r="0.9" fill="#111"/>
<line x1="462.42" y1="791.36" x2="462.42" y2="792.88" stroke="#222" stroke-width="0.6"/>
<circle cx="462.42" cy="791.36" r="0.9" fill="#000"/>
<circle cx="462.42" cy="792.88" r="0.9" fill="#111"/>
<line x1="469.97" y1="751.63" x2="469.97" y2="756.21" stroke="#222" stroke-width="0.6"/>
<circle cx="469.97" cy="751.63" r="0.9" fill="#000"/>
<circle cx="469.97" cy="756.21" r="0.9" fill="#111"/>
<line x1="472.91" y1="749.87" x2="472.91" y2="754.46" stroke="#222" stroke-width="0.6"/>
<circle cx="472.91" cy="749.87" r="0.9" fill="#000"/>
<circle cx="472.91" cy="754.46" r="0.9" fill="#111"/>
<line x1="475.85" y1="754.23" x2="475.85" y2="758.81" stroke="#222" stroke-width="0.6"/>
<circle cx="475.85" cy="754.23" r="0.9" fill="#000"/>
<circle cx="475.85" cy="758.81" r="0.9" fill="#111"/>
<line x1="478.79" y1="755.37" x2="478.79" y2="763.01" stroke="#222" stroke-width="0.6"/>
<circle cx="478.79" cy="755.37" r="0.9" fill="#000"/>
<circle cx="478.79" cy="763.01" r="0.9" fill="#111"/>
<line x1="481.73" y1="754.23" x2="481.73" y2="758.81" stroke="#222" stroke-width="0.6"/>
<circle cx="481.73" cy="754.23" r="0.9" fill="#000"/>
<circle cx="481.73" cy="758.81" r="0.9" fill="#111"/>
<line x1="489.28" y1="764.16" x2="489.28" y2="771.8" stroke="#222" stroke-width="0.6"/>
<circle cx="489.28" cy="764.16" r="0.9" fill="#000"/>
<circle cx="489.28" cy="771.8" r="0.9" fill="#111"/>
<line x1="492.22" y1="772.49" x2="492.22" y2="774.01" stroke="#222" stroke-width="0.6"/>
<circle cx="492.22" cy="772.49" r="0.9" fill="#000"/>
<circle cx="492.22" cy="774.01" r="0.9" fill="#111"/>
<line x1="495.16" y1="768.44" x2="495.16" y2="774.55" stroke="#222" stroke-width="0.6"/>
<circle cx="495.16" cy="768.44" r="0.9" fill="#000"/>
<circle cx="495.16" cy="774.55" r="0.9" fill="#111"/>
<line x1="498.1" y1="768.44" x2="498.1" y2="774.55" stroke="#222" stroke-width="0.6"/>
<circle cx="498.1" cy="768.44" r="0.9" fill="#000"/>
<circle cx="498.1" cy="774.55" r="0.9" fill="#111"/>
<line x1="501.04" y1="770.12" x2="501.04" y2="774.7" stroke="#222" stroke-width="0.6"/>
<circle cx="501.04" cy="770.12" r="0.9" fill="#000"/>
<circle cx="501.04" cy="774.7" r="0.9" fill="#111"/>
<line x1="508.59" y1="766.68" x2="508.59" y2="772.79" stroke="#222" stroke-width="0.6"/>
<circle cx="508.59" cy="766.68" r="0.9" fill="#000"/>
<circle cx="508.59" cy="772.79" r="0.9" fill="#111"/>
<line x1="511.53" y1="772.41" x2="511.53" y2="784.63" stroke="#222" stroke-width="0.6"/>
<circle cx="511.53" cy="772.41" r="0.9" fill="#000"/>
<circle cx="511.53" cy="784.63" r="0.9" fill="#111"/>
<line x1="514.47" y1="763.47" x2="514.47" y2="774.17" stroke="#222" stroke-width="0.6"/>
<circle cx="514.47" cy="763.47" r="0.9" fill="#000"/>
<circle cx="514.47" cy="774.17" r="0.9" fill="#111"/>
<line x1="517.41" y1="769.96" x2="517.41" y2="773.02" stroke="#222" stroke-width="0.6"/>
<circle cx="517.41" cy="769.96" r="0.9" fill="#000"/>
<circle cx="517.41" cy="773.02" r="0.9" fill="#111"/>
<line x1="520.35" y1="775.39" x2="520.35" y2="779.97" stroke="#222" stroke-width="0.6"/>
<circle cx="520.35" cy="775.39" r="0.9" fill="#000"/>
<circle cx="520.35" cy="779.97" r="0.9" fill="#111"/>
<line x1="527.9" y1="771.87" x2="527.9" y2="776.46" stroke="#222" stroke-width="0.6"/>
<circle cx="527.9" cy="771.87" r="0.9" fill="#000"/>
<circle cx="527.9" cy="776.46" r="0.9" fill="#111"/>
<line x1="530.84" y1="780.74" x2="530.84" y2="782.27" stroke="#222" stroke-width="0.6"/>
<circle cx="530.84" cy="780.74" r="0.9" fill="#000"/>
<circle cx="530.84" cy="782.27" r="0.9" fill="#111"/>
<line x1="533.78" y1="773.71" x2="533.78" y2="779.82" stroke="#222" stroke-width="0.6"/>
<circle cx="533.78" cy="773.71" r="0.9" fill="#000"/>
<circle cx="533.78" cy="779.82" r="0.9" fill="#111"/>
<line x1="536.72" y1="771.8" x2="536.72" y2="787.08" stroke="#222" stroke-width="0.6"/>
<circle cx="536.72" cy="771.8" r="0.9" fill="#000"/>
<circle cx="536.72" cy="787.08" r="0.9" fill="#111"/>
<line x1="539.66" y1="779.74" x2="539.66" y2="784.33" stroke="#222" stroke-width="0.6"/>
<circle cx="539.66" cy="779.74" r="0.9" fill="#000"/>
<circle cx="539.66" cy="784.33" r="0.9" fill="#111"/>
<line x1="547.21" y1="738.95" x2="547.21" y2="751.17" stroke="#222" stroke-width="0.6"/>
<circle cx="547.21" cy="738.95" r="0.9" fill="#000"/>
<circle cx="547.21" cy="751.17" r="0.9" fill="#111"/>
<line x1="550.15" y1="742.77" x2="550.15" y2="747.35" stroke="#222" stroke-width="0.6"/>
<circle cx="550.15" cy="742.77" r="0.9" fill="#000"/>
<circle cx="550.15" cy="747.35" r="0.9" fill="#111"/>
<line x1="553.09" y1="738.26" x2="553.09" y2="741.31" stroke="#222" stroke-width="0.6"/>
<circle cx="553.09" cy="738.26" r="0.9" fill="#000"/>
<circle cx="553.09" cy="741.31" r="0.9" fill="#111"/>
<line x1="556.03" y1="692.27" x2="556.03" y2="739.63" stroke="#222" stroke-width="0.6"/>
<circle cx="556.03" cy="692.27" r="0.9" fill="#000"/>
<circle cx="556.03" cy="739.63" r="0.9" fill="#111"/>
<line x1="558.97" y1="725.88" x2="558.97" y2="735.05" stroke="#222" stroke-width="0.6"/>
<circle cx="558.97" cy="725.88" r="0.9" fill="#000"/>
<circle cx="558.97" cy="735.05" r="0.9" fill="#111"/>
<line x1="566.52" y1="750.71" x2="566.52" y2="755.3" stroke="#222" stroke-width="0.6"/>
<circle cx="566.52" cy="750.71" r="0.9" fill="#000"/>
<circle cx="566.52" cy="755.3" r="0.9" fill="#111"/>
<line x1="569.46" y1="744.52" x2="569.46" y2="759.8" stroke="#222" stroke-width="0.6"/>
<circle cx="569.46" cy="744.52" r="0.9" fill="#000"/>
<circle cx="569.46" cy="759.8" r="0.9" fill="#111"/>
<line x1="572.4" y1="755.91" x2="572.4" y2="758.96" stroke="#222" stroke-width="0.6"/>
<circle cx="572.4" cy="755.91" r="0.9" fill="#000"/>
<circle cx="572.4" cy="758.96" r="0.9" fill="#111"/>
<line x1="575.34" y1="759.42" x2="575.34" y2="762.48" stroke="#222" stroke-width="0.6"/>
<circle cx="575.34" cy="759.42" r="0.9" fill="#000"/>
<circle cx="575.34" cy="762.48" r="0.9" fill="#111"/>
<line x1="578.28" y1="751.71" x2="578.28" y2="757.82" stroke="#222" stroke-width="0.6"/>
<circle cx="578.28" cy="751.71" r="0.9" fill="#000"/>
<circle cx="578.28" cy="757.82" r="0.9" fill="#111"/>
<line x1="585.83" y1="750.18" x2="585.83" y2="759.35" stroke="#222" stroke-width="0.6"/>
<circle cx="585.83" cy="750.18" r="0.9" fill="#000"/>
<circle cx="585.83" cy="759.35" r="0.9" fill="#111"/>
<line x1="588.77" y1="741.16" x2="588.77" y2="759.5" stroke="#222" stroke-width="0.6"/>
<circle cx="588.77" cy="741.16" r="0.9" fill="#000"/>
<circle cx="588.77" cy="759.5" r="0.9" fill="#111"/>
<line x1="591.71" y1="742.46" x2="591.71" y2="765.38" stroke="#222" stroke-width="0.6"/>
<circle cx="591.71" cy="742.46" r="0.9" fill="#000"/>
<circle cx="591.71" cy="765.38" r="0.9" fill="#111"/>
<line x1="594.65" y1="742.23" x2="594.65" y2="762.1" stroke="#222" stroke-width="0.6"/>
<circle cx="594.65" cy="742.23" r="0.9" fill="#000"/>
<circle cx="594.65" cy="762.1" r="0.9" fill="#111"/>
<line x1="597.59" y1="755.98" x2="597.59" y2="760.57" stroke="#222" stroke-width="0.6"/>
<circle cx="597.59" cy="755.98" r="0.9" fill="#000"/>
<circle cx="597.59" cy="760.57" r="0.9" fill="#111"/>
<line x1="605.14" y1="775.47" x2="605.14" y2="781.58" stroke="#222" stroke-width="0.6"/>
<circle cx="605.14" cy="775.47" r="0.9" fill="#000"/>
<circle cx="605.14" cy="781.58" r="0.9" fill="#111"/>
<line x1="608.08" y1="781.65" x2="608.08" y2="787.77" stroke="#222" stroke-width="0.6"/>
<circle cx="608.08" cy="781.65" r="0.9" fill="#000"/>
<circle cx="608.08" cy="787.77" r="0.9" fill="#111"/>
<line x1="611.02" y1="774.63" x2="611.02" y2="780.74" stroke="#222" stroke-width="0.6"/>
<circle cx="611.02" cy="774.63" r="0.9" fill="#000"/>
<circle cx="611.02" cy="780.74" r="0.9" fill="#111"/>
<line x1="613.96" y1="781.73" x2="613.96" y2="789.37" stroke="#222" stroke-width="0.6"/>
<circle cx="613.96" cy="781.73" r="0.9" fill="#000"/>
<circle cx="613.96" cy="789.37" r="0.9" fill="#111"/>
<line x1="616.9" y1="780.43" x2="616.9" y2="781.96" stroke="#222" stroke-width="0.6"/>
<circle cx="616.9" cy="780.43" r="0.9" fill="#000"/>
<circle cx="616.9" cy="781.96" r="0.9" fill="#111"/>
<line x1="624.45" y1="751.63" x2="624.45" y2="756.21" stroke="#222" stroke-width="0.6"/>
<circle cx="624.45" cy="751.63" r="0.9" fill="#000"/>
<circle cx="624.45" cy="756.21" r="0.9" fill="#111"/>
<line x1="627.39" y1="735.43" x2="627.39" y2="747.66" stroke="#222" stroke-width="0.6"/>
<circle cx="627.39" cy="735.43" r="0.9" fill="#000"/>
<circle cx="627.39" cy="747.66" r="0.9" fill="#111"/>
<line x1="630.33" y1="740.93" x2="630.33" y2="743.99" stroke="#222" stroke-width="0.6"/>
<circle cx="630.33" cy="740.93" r="0.9" fill="#000"/>
<circle cx="630.33" cy="743.99" r="0.9" fill="#111"/>
<line x1="633.27" y1="744.91" x2="633.27" y2="754.07" stroke="#222" stroke-width="0.6"/>
<circle cx="633.27" cy="744.91" r="0.9" fill="#000"/>
<circle cx="633.27" cy="754.07" r="0.9" fill="#111"/>
<line x1="636.21" y1="730.7" x2="636.21" y2="738.34" stroke="#222" stroke-width="0.6"/>
<circle cx="636.21" cy="730.7" r="0.9" fill="#000"/>
<circle cx="636.21" cy="738.34" r="0.9" fill="#111"/>
<line x1="643.76" y1="752.47" x2="643.76" y2="757.05" stroke="#222" stroke-width="0.6"/>
<circle cx="643.76" cy="752.47" r="0.9" fill="#000"/>
<circle cx="643.76" cy="757.05" r="0.9" fill="#111"/>
<line x1="646.7" y1="741.24" x2="646.7" y2="748.88" stroke="#222" stroke-width="0.6"/>
<circle cx="646.7" cy="741.24" r="0.9" fill="#000"/>
<circle cx="646.7" cy="748.88" r="0.9" fill="#111"/>
<line x1="649.64" y1="749.11" x2="649.64" y2="755.22" stroke="#222" stroke-width="0.6"/>
<circle cx="649.64" cy="749.11" r="0.9" fill="#000"/>
<circle cx="649.64" cy="755.22" r="0.9" fill="#111"/>
<line x1="652.58" y1="737.8" x2="652.58" y2="757.66" stroke="#222" stroke-width="0.6"/>
<circle cx="652.58" cy="737.8" r="0.9" fill="#000"/>
<circle cx="652.58" cy="757.66" r="0.9" fill="#111"/>
<line x1="655.52" y1="754.91" x2="655.52" y2="756.44" stroke="#222" stroke-width="0.6"/>
<circle cx="655.52" cy="754.91" r="0.9" fill="#000"/>
<circle cx="655.52" cy="756.44" r="0.9" fill="#111"/>
<line x1="663.07" y1="745.9" x2="663.07" y2="756.59" stroke="#222" stroke-width="0.6"/>
<circle cx="663.07" cy="745.9" r="0.9" fill="#000"/>
<circle cx="663.07" cy="756.59" r="0.9" fill="#111"/>
<line x1="666.01" y1="741.93" x2="666.01" y2="746.51" stroke="#222" stroke-width="0.6"/>
<circle cx="666.01" cy="741.93" r="0.9" fill="#000"/>
<circle cx="666.01" cy="746.51" r="0.9" fill="#111"/>
<line x1="668.95" y1="750.18" x2="668.95" y2="759.35" stroke="#222" stroke-width="0.6"/>
<circle cx="668.95" cy="750.18" r="0.9" fill="#000"/>
<circle cx="668.95" cy="759.35" r="0.9" fill="#111"/>
<line x1="671.89" y1="747.89" x2="671.89" y2="761.64" stroke="#222" stroke-width="0.6"/>
<circle cx="671.89" cy="747.89" r="0.9" fill="#000"/>
<circle cx="671.89" cy="761.64" r="0.9" fill="#111"/>
<line x1="674.83" y1="751.86" x2="674.83" y2="759.5" stroke="#222" stroke-width="0.6"/>
<circle cx="674.83" cy="751.86" r="0.9" fill="#000"/>
<circle cx="674.83" cy="759.5" r="0.9" fill="#111"/>
<line x1="370.8" y1="811.45" x2="676.2" y2="811.45" stroke="#000000" stroke-width="1"/>
<line x1="379.3" y1="811.45" x2="379.3" y2="818.95" stroke="#333" stroke-width="1"/>
<text font-size="9.5" text-anchor="end" fill="#1a1a1a" stroke-width="0.22" transform="translate(381.9,826.05) rotate(-45)"><tspan fill="#1a1a1a" stroke="#1a1a1a">A</tspan><tspan fill="#ee1d23" stroke="#ee1d23">A</tspan><tspan fill="#1a1a1a" stroke="#1a1a1a">A</tspan></text>
<line x1="398.61" y1="811.45" x2="398.61" y2="818.95" stroke="#333" stroke-width="1"/>
<text font-size="9.5" text-anchor="end" fill="#1a1a1a" stroke-width="0.22" transform="translate(401.31,826.05) rotate(-45)"><tspan fill="#1a1a1a" stroke="#1a1a1a">A</tspan><tspan fill="#ee1d23" stroke="#ee1d23">A</tspan><tspan fill="#1a1a1a" stroke="#1a1a1a">C</tspan></text>
<line x1="417.92" y1="811.45" x2="417.92" y2="818.95" stroke="#333" stroke-width="1"/>
<text font-size="9.5" text-anchor="end" fill="#1a1a1a" stroke-width="0.22" transform="translate(420.72,826.05) rotate(-45)"><tspan fill="#1a1a1a" stroke="#1a1a1a">A</tspan><tspan fill="#ee1d23" stroke="#ee1d23">A</tspan><tspan fill="#1a1a1a" stroke="#1a1a1a">G</tspan></text>
<line x1="437.23" y1="811.45" x2="437.23" y2="818.95" stroke="#333" stroke-width="1"/>
<text font-size="9.5" text-anchor="end" fill="#1a1a1a" stroke-width="0.22" transform="translate(440.13,826.05) rotate(-45)"><tspan fill="#1a1a1a" stroke="#1a1a1a">A</tspan><tspan fill="#ee1d23" stroke="#ee1d23">A</tspan><tspan fill="#1a1a1a" stroke="#1a1a1a">T</tspan></text>
<line x1="456.54" y1="811.45" x2="456.54" y2="818.95" stroke="#333" stroke-width="1"/>
<text font-size="9.5" text-anchor="end" fill="#1a1a1a" stroke-width="0.22" transform="translate(459.54,826.05) rotate(-45)"><tspan fill="#1a1a1a" stroke="#1a1a1a">C</tspan><tspan fill="#ee1d23" stroke="#ee1d23">A</tspan><tspan fill="#1a1a1a" stroke="#1a1a1a">A</tspan></text>
<line x1="475.85" y1="811.45" x2="475.85" y2="818.95" stroke="#333" stroke-width="1"/>
<text font-size="9.5" text-anchor="end" fill="#1a1a1a" stroke-width="0.22" transform="translate(478.95,826.05) rotate(-45)"><tspan fill="#1a1a1a" stroke="#1a1a1a">C</tspan><tspan fill="#ee1d23" stroke="#ee1d23">A</tspan><tspan fill="#1a1a1a" stroke="#1a1a1a">C</tspan></text>
<line x1="495.16" y1="811.45" x2="495.16" y2="818.95" stroke="#333" stroke-width="1"/>
<text font-size="9.5" text-anchor="end" fill="#1a1a1a" stroke-width="0.22" transform="translate(498.36,826.05) rotate(-45)"><tspan fill="#1a1a1a" stroke="#1a1a1a">C</tspan><tspan fill="#ee1d23" stroke="#ee1d23">A</tspan><tspan fill="#1a1a1a" stroke="#1a1a1a">G</tspan></text>
<line x1="514.47" y1="811.45" x2="514.47" y2="818.95" stroke="#333" stroke-width="1"/>
<text font-size="9.5" text-anchor="end" fill="#1a1a1a" stroke-width="0.22" transform="translate(517.77,826.05) rotate(-45)"><tspan fill="#1a1a1a" stroke="#1a1a1a">C</tspan><tspan fill="#ee1d23" stroke="#ee1d23">A</tspan><tspan fill="#1a1a1a" stroke="#1a1a1a">T</tspan></text>
<line x1="533.78" y1="811.45" x2="533.78" y2="818.95" stroke="#333" stroke-width="1"/>
<text font-size="9.5" text-anchor="end" fill="#1a1a1a" stroke-width="0.22" transform="translate(537.18,826.05) rotate(-45)"><tspan fill="#1a1a1a" stroke="#1a1a1a">G</tspan><tspan fill="#ee1d23" stroke="#ee1d23">A</tspan><tspan fill="#1a1a1a" stroke="#1a1a1a">A</tspan></text>
<line x1="553.09" y1="811.45" x2="553.09" y2="818.95" stroke="#333" stroke-width="1"/>
<text font-size="9.5" text-anchor="end" fill="#1a1a1a" stroke-width="0.22" transform="translate(556.59,826.05) rotate(-45)"><tspan fill="#1a1a1a" stroke="#1a1a1a">G</tspan><tspan fill="#ee1d23" stroke="#ee1d23">A</tspan><tspan fill="#1a1a1a" stroke="#1a1a1a">C</tspan></text>
<line x1="572.4" y1="811.45" x2="572.4" y2="818.95" stroke="#333" stroke-width="1"/>
<text font-size="9.5" text-anchor="end" fill="#1a1a1a" stroke-width="0.22" transform="translate(576,826.05) rotate(-45)"><tspan fill="#1a1a1a" stroke="#1a1a1a">G</tspan><tspan fill="#ee1d23" stroke="#ee1d23">A</tspan><tspan fill="#1a1a1a" stroke="#1a1a1a">G</tspan></text>
<line x1="591.71" y1="811.45" x2="591.71" y2="818.95" stroke="#333" stroke-width="1"/>
<text font-size="9.5" text-anchor="end" fill="#1a1a1a" stroke-width="0.22" transform="translate(595.41,826.05) rotate(-45)"><tspan fill="#1a1a1a" stroke="#1a1a1a">G</tspan><tspan fill="#ee1d23" stroke="#ee1d23">A</tspan><tspan fill="#1a1a1a" stroke="#1a1a1a">T</tspan></text>
<line x1="611.02" y1="811.45" x2="611.02" y2="818.95" stroke="#333" stroke-width="1"/>
<text font-size="9.5" text-anchor="end" fill="#1a1a1a" stroke-width="0.22" transform="translate(614.82,826.05) rotate(-45)"><tspan fill="#1a1a1a" stroke="#1a1a1a">T</tspan><tspan fill="#ee1d23" stroke="#ee1d23">A</tspan><tspan fill="#1a1a1a" stroke="#1a1a1a">A</tspan></text>
<line x1="630.33" y1="811.45" x2="630.33" y2="818.95" stroke="#333" stroke-width="1"/>
<text font-size="9.5" text-anchor="end" fill="#1a1a1a" stroke-width="0.22" transform="translate(634.23,826.05) rotate(-45)"><tspan fill="#1a1a1a" stroke="#1a1a1a">T</tspan><tspan fill="#ee1d23" stroke="#ee1d23">A</tspan><tspan fill="#1a1a1a" stroke="#1a1a1a">C</tspan></text>
<line x1="649.64" y1="811.45" x2="649.64" y2="818.95" stroke="#333" stroke-width="1"/>
<text font-size="9.5" text-anchor="end" fill="#1a1a1a" stroke-width="0.22" transform="translate(653.64,826.05) rotate(-45)"><tspan fill="#1a1a1a" stroke="#1a1a1a">T</tspan><tspan fill="#ee1d23" stroke="#ee1d23">A</tspan><tspan fill="#1a1a1a" stroke="#1a1a1a">G</tspan></text>
<line x1="668.95" y1="811.45" x2="668.95" y2="818.95" stroke="#333" stroke-width="1"/>
<text font-size="9.5" text-anchor="end" fill="#1a1a1a" stroke-width="0.22" transform="translate(673.05,826.05) rotate(-45)"><tspan fill="#1a1a1a" stroke="#1a1a1a">T</tspan><tspan fill="#ee1d23" stroke="#ee1d23">A</tspan><tspan fill="#1a1a1a" stroke="#1a1a1a">T</tspan></text>
<rect x="396.25" y="666.4" width="7.5" height="5.7" fill="#e8403f" stroke="none" stroke-width="0.6"/>
<text x="0" y="0" font-size="8.6" text-anchor="start" font-weight="normal" fill="#1a1a1a" transform="translate(408.75,672.25) scale(1.1,1)" stroke="#1a1a1a" stroke-width="0.22">ABE8eWQ</text>
<rect x="396.25" y="675.96" width="7.5" height="5.7" fill="#000000" stroke="none" stroke-width="0.6"/>
<text x="0" y="0" font-size="8.6" text-anchor="start" font-weight="normal" fill="#1a1a1a" transform="translate(408.75,681.81) scale(1.1,1)" stroke="#1a1a1a" stroke-width="0.22">231gp41</text>
<rect x="396.25" y="685.52" width="7.5" height="5.7" fill="#6ec4d4" stroke="none" stroke-width="0.6"/>
<text x="0" y="0" font-size="8.6" text-anchor="start" font-weight="normal" fill="#1a1a1a" transform="translate(408.75,691.37) scale(1.1,1)" stroke="#1a1a1a" stroke-width="0.22">532gp41</text>
<rect x="396.25" y="695.08" width="7.5" height="5.7" fill="#66b431" stroke="none" stroke-width="0.6"/>
<text x="0" y="0" font-size="8.6" text-anchor="start" font-weight="normal" fill="#1a1a1a" transform="translate(408.75,700.93) scale(1.1,1)" stroke="#1a1a1a" stroke-width="0.22">945gp41</text>
<rect x="396.25" y="704.64" width="7.5" height="5.7" fill="#1a45a0" stroke="none" stroke-width="0.6"/>
<text x="0" y="0" font-size="8.6" text-anchor="start" font-weight="normal" fill="#1a1a1a" transform="translate(408.75,710.49) scale(1.1,1)" stroke="#1a1a1a" stroke-width="0.22">1055gp41</text>
</svg></body></html>
